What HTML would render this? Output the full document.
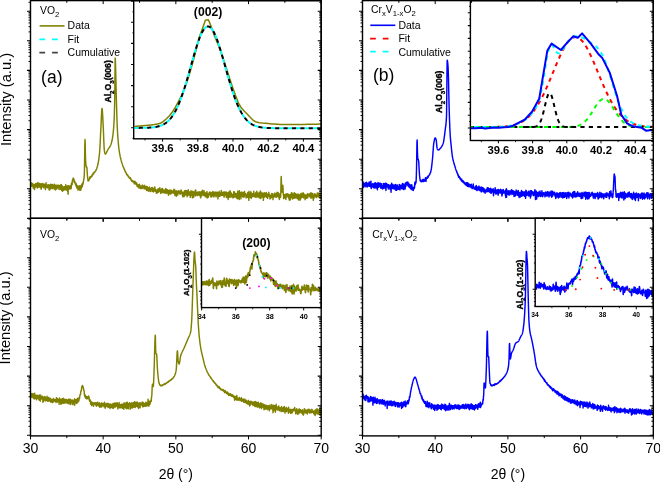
<!DOCTYPE html>
<html><head><meta charset="utf-8"><style>
html,body{margin:0;padding:0;background:#fff;width:660px;height:482px;overflow:hidden}
svg{display:block;will-change:transform;font-family:"Liberation Sans", sans-serif}
</style></head><body>
<svg width="660" height="482" viewBox="0 0 660 482">
<rect width="660" height="482" fill="#fff"/>
<path d="M30.60 184.50L30.75 184.07L30.90 184.96L31.05 185.99L31.20 185.29L31.35 186.20L31.50 184.52L31.65 182.72L31.80 185.42L31.95 185.65L32.10 183.95L32.25 184.16L32.40 184.55L32.55 186.25L32.70 184.79L32.85 183.74L33.00 187.04L33.15 185.52L33.30 188.15L33.45 187.00L33.60 188.07L33.75 185.24L33.90 187.01L34.05 184.49L34.20 184.68L34.35 185.23L34.50 189.60L34.65 185.83L34.80 185.06L34.95 184.82L35.10 187.65L35.25 185.80L35.40 186.67L35.55 186.39L35.70 183.53L35.85 186.42L36.00 185.16L36.15 183.82L36.30 186.09L36.45 185.33L36.60 185.00L36.75 185.09L36.90 187.28L37.05 185.10L37.20 183.27L37.35 187.93L37.50 183.98L37.65 185.09L37.80 186.34L37.95 182.50L38.10 184.18L38.25 187.37L38.40 185.24L38.55 184.49L38.70 185.68L38.85 184.36L39.00 185.51L39.15 184.41L39.30 183.35L39.45 186.56L39.60 185.15L39.75 186.23L39.90 185.29L40.05 187.53L40.20 186.46L40.35 185.84L40.50 184.20L40.65 183.87L40.80 187.85L40.95 186.90L41.10 184.61L41.25 189.21L41.40 186.37L41.55 185.79L41.70 183.80L41.85 184.61L42.00 186.19L42.15 186.27L42.30 186.09L42.45 183.49L42.60 186.41L42.75 186.21L42.90 185.19L43.05 185.94L43.20 186.07L43.35 187.67L43.50 185.80L43.65 186.51L43.80 184.08L43.95 184.82L44.10 185.86L44.25 184.82L44.40 186.40L44.55 184.29L44.70 185.88L44.85 184.99L45.00 188.11L45.15 185.36L45.30 188.90L45.45 189.63L45.60 186.42L45.75 187.45L45.90 185.70L46.05 182.83L46.20 187.36L46.35 187.01L46.50 185.67L46.65 185.25L46.80 186.30L46.95 186.36L47.10 184.97L47.25 185.25L47.40 187.81L47.55 186.19L47.70 186.02L47.85 187.88L48.00 185.69L48.15 187.54L48.30 184.67L48.45 185.83L48.60 186.00L48.75 187.12L48.90 186.35L49.05 189.80L49.20 188.11L49.35 185.63L49.50 190.11L49.65 184.94L49.80 189.34L49.95 185.10L50.10 187.66L50.25 185.09L50.40 186.07L50.55 188.98L50.70 184.46L50.85 184.21L51.00 186.42L51.15 186.77L51.30 186.60L51.45 188.00L51.60 184.74L51.75 187.27L51.90 186.47L52.05 187.73L52.20 187.45L52.35 188.63L52.50 184.59L52.65 186.70L52.80 185.02L52.95 186.46L53.10 187.65L53.25 187.04L53.40 187.45L53.55 186.52L53.70 187.16L53.85 187.05L54.00 188.99L54.15 187.95L54.30 184.21L54.45 187.74L54.60 188.44L54.75 186.13L54.90 184.60L55.05 189.24L55.20 187.04L55.35 187.77L55.50 189.91L55.65 185.62L55.80 186.80L55.95 186.66L56.10 188.06L56.25 186.10L56.40 187.72L56.55 187.07L56.70 188.76L56.85 188.98L57.00 184.90L57.15 187.74L57.30 186.45L57.45 186.98L57.60 187.67L57.75 187.80L57.90 186.00L58.05 187.48L58.20 187.24L58.35 186.98L58.50 185.26L58.65 185.99L58.80 186.45L58.95 188.01L59.10 189.52L59.25 185.65L59.40 185.64L59.55 187.35L59.70 186.29L59.85 185.95L60.00 185.89L60.15 185.77L60.30 187.94L60.45 184.97L60.60 189.38L60.75 185.90L60.90 186.46L61.05 185.91L61.20 184.54L61.35 185.07L61.50 189.26L61.65 190.33L61.80 186.04L61.95 189.04L62.10 187.33L62.25 186.03L62.40 190.28L62.55 191.27L62.70 186.93L62.85 187.28L63.00 187.76L63.15 187.31L63.30 188.84L63.45 190.08L63.60 187.66L63.75 189.07L63.90 190.37L64.05 186.63L64.20 187.53L64.35 186.80L64.50 189.14L64.65 188.56L64.80 189.18L64.95 188.98L65.10 187.17L65.25 188.81L65.40 186.93L65.55 186.97L65.70 184.61L65.85 189.98L66.00 186.17L66.15 187.68L66.30 187.56L66.45 190.11L66.60 188.31L66.75 186.41L66.90 187.69L67.05 187.44L67.20 188.04L67.35 185.85L67.50 187.61L67.65 191.69L67.80 188.74L67.95 191.19L68.10 194.23L68.25 188.47L68.40 185.63L68.55 187.52L68.70 189.61L68.85 189.19L69.00 185.92L69.15 187.35L69.30 187.50L69.45 187.63L69.60 187.45L69.75 186.26L69.90 186.57L70.05 187.00L70.20 188.94L70.35 186.41L70.50 188.13L70.65 185.44L70.80 188.86L70.95 186.94L71.10 186.59L71.25 188.19L71.40 183.67L71.55 183.44L71.70 184.94L71.85 182.83L72.00 182.45L72.15 184.60L72.30 181.01L72.45 180.54L72.60 179.80L72.75 180.12L72.90 179.17L73.05 178.93L73.20 178.07L73.35 178.75L73.50 179.21L73.65 178.49L73.80 180.31L73.95 180.62L74.10 182.28L74.25 179.98L74.40 180.85L74.55 181.26L74.70 181.80L74.85 182.62L75.00 182.85L75.15 183.66L75.30 183.97L75.45 184.04L75.60 182.85L75.75 184.13L75.90 185.13L76.05 186.06L76.20 186.41L76.35 183.93L76.50 185.36L76.65 186.07L76.80 186.79L76.95 188.07L77.10 186.73L77.25 185.63L77.40 187.51L77.55 187.42L77.70 187.55L77.85 187.21L78.00 190.10L78.15 187.98L78.30 189.10L78.45 186.57L78.60 189.20L78.75 187.19L78.90 185.96L79.05 188.73L79.20 189.28L79.35 188.05L79.50 188.41L79.65 190.15L79.80 187.76L79.95 185.61L80.10 188.92L80.25 188.81L80.40 190.19L80.55 187.81L80.70 190.25L80.85 189.79L81.00 186.00L81.15 188.94L81.30 185.85L81.45 185.09L81.60 186.42L81.75 185.78L81.90 183.92L82.05 186.15L82.20 186.31L82.35 186.88L82.50 184.76L82.65 182.88L82.80 182.94L82.95 184.27L83.10 183.56L83.25 182.57L83.40 181.24L83.55 180.91L83.70 179.87L83.85 178.99L84.00 178.29L84.15 176.78L84.30 174.91L84.45 169.56L84.60 159.56L84.75 148.81L84.90 141.01L85.05 139.55L85.20 143.89L85.35 150.76L85.50 157.46L85.65 160.96L85.80 162.94L85.95 164.75L86.10 166.11L86.25 166.93L86.40 166.88L86.55 167.07L86.70 166.99L86.85 167.05L87.00 168.88L87.15 171.37L87.30 173.97L87.45 175.55L87.60 176.92L87.75 178.74L87.90 179.14L88.05 180.94L88.20 179.90L88.35 180.04L88.50 179.91L88.65 180.77L88.80 179.75L88.95 179.79L89.10 179.51L89.25 179.03L89.40 179.18L89.55 178.86L89.70 177.32L89.85 177.65L90.00 177.28L90.15 176.76L90.30 178.06L90.45 177.45L90.60 176.87L90.75 176.66L90.90 176.93L91.05 176.15L91.20 176.40L91.35 176.93L91.50 176.63L91.65 175.66L91.80 175.64L91.95 176.51L92.10 174.91L92.25 175.02L92.40 174.53L92.55 175.02L92.70 174.77L92.85 174.88L93.00 173.30L93.15 174.07L93.30 173.23L93.45 173.80L93.60 173.30L93.75 173.72L93.90 173.06L94.05 172.42L94.20 172.94L94.35 172.01L94.50 172.05L94.65 172.29L94.80 171.93L94.95 171.73L95.10 171.41L95.25 171.35L95.40 171.21L95.55 170.84L95.70 170.79L95.85 170.60L96.00 170.01L96.15 169.50L96.30 169.76L96.45 169.07L96.60 168.86L96.75 168.55L96.90 167.78L97.05 167.62L97.20 166.79L97.35 166.71L97.50 165.99L97.65 165.53L97.80 165.01L97.95 164.16L98.10 163.54L98.25 162.65L98.40 161.88L98.55 161.05L98.70 159.95L98.85 158.85L99.00 157.63L99.15 156.51L99.30 155.13L99.45 153.79L99.60 152.17L99.75 150.41L99.90 148.11L100.05 145.37L100.20 142.39L100.35 139.29L100.50 136.08L100.65 132.91L100.80 129.89L100.95 127.05L101.10 123.86L101.25 120.35L101.40 116.82L101.55 113.58L101.70 110.90L101.85 109.07L102.00 108.40L102.15 108.85L102.30 110.09L102.45 111.98L102.60 114.38L102.75 117.14L102.90 120.12L103.05 123.16L103.20 126.13L103.35 128.96L103.50 132.39L103.65 136.34L103.80 140.43L103.95 144.22L104.10 147.40L104.25 149.61L104.40 150.71L104.55 151.59L104.70 152.32L104.85 153.18L105.00 153.54L105.15 153.94L105.30 153.95L105.45 154.03L105.60 153.91L105.75 153.84L105.90 153.64L106.05 153.32L106.20 153.10L106.35 152.89L106.50 152.61L106.65 152.34L106.80 151.95L106.95 151.60L107.10 151.26L107.25 150.93L107.40 150.63L107.55 150.27L107.70 149.96L107.85 149.62L108.00 149.34L108.15 149.16L108.30 148.95L108.45 148.70L108.60 148.50L108.75 148.29L108.90 148.07L109.05 147.89L109.20 147.63L109.35 147.44L109.50 147.21L109.65 147.00L109.80 146.78L109.95 146.54L110.10 146.26L110.25 145.99L110.40 145.68L110.55 145.37L110.70 145.07L110.85 144.67L111.00 144.30L111.15 143.85L111.30 143.37L111.45 142.88L111.60 142.28L111.75 141.66L111.90 141.01L112.05 140.31L112.20 139.56L112.35 138.76L112.50 137.90L112.65 136.99L112.80 135.99L112.95 134.89L113.10 133.64L113.25 132.24L113.40 130.68L113.55 128.94L113.70 126.98L113.85 124.82L114.00 122.40L114.15 119.39L114.30 115.42L114.45 110.47L114.60 104.52L114.75 96.90L114.90 81.83L115.05 65.65L115.20 58.10L115.35 59.80L115.50 64.03L115.65 69.52L115.80 75.00L115.95 80.73L116.10 87.32L116.25 94.00L116.40 100.00L116.55 105.45L116.70 110.85L116.85 116.01L117.00 120.73L117.15 124.79L117.30 128.00L117.45 130.63L117.60 133.11L117.75 135.41L117.90 137.58L118.05 139.63L118.20 141.51L118.35 143.28L118.50 144.90L118.65 146.37L118.80 147.74L118.95 149.00L119.10 150.11L119.25 151.21L119.40 152.12L119.55 152.99L119.70 153.84L119.85 154.63L120.00 155.43L120.15 156.21L120.30 156.87L120.45 157.63L120.60 158.32L120.75 158.77L120.90 159.41L121.05 159.95L121.20 160.66L121.35 161.07L121.50 161.61L121.65 162.13L121.80 162.77L121.95 163.04L122.10 163.37L122.25 163.89L122.40 164.47L122.55 164.85L122.70 165.20L122.85 166.14L123.00 166.19L123.15 166.50L123.30 166.88L123.45 167.10L123.60 167.57L123.75 168.08L123.90 168.44L124.05 168.70L124.20 169.30L124.35 169.54L124.50 169.67L124.65 169.76L124.80 170.54L124.95 170.82L125.10 171.07L125.25 171.09L125.40 171.72L125.55 171.63L125.70 172.55L125.85 172.62L126.00 172.90L126.15 172.88L126.30 173.07L126.45 174.09L126.60 174.16L126.75 174.01L126.90 174.56L127.05 175.09L127.20 174.45L127.35 174.85L127.50 175.06L127.65 175.61L127.80 175.28L127.95 175.95L128.10 175.65L128.25 176.62L128.40 176.81L128.55 176.58L128.70 177.15L128.85 176.77L129.00 177.13L129.15 177.83L129.30 177.58L129.45 177.95L129.60 177.56L129.75 178.45L129.90 178.53L130.05 177.94L130.20 177.63L130.35 177.89L130.50 178.97L130.65 179.06L130.80 178.56L130.95 179.55L131.10 180.17L131.25 179.74L131.40 179.71L131.55 180.57L131.70 181.21L131.85 181.24L132.00 180.16L132.15 181.13L132.30 180.90L132.45 180.83L132.60 180.72L132.75 181.43L132.90 181.05L133.05 182.06L133.20 181.85L133.35 182.43L133.50 181.17L133.65 182.03L133.80 182.65L133.95 182.51L134.10 182.55L134.25 182.05L134.40 183.82L134.55 183.53L134.70 183.18L134.85 181.31L135.00 182.47L135.15 183.35L135.30 182.87L135.45 182.04L135.60 183.80L135.75 184.02L135.90 182.94L136.05 183.58L136.20 183.55L136.35 184.59L136.50 182.81L136.65 183.06L136.80 184.04L136.95 184.04L137.10 186.53L137.25 184.26L137.40 185.06L137.55 184.62L137.70 184.50L137.85 185.47L138.00 186.84L138.15 185.02L138.30 186.11L138.45 185.80L138.60 186.14L138.75 185.97L138.90 188.06L139.05 184.72L139.20 185.64L139.35 184.93L139.50 184.26L139.65 186.04L139.80 187.97L139.95 187.07L140.10 187.46L140.25 186.79L140.40 186.28L140.55 188.53L140.70 186.13L140.85 188.10L141.00 186.28L141.15 186.73L141.30 186.99L141.45 186.80L141.60 187.33L141.75 187.46L141.90 188.70L142.05 186.95L142.20 185.20L142.35 185.12L142.50 185.76L142.65 186.39L142.80 187.87L142.95 185.77L143.10 187.29L143.25 187.35L143.40 187.63L143.55 187.26L143.70 187.87L143.85 187.53L144.00 188.69L144.15 187.92L144.30 185.32L144.45 187.67L144.60 187.89L144.75 187.11L144.90 186.96L145.05 189.02L145.20 188.01L145.35 186.85L145.50 187.56L145.65 187.76L145.80 186.32L145.95 188.73L146.10 187.90L146.25 188.62L146.40 186.50L146.55 190.49L146.70 188.91L146.85 188.78L147.00 187.48L147.15 187.57L147.30 186.78L147.45 190.23L147.60 187.51L147.75 188.71L147.90 189.19L148.05 187.84L148.20 189.58L148.35 191.16L148.50 188.98L148.65 190.45L148.80 189.39L148.95 188.22L149.10 188.32L149.25 186.98L149.40 188.99L149.55 190.73L149.70 189.74L149.85 189.99L150.00 190.42L150.15 188.41L150.30 189.74L150.45 191.60L150.60 188.21L150.75 189.18L150.90 188.66L151.05 188.99L151.20 188.40L151.35 189.13L151.50 187.78L151.65 188.73L151.80 188.80L151.95 188.81L152.10 191.27L152.25 189.57L152.40 189.72L152.55 189.17L152.70 191.27L152.85 187.60L153.00 189.39L153.15 191.17L153.30 191.93L153.45 189.97L153.60 189.76L153.75 190.61L153.90 189.59L154.05 190.57L154.20 189.08L154.35 190.75L154.50 189.87L154.65 188.65L154.80 186.93L154.95 191.27L155.10 190.55L155.25 191.09L155.40 189.01L155.55 191.60L155.70 190.69L155.85 190.11L156.00 191.44L156.15 191.44L156.30 190.79L156.45 193.29L156.60 192.26L156.75 190.79L156.90 190.06L157.05 190.53L157.20 192.91L157.35 190.96L157.50 189.33L157.65 189.66L157.80 190.51L157.95 191.68L158.10 189.63L158.25 191.28L158.40 192.18L158.55 191.65L158.70 188.72L158.85 190.27L159.00 189.10L159.15 191.28L159.30 189.42L159.45 191.50L159.60 190.89L159.75 187.68L159.90 189.71L160.05 191.45L160.20 190.88L160.35 190.34L160.50 189.23L160.65 191.51L160.80 193.50L160.95 191.25L161.10 190.86L161.25 190.75L161.40 189.21L161.55 190.50L161.70 189.87L161.85 192.61L162.00 189.83L162.15 188.37L162.30 189.99L162.45 190.70L162.60 190.85L162.75 188.79L162.90 192.48L163.05 191.27L163.20 190.50L163.35 190.14L163.50 191.80L163.65 190.76L163.80 191.60L163.95 191.05L164.10 191.43L164.25 192.99L164.40 191.30L164.55 190.10L164.70 192.76L164.85 191.67L165.00 190.42L165.15 192.98L165.30 191.11L165.45 193.00L165.60 189.87L165.75 188.46L165.90 188.81L166.05 191.77L166.20 190.44L166.35 191.31L166.50 191.35L166.65 189.45L166.80 193.59L166.95 190.10L167.10 191.63L167.25 189.67L167.40 191.32L167.55 192.62L167.70 191.22L167.85 190.60L168.00 191.59L168.15 190.97L168.30 192.46L168.45 195.26L168.60 190.45L168.75 190.73L168.90 191.51L169.05 191.64L169.20 190.32L169.35 192.46L169.50 192.87L169.65 192.08L169.80 190.17L169.95 194.05L170.10 190.19L170.25 192.83L170.40 193.60L170.55 190.14L170.70 192.04L170.85 193.99L171.00 192.46L171.15 190.62L171.30 190.29L171.45 192.61L171.60 191.38L171.75 190.96L171.90 192.99L172.05 191.49L172.20 192.07L172.35 192.86L172.50 192.80L172.65 191.96L172.80 192.03L172.95 192.96L173.10 192.75L173.25 190.54L173.40 191.81L173.55 190.87L173.70 190.46L173.85 191.30L174.00 189.15L174.15 193.49L174.30 191.03L174.45 192.70L174.60 189.69L174.75 189.90L174.90 195.59L175.05 193.81L175.20 191.30L175.35 191.14L175.50 191.22L175.65 192.41L175.80 191.64L175.95 191.37L176.10 192.46L176.25 190.88L176.40 196.35L176.55 191.45L176.70 194.06L176.85 191.02L177.00 192.76L177.15 193.85L177.30 191.88L177.45 193.92L177.60 193.93L177.75 195.11L177.90 192.52L178.05 191.75L178.20 191.03L178.35 192.73L178.50 191.01L178.65 192.51L178.80 192.69L178.95 191.71L179.10 191.04L179.25 193.12L179.40 192.97L179.55 192.85L179.70 192.49L179.85 194.09L180.00 191.15L180.15 193.28L180.30 191.97L180.45 194.01L180.60 192.14L180.75 192.10L180.90 193.37L181.05 189.92L181.20 192.17L181.35 190.25L181.50 191.34L181.65 193.83L181.80 193.38L181.95 192.12L182.10 192.70L182.25 192.72L182.40 193.26L182.55 195.99L182.70 193.19L182.85 196.86L183.00 192.29L183.15 194.05L183.30 194.04L183.45 193.23L183.60 192.48L183.75 195.36L183.90 195.98L184.05 194.70L184.20 196.60L184.35 194.55L184.50 190.68L184.65 194.73L184.80 191.99L184.95 195.33L185.10 192.53L185.25 193.51L185.40 193.10L185.55 192.16L185.70 190.53L185.85 192.74L186.00 192.85L186.15 194.68L186.30 192.18L186.45 193.47L186.60 191.84L186.75 193.16L186.90 190.62L187.05 196.68L187.20 193.59L187.35 191.81L187.50 193.70L187.65 194.45L187.80 193.58L187.95 195.54L188.10 192.98L188.25 189.81L188.40 191.49L188.55 195.07L188.70 194.66L188.85 193.86L189.00 191.72L189.15 194.59L189.30 194.37L189.45 191.91L189.60 191.95L189.75 193.86L189.90 195.16L190.05 195.98L190.20 194.43L190.35 197.40L190.50 192.15L190.65 194.33L190.80 192.56L190.95 190.65L191.10 191.58L191.25 195.28L191.40 192.02L191.55 191.62L191.70 194.58L191.85 194.95L192.00 193.53L192.15 196.18L192.30 191.22L192.45 197.88L192.60 195.26L192.75 193.81L192.90 193.75L193.05 193.13L193.20 192.98L193.35 193.75L193.50 191.73L193.65 197.34L193.80 193.42L193.95 194.61L194.10 193.22L194.25 193.09L194.40 194.97L194.55 194.50L194.70 192.26L194.85 192.92L195.00 194.59L195.15 190.59L195.30 190.26L195.45 196.03L195.60 193.01L195.75 190.03L195.90 192.31L196.05 193.15L196.20 193.84L196.35 194.39L196.50 193.85L196.65 194.42L196.80 192.40L196.95 194.17L197.10 194.25L197.25 195.59L197.40 193.62L197.55 195.04L197.70 193.84L197.85 192.01L198.00 192.99L198.15 192.79L198.30 193.02L198.45 193.48L198.60 193.78L198.75 194.08L198.90 192.44L199.05 195.43L199.20 191.64L199.35 193.55L199.50 194.85L199.65 194.41L199.80 194.73L199.95 193.37L200.10 194.81L200.25 191.94L200.40 194.93L200.55 197.85L200.70 194.85L200.85 197.29L201.00 193.71L201.15 192.08L201.30 192.67L201.45 195.97L201.60 194.93L201.75 191.13L201.90 193.18L202.05 193.67L202.20 192.11L202.35 190.30L202.50 191.79L202.65 193.48L202.80 193.15L202.95 192.77L203.10 194.72L203.25 195.51L203.40 193.64L203.55 195.32L203.70 193.83L203.85 193.58L204.00 190.48L204.15 195.17L204.30 193.94L204.45 194.02L204.60 193.08L204.75 192.20L204.90 194.57L205.05 195.15L205.20 196.69L205.35 195.35L205.50 192.96L205.65 193.72L205.80 195.52L205.95 194.41L206.10 193.76L206.25 193.03L206.40 194.80L206.55 194.23L206.70 197.11L206.85 195.81L207.00 191.49L207.15 197.91L207.30 194.40L207.45 193.51L207.60 194.47L207.75 195.22L207.90 193.97L208.05 193.88L208.20 194.01L208.35 197.30L208.50 194.13L208.65 195.34L208.80 194.80L208.95 193.55L209.10 192.92L209.25 192.56L209.40 194.74L209.55 192.53L209.70 192.18L209.85 192.23L210.00 191.89L210.15 194.18L210.30 194.23L210.45 192.70L210.60 196.36L210.75 193.63L210.90 194.85L211.05 194.58L211.20 197.13L211.35 195.50L211.50 194.02L211.65 192.64L211.80 192.50L211.95 194.14L212.10 194.32L212.25 195.42L212.40 193.39L212.55 194.43L212.70 193.09L212.85 191.49L213.00 194.09L213.15 196.71L213.30 195.51L213.45 196.64L213.60 196.14L213.75 192.12L213.90 193.71L214.05 196.78L214.20 193.07L214.35 192.20L214.50 194.68L214.65 195.22L214.80 194.65L214.95 193.65L215.10 193.11L215.25 192.34L215.40 192.30L215.55 192.34L215.70 192.10L215.85 193.10L216.00 196.86L216.15 194.34L216.30 193.64L216.45 194.77L216.60 192.76L216.75 194.74L216.90 195.73L217.05 192.02L217.20 193.13L217.35 193.82L217.50 192.76L217.65 192.57L217.80 193.64L217.95 198.90L218.10 195.32L218.25 194.94L218.40 195.88L218.55 193.88L218.70 192.42L218.85 195.01L219.00 196.18L219.15 191.31L219.30 194.96L219.45 196.37L219.60 193.85L219.75 193.56L219.90 195.42L220.05 193.03L220.20 195.05L220.35 195.82L220.50 193.97L220.65 193.07L220.80 195.32L220.95 193.74L221.10 194.42L221.25 190.38L221.40 195.46L221.55 192.22L221.70 194.36L221.85 194.49L222.00 193.18L222.15 192.93L222.30 192.41L222.45 193.78L222.60 195.31L222.75 195.20L222.90 193.52L223.05 193.41L223.20 192.25L223.35 193.67L223.50 192.73L223.65 192.10L223.80 194.07L223.95 196.98L224.10 196.39L224.25 196.89L224.40 192.02L224.55 195.79L224.70 192.51L224.85 193.45L225.00 191.87L225.15 192.85L225.30 194.54L225.45 194.70L225.60 194.24L225.75 194.10L225.90 195.27L226.05 194.44L226.20 192.04L226.35 197.47L226.50 193.99L226.65 195.95L226.80 194.11L226.95 193.13L227.10 194.51L227.25 193.23L227.40 197.27L227.55 192.76L227.70 195.43L227.85 193.47L228.00 194.14L228.15 199.46L228.30 195.72L228.45 194.10L228.60 192.17L228.75 194.00L228.90 194.05L229.05 196.96L229.20 192.35L229.35 191.85L229.50 194.42L229.65 194.83L229.80 197.38L229.95 193.13L230.10 190.74L230.25 193.38L230.40 192.60L230.55 193.65L230.70 196.19L230.85 192.51L231.00 196.66L231.15 194.85L231.30 194.07L231.45 193.17L231.60 193.87L231.75 193.91L231.90 195.81L232.05 196.79L232.20 194.43L232.35 195.73L232.50 196.83L232.65 196.76L232.80 195.36L232.95 197.93L233.10 196.92L233.25 197.49L233.40 194.27L233.55 193.92L233.70 191.69L233.85 197.23L234.00 195.71L234.15 193.19L234.30 194.93L234.45 195.12L234.60 192.09L234.75 195.14L234.90 196.60L235.05 196.91L235.20 194.07L235.35 194.12L235.50 197.02L235.65 196.30L235.80 193.78L235.95 193.72L236.10 195.69L236.25 193.66L236.40 193.73L236.55 197.87L236.70 195.14L236.85 193.98L237.00 195.59L237.15 198.64L237.30 195.10L237.45 193.49L237.60 192.33L237.75 198.76L237.90 191.02L238.05 196.61L238.20 193.21L238.35 192.82L238.50 193.18L238.65 194.43L238.80 196.69L238.95 193.71L239.10 195.88L239.25 199.55L239.40 190.79L239.55 193.60L239.70 192.06L239.85 196.25L240.00 192.53L240.15 192.37L240.30 192.42L240.45 194.74L240.60 196.80L240.75 195.00L240.90 198.86L241.05 197.80L241.20 194.58L241.35 196.43L241.50 195.00L241.65 194.91L241.80 191.96L241.95 192.81L242.10 194.81L242.25 192.94L242.40 196.07L242.55 195.30L242.70 193.37L242.85 196.92L243.00 195.22L243.15 197.08L243.30 194.58L243.45 192.38L243.60 196.04L243.75 194.42L243.90 196.31L244.05 196.78L244.20 196.94L244.35 192.64L244.50 191.46L244.65 194.04L244.80 196.00L244.95 193.71L245.10 195.35L245.25 193.58L245.40 194.35L245.55 194.37L245.70 193.87L245.85 195.78L246.00 195.49L246.15 197.94L246.30 195.56L246.45 197.35L246.60 195.07L246.75 196.47L246.90 194.68L247.05 194.13L247.20 197.36L247.35 196.23L247.50 196.46L247.65 193.71L247.80 192.37L247.95 193.56L248.10 195.44L248.25 192.71L248.40 197.57L248.55 192.67L248.70 195.98L248.85 200.37L249.00 191.21L249.15 192.57L249.30 196.67L249.45 194.63L249.60 195.25L249.75 194.74L249.90 197.54L250.05 196.05L250.20 194.18L250.35 194.56L250.50 193.12L250.65 194.79L250.80 191.62L250.95 196.13L251.10 194.52L251.25 198.46L251.40 197.13L251.55 192.97L251.70 196.56L251.85 194.12L252.00 195.05L252.15 196.76L252.30 195.53L252.45 195.82L252.60 195.77L252.75 193.81L252.90 193.97L253.05 195.94L253.20 196.53L253.35 194.54L253.50 195.15L253.65 193.44L253.80 191.31L253.95 193.71L254.10 195.06L254.25 195.28L254.40 196.46L254.55 196.56L254.70 196.74L254.85 195.67L255.00 195.73L255.15 193.88L255.30 195.69L255.45 195.35L255.60 197.16L255.75 192.64L255.90 194.25L256.05 192.45L256.20 193.83L256.35 192.86L256.50 195.46L256.65 193.96L256.80 191.32L256.95 197.20L257.10 193.31L257.25 192.60L257.40 194.42L257.55 193.91L257.70 193.18L257.85 196.21L258.00 194.44L258.15 196.61L258.30 196.26L258.45 196.16L258.60 195.34L258.75 194.87L258.90 194.39L259.05 197.69L259.20 192.22L259.35 193.35L259.50 193.98L259.65 195.73L259.80 195.28L259.95 194.26L260.10 194.48L260.25 198.26L260.40 193.98L260.55 191.07L260.70 198.62L260.85 193.61L261.00 194.57L261.15 195.35L261.30 193.08L261.45 197.28L261.60 194.91L261.75 192.96L261.90 195.51L262.05 195.89L262.20 195.00L262.35 195.94L262.50 192.86L262.65 196.79L262.80 193.83L262.95 197.45L263.10 194.14L263.25 195.38L263.40 200.39L263.55 195.22L263.70 197.11L263.85 195.97L264.00 192.90L264.15 197.22L264.30 197.11L264.45 193.05L264.60 195.04L264.75 192.91L264.90 194.72L265.05 196.79L265.20 195.36L265.35 193.36L265.50 193.78L265.65 195.25L265.80 195.18L265.95 195.45L266.10 196.26L266.25 192.41L266.40 195.26L266.55 197.29L266.70 196.09L266.85 194.13L267.00 194.26L267.15 195.51L267.30 196.44L267.45 195.25L267.60 198.40L267.75 197.65L267.90 194.04L268.05 196.11L268.20 194.69L268.35 193.43L268.50 194.27L268.65 195.27L268.80 192.20L268.95 194.25L269.10 195.91L269.25 194.16L269.40 194.66L269.55 196.82L269.70 195.20L269.85 195.60L270.00 199.07L270.15 195.62L270.30 195.81L270.45 196.08L270.60 198.39L270.75 195.94L270.90 195.40L271.05 195.17L271.20 197.37L271.35 194.34L271.50 197.53L271.65 195.72L271.80 193.36L271.95 196.55L272.10 196.23L272.25 193.69L272.40 196.01L272.55 195.86L272.70 195.00L272.85 193.74L273.00 199.64L273.15 196.81L273.30 197.15L273.45 197.30L273.60 196.86L273.75 196.84L273.90 194.89L274.05 196.93L274.20 195.18L274.35 194.73L274.50 196.64L274.65 195.17L274.80 192.93L274.95 194.86L275.10 196.48L275.25 195.49L275.40 196.99L275.55 194.95L275.70 194.04L275.85 196.81L276.00 195.74L276.15 193.68L276.30 196.24L276.45 195.09L276.60 197.19L276.75 196.81L276.90 196.26L277.05 192.30L277.20 196.07L277.35 196.28L277.50 196.33L277.65 195.67L277.80 194.38L277.95 195.10L278.10 192.46L278.25 195.06L278.40 193.26L278.55 194.96L278.70 194.46L278.85 197.96L279.00 195.61L279.15 195.51L279.30 195.80L279.45 199.43L279.60 194.06L279.75 196.02L279.90 196.09L280.05 195.75L280.20 195.65L280.35 194.58L280.50 197.33L280.65 196.59L280.80 192.61L280.95 185.36L281.10 178.08L281.25 176.57L281.40 181.63L281.55 187.81L281.70 189.81L281.85 192.09L282.00 189.24L282.15 189.59L282.30 190.44L282.45 187.85L282.60 186.96L282.75 185.13L282.90 185.78L283.05 189.18L283.20 193.19L283.35 194.90L283.50 194.36L283.65 198.60L283.80 194.32L283.95 197.78L284.10 196.54L284.25 196.21L284.40 197.59L284.55 198.02L284.70 197.34L284.85 195.64L285.00 194.71L285.15 194.76L285.30 197.35L285.45 196.99L285.60 197.23L285.75 194.96L285.90 199.45L286.05 193.82L286.20 196.48L286.35 197.01L286.50 195.16L286.65 194.14L286.80 195.16L286.95 194.12L287.10 195.50L287.25 193.88L287.40 193.87L287.55 195.89L287.70 193.61L287.85 195.48L288.00 195.61L288.15 197.32L288.30 196.23L288.45 194.57L288.60 198.07L288.75 194.76L288.90 195.22L289.05 195.34L289.20 199.93L289.35 195.95L289.50 194.78L289.65 197.08L289.80 195.65L289.95 200.33L290.10 194.76L290.25 196.91L290.40 194.48L290.55 199.17L290.70 194.74L290.85 196.20L291.00 194.58L291.15 197.40L291.30 196.86L291.45 192.65L291.60 197.24L291.75 197.02L291.90 196.28L292.05 197.59L292.20 194.05L292.35 193.33L292.50 197.02L292.65 198.97L292.80 194.09L292.95 194.18L293.10 194.59L293.25 194.11L293.40 197.33L293.55 196.13L293.70 198.30L293.85 198.36L294.00 194.37L294.15 196.99L294.30 192.64L294.45 195.74L294.60 196.94L294.75 194.64L294.90 193.25L295.05 195.11L295.20 197.99L295.35 195.29L295.50 193.83L295.65 196.69L295.80 197.18L295.95 194.34L296.10 195.65L296.25 197.78L296.40 196.50L296.55 197.15L296.70 195.41L296.85 195.70L297.00 194.15L297.15 194.79L297.30 198.68L297.45 195.24L297.60 194.52L297.75 195.17L297.90 194.33L298.05 196.80L298.20 197.51L298.35 194.47L298.50 197.73L298.65 199.94L298.80 194.34L298.95 197.11L299.10 196.39L299.25 198.36L299.40 198.22L299.55 197.90L299.70 196.49L299.85 195.32L300.00 200.25L300.15 194.75L300.30 197.96L300.45 197.74L300.60 194.86L300.75 196.03L300.90 198.65L301.05 193.24L301.20 197.37L301.35 195.52L301.50 195.59L301.65 193.82L301.80 196.67L301.95 194.39L302.10 197.17L302.25 194.23L302.40 197.21L302.55 196.52L302.70 193.19L302.85 195.42L303.00 195.75L303.15 192.75L303.30 195.36L303.45 197.31L303.60 194.80L303.75 197.98L303.90 194.23L304.05 194.13L304.20 196.89L304.35 196.98L304.50 195.65L304.65 195.91L304.80 197.61L304.95 195.05L305.10 199.73L305.25 196.65L305.40 196.61L305.55 196.39L305.70 195.46L305.85 198.08L306.00 195.03L306.15 196.24L306.30 197.04L306.45 198.36L306.60 198.00L306.75 195.38L306.90 197.60L307.05 195.85L307.20 194.35L307.35 194.39L307.50 193.66L307.65 196.44L307.80 197.83L307.95 194.41L308.10 195.47L308.25 194.27L308.40 195.94L308.55 194.17L308.70 194.67L308.85 194.86L309.00 195.18L309.15 195.34L309.30 195.59L309.45 195.61L309.60 194.47L309.75 196.82L309.90 193.44L310.05 196.14L310.20 194.48L310.35 196.12L310.50 196.37L310.65 193.06L310.80 196.48L310.95 198.21L311.10 197.18L311.25 196.49L311.40 192.91L311.55 195.65L311.70 194.56L311.85 197.70L312.00 195.42L312.15 194.94L312.30 193.37L312.45 197.15L312.60 195.05L312.75 195.50L312.90 197.74L313.05 196.01L313.20 196.41L313.35 200.40L313.50 195.06L313.65 195.14L313.80 196.71L313.95 198.34L314.10 193.80L314.25 195.57L314.40 194.45L314.55 193.90L314.70 196.85L314.85 194.75L315.00 196.38L315.15 196.09L315.30 196.13L315.45 195.99L315.60 194.32L315.75 195.79L315.90 196.24L316.05 196.44L316.20 195.46L316.35 197.52L316.50 196.83L316.65 196.08L316.80 196.94L316.95 196.19L317.10 197.02L317.25 193.12L317.40 194.02L317.55 195.29L317.70 196.08L317.85 192.89L318.00 195.49L318.15 196.14L318.30 195.52L318.45 195.52L318.60 193.91L318.75 196.03L318.90 193.00L319.05 197.50L319.20 194.93L319.35 197.72L319.50 193.37L319.65 196.54L319.80 196.09L319.95 194.59L320.10 194.13L320.25 197.92L320.40 196.57L320.55 198.46L320.70 195.78L320.85 196.16L321.00 196.57L321.15 197.15" stroke="#808000" stroke-width="1.45" fill="none" stroke-linejoin="round" />
<path d="M362.70 184.71L362.85 185.31L363.00 183.33L363.15 181.99L363.30 187.50L363.45 184.32L363.60 184.81L363.75 183.43L363.90 185.72L364.05 184.41L364.20 185.89L364.35 183.17L364.50 184.06L364.65 184.47L364.80 183.67L364.95 184.62L365.10 186.88L365.25 183.38L365.40 183.83L365.55 184.52L365.70 182.86L365.85 182.56L366.00 186.10L366.15 185.57L366.30 182.16L366.45 182.34L366.60 185.53L366.75 186.31L366.90 185.39L367.05 185.17L367.20 187.08L367.35 184.36L367.50 186.54L367.65 186.43L367.80 183.11L367.95 185.54L368.10 184.57L368.25 183.55L368.40 183.30L368.55 185.03L368.70 184.44L368.85 185.85L369.00 182.11L369.15 183.59L369.30 186.37L369.45 184.57L369.60 183.54L369.75 183.88L369.90 182.08L370.05 182.68L370.20 185.49L370.35 184.78L370.50 186.79L370.65 184.30L370.80 184.46L370.95 181.11L371.10 184.56L371.25 188.41L371.40 185.81L371.55 184.58L371.70 186.85L371.85 186.18L372.00 185.36L372.15 184.29L372.30 185.07L372.45 186.27L372.60 183.69L372.75 185.72L372.90 185.67L373.05 187.20L373.20 186.17L373.35 183.96L373.50 187.70L373.65 185.06L373.80 183.91L373.95 185.58L374.10 184.64L374.25 186.87L374.40 183.16L374.55 183.46L374.70 184.71L374.85 188.13L375.00 186.83L375.15 183.70L375.30 182.74L375.45 184.71L375.60 183.38L375.75 186.18L375.90 185.52L376.05 185.23L376.20 184.62L376.35 187.90L376.50 183.91L376.65 183.40L376.80 187.26L376.95 187.66L377.10 184.83L377.25 186.45L377.40 189.77L377.55 184.22L377.70 185.20L377.85 186.23L378.00 182.54L378.15 185.29L378.30 186.76L378.45 185.38L378.60 187.30L378.75 186.83L378.90 185.00L379.05 186.51L379.20 186.36L379.35 183.26L379.50 184.38L379.65 184.48L379.80 184.89L379.95 184.98L380.10 183.62L380.25 185.78L380.40 183.13L380.55 187.39L380.70 186.21L380.85 188.21L381.00 186.39L381.15 185.06L381.30 183.75L381.45 186.98L381.60 185.89L381.75 186.50L381.90 187.16L382.05 187.98L382.20 185.86L382.35 189.06L382.50 185.81L382.65 185.96L382.80 187.10L382.95 187.74L383.10 188.45L383.25 183.37L383.40 188.39L383.55 183.81L383.70 185.17L383.85 186.69L384.00 188.10L384.15 184.57L384.30 183.65L384.45 187.73L384.60 186.65L384.75 184.61L384.90 185.67L385.05 183.36L385.20 187.16L385.35 185.40L385.50 188.41L385.65 183.29L385.80 187.49L385.95 190.40L386.10 186.50L386.25 186.54L386.40 183.59L386.55 186.89L386.70 186.38L386.85 185.46L387.00 184.07L387.15 186.50L387.30 184.85L387.45 185.62L387.60 186.92L387.75 186.33L387.90 186.42L388.05 188.03L388.20 184.68L388.35 188.93L388.50 184.77L388.65 185.09L388.80 186.69L388.95 187.84L389.10 186.93L389.25 185.84L389.40 185.45L389.55 186.15L389.70 185.12L389.85 187.55L390.00 186.27L390.15 189.44L390.30 185.50L390.45 186.43L390.60 187.37L390.75 184.96L390.90 185.65L391.05 192.25L391.20 186.66L391.35 189.30L391.50 185.15L391.65 183.30L391.80 187.63L391.95 186.66L392.10 187.20L392.25 186.25L392.40 185.82L392.55 184.91L392.70 188.51L392.85 184.55L393.00 188.42L393.15 186.42L393.30 185.14L393.45 185.78L393.60 188.47L393.75 188.05L393.90 187.65L394.05 186.98L394.20 185.20L394.35 189.15L394.50 186.20L394.65 186.00L394.80 186.08L394.95 186.22L395.10 184.74L395.25 186.20L395.40 185.67L395.55 186.10L395.70 184.41L395.85 190.38L396.00 185.10L396.15 187.40L396.30 187.43L396.45 188.61L396.60 190.32L396.75 187.60L396.90 188.12L397.05 186.24L397.20 189.54L397.35 184.93L397.50 186.58L397.65 187.39L397.80 188.16L397.95 188.29L398.10 188.89L398.25 187.87L398.40 186.99L398.55 187.27L398.70 189.39L398.85 187.41L399.00 188.45L399.15 186.74L399.30 184.39L399.45 186.05L399.60 187.46L399.75 189.73L399.90 189.33L400.05 189.83L400.20 185.89L400.35 188.16L400.50 186.84L400.65 187.90L400.80 186.78L400.95 184.95L401.10 187.97L401.25 187.40L401.40 188.14L401.55 185.61L401.70 188.47L401.85 188.63L402.00 189.06L402.15 189.07L402.30 186.10L402.45 183.45L402.60 188.29L402.75 185.41L402.90 186.35L403.05 188.40L403.20 187.07L403.35 186.98L403.50 187.65L403.65 184.09L403.80 189.63L403.95 186.01L404.10 186.06L404.25 187.34L404.40 186.25L404.55 185.26L404.70 186.19L404.85 185.77L405.00 185.29L405.15 189.07L405.30 183.98L405.45 182.90L405.60 184.08L405.75 183.79L405.90 186.44L406.05 184.54L406.20 184.98L406.35 184.29L406.50 182.29L406.65 183.66L406.80 182.69L406.95 184.32L407.10 182.59L407.25 182.57L407.40 183.70L407.55 184.15L407.70 181.95L407.85 185.61L408.00 185.75L408.15 185.70L408.30 183.61L408.45 182.86L408.60 184.97L408.75 186.48L408.90 186.27L409.05 184.57L409.20 187.24L409.35 184.34L409.50 184.47L409.65 186.22L409.80 185.56L409.95 185.51L410.10 184.61L410.25 188.16L410.40 185.18L410.55 187.31L410.70 187.96L410.85 186.76L411.00 187.28L411.15 188.52L411.30 189.61L411.45 188.61L411.60 185.32L411.75 184.78L411.90 186.52L412.05 185.90L412.20 188.45L412.35 187.92L412.50 187.53L412.65 189.92L412.80 189.94L412.95 188.28L413.10 189.09L413.25 190.51L413.40 188.15L413.55 189.23L413.70 187.23L413.85 188.66L414.00 188.93L414.15 187.95L414.30 188.04L414.45 188.25L414.60 186.35L414.75 183.38L414.90 182.60L415.05 181.89L415.20 184.62L415.35 183.26L415.50 183.23L415.65 182.64L415.80 183.13L415.95 183.03L416.10 181.02L416.25 178.13L416.40 173.83L416.55 167.72L416.70 159.08L416.85 149.04L417.00 141.38L417.15 140.02L417.30 144.79L417.45 151.62L417.60 156.05L417.75 157.53L417.90 158.66L418.05 159.31L418.20 159.73L418.35 159.98L418.50 160.28L418.65 161.17L418.80 162.61L418.95 165.78L419.10 168.54L419.25 170.98L419.40 173.15L419.55 175.22L419.70 176.79L419.85 178.13L420.00 179.35L420.15 180.08L420.30 180.98L420.45 179.97L420.60 181.21L420.75 180.66L420.90 181.60L421.05 181.34L421.20 181.51L421.35 181.00L421.50 180.71L421.65 181.12L421.80 181.80L421.95 181.85L422.10 179.98L422.25 181.36L422.40 181.32L422.55 179.98L422.70 180.19L422.85 180.53L423.00 181.15L423.15 179.17L423.30 180.43L423.45 180.25L423.60 180.69L423.75 181.53L423.90 181.39L424.05 180.05L424.20 179.98L424.35 180.33L424.50 180.90L424.65 181.01L424.80 180.13L424.95 180.83L425.10 179.16L425.25 178.92L425.40 177.84L425.55 178.89L425.70 179.70L425.85 179.75L426.00 181.38L426.15 179.29L426.30 178.89L426.45 178.08L426.60 178.14L426.75 177.99L426.90 178.04L427.05 177.63L427.20 177.05L427.35 178.21L427.50 177.69L427.65 177.99L427.80 176.28L427.95 176.25L428.10 176.31L428.25 177.05L428.40 176.18L428.55 176.16L428.70 175.81L428.85 175.72L429.00 175.20L429.15 175.36L429.30 174.61L429.45 174.61L429.60 174.55L429.75 174.20L429.90 174.01L430.05 173.25L430.20 173.27L430.35 172.71L430.50 172.53L430.65 172.42L430.80 171.24L430.95 171.22L431.10 170.03L431.25 169.22L431.40 168.68L431.55 167.39L431.70 166.10L431.85 164.87L432.00 163.59L432.15 162.00L432.30 160.74L432.45 159.29L432.60 157.72L432.75 155.77L432.90 153.78L433.05 151.62L433.20 149.50L433.35 147.54L433.50 145.77L433.65 144.31L433.80 143.20L433.95 142.34L434.10 141.52L434.25 140.73L434.40 139.98L434.55 139.31L434.70 138.79L434.85 138.35L435.00 138.05L435.15 137.94L435.30 137.92L435.45 138.06L435.60 138.27L435.75 138.60L435.90 138.99L436.05 139.42L436.20 139.90L436.35 140.81L436.50 142.31L436.65 144.13L436.80 145.90L436.95 147.34L437.10 148.14L437.25 148.59L437.40 148.97L437.55 149.27L437.70 149.54L437.85 149.73L438.00 149.89L438.15 150.00L438.30 149.99L438.45 149.96L438.60 149.91L438.75 149.84L438.90 149.79L439.05 149.73L439.20 149.56L439.35 149.47L439.50 149.26L439.65 149.11L439.80 149.00L439.95 148.76L440.10 148.58L440.25 148.43L440.40 148.20L440.55 148.02L440.70 147.93L440.85 147.69L441.00 147.53L441.15 147.33L441.30 147.12L441.45 146.95L441.60 146.72L441.75 146.48L441.90 146.23L442.05 145.94L442.20 145.69L442.35 145.37L442.50 145.01L442.65 144.68L442.80 144.30L442.95 143.95L443.10 143.51L443.25 143.05L443.40 142.49L443.55 141.83L443.70 141.03L443.85 140.18L444.00 139.23L444.15 138.20L444.30 137.11L444.45 135.98L444.60 134.79L444.75 133.59L444.90 132.37L445.05 131.13L445.20 129.90L445.35 128.75L445.50 127.69L445.65 126.65L445.80 125.52L445.95 124.23L446.10 122.68L446.25 120.78L446.40 118.45L446.55 114.93L446.70 103.39L446.85 86.63L447.00 70.50L447.15 60.86L447.30 60.22L447.45 60.83L447.60 61.86L447.75 63.22L447.90 64.83L448.05 66.71L448.20 69.94L448.35 74.07L448.50 79.55L448.65 86.14L448.80 93.24L448.95 100.23L449.10 106.51L449.25 111.56L449.40 116.13L449.55 120.46L449.70 124.51L449.85 128.18L450.00 131.45L450.15 134.21L450.30 136.45L450.45 138.40L450.60 140.14L450.75 141.68L450.90 143.16L451.05 144.60L451.20 145.95L451.35 147.49L451.50 148.99L451.65 150.43L451.80 151.92L451.95 153.26L452.10 154.47L452.25 155.58L452.40 156.50L452.55 157.26L452.70 158.14L452.85 158.80L453.00 159.48L453.15 160.27L453.30 160.77L453.45 161.47L453.60 161.82L453.75 162.42L453.90 162.99L454.05 163.67L454.20 163.99L454.35 164.60L454.50 164.90L454.65 165.52L454.80 166.12L454.95 166.34L455.10 166.86L455.25 167.58L455.40 167.74L455.55 168.48L455.70 168.96L455.85 169.33L456.00 169.98L456.15 170.37L456.30 170.74L456.45 170.75L456.60 171.16L456.75 172.04L456.90 171.91L457.05 172.77L457.20 173.02L457.35 173.22L457.50 173.76L457.65 173.40L457.80 174.43L457.95 175.27L458.10 174.65L458.25 175.57L458.40 175.80L458.55 177.20L458.70 175.79L458.85 176.10L459.00 176.34L459.15 176.49L459.30 176.41L459.45 177.39L459.60 177.16L459.75 178.17L459.90 178.19L460.05 177.70L460.20 178.22L460.35 179.32L460.50 178.61L460.65 179.09L460.80 179.62L460.95 179.11L461.10 179.75L461.25 180.62L461.40 180.52L461.55 179.02L461.70 181.13L461.85 180.21L462.00 180.13L462.15 180.26L462.30 181.61L462.45 181.16L462.60 181.01L462.75 180.72L462.90 181.83L463.05 182.34L463.20 180.99L463.35 181.06L463.50 181.68L463.65 182.52L463.80 181.92L463.95 182.26L464.10 181.86L464.25 183.57L464.40 182.63L464.55 182.96L464.70 183.85L464.85 182.91L465.00 183.17L465.15 183.64L465.30 183.10L465.45 184.75L465.60 183.68L465.75 183.38L465.90 183.60L466.05 183.05L466.20 185.11L466.35 185.50L466.50 184.01L466.65 183.91L466.80 182.64L466.95 183.93L467.10 185.36L467.25 183.92L467.40 185.51L467.55 186.23L467.70 182.65L467.85 184.64L468.00 184.36L468.15 184.56L468.30 183.54L468.45 184.96L468.60 184.18L468.75 186.41L468.90 186.87L469.05 184.18L469.20 184.20L469.35 185.14L469.50 185.48L469.65 185.61L469.80 186.55L469.95 184.42L470.10 185.30L470.25 185.51L470.40 185.70L470.55 185.10L470.70 185.69L470.85 185.50L471.00 187.61L471.15 185.85L471.30 184.29L471.45 187.05L471.60 186.68L471.75 185.67L471.90 185.65L472.05 186.04L472.20 188.65L472.35 186.26L472.50 188.23L472.65 187.85L472.80 186.36L472.95 187.33L473.10 186.17L473.25 183.96L473.40 186.29L473.55 186.39L473.70 188.30L473.85 188.03L474.00 188.60L474.15 187.99L474.30 188.74L474.45 188.24L474.60 187.74L474.75 188.76L474.90 189.36L475.05 189.32L475.20 187.13L475.35 187.62L475.50 186.57L475.65 186.58L475.80 188.22L475.95 187.07L476.10 189.75L476.25 185.43L476.40 186.59L476.55 188.27L476.70 189.54L476.85 187.62L477.00 190.64L477.15 189.15L477.30 187.30L477.45 188.13L477.60 188.89L477.75 187.16L477.90 189.70L478.05 188.02L478.20 189.05L478.35 189.55L478.50 187.90L478.65 189.83L478.80 186.33L478.95 189.35L479.10 186.29L479.25 190.13L479.40 187.93L479.55 190.36L479.70 190.61L479.85 188.58L480.00 187.96L480.15 190.62L480.30 187.42L480.45 190.00L480.60 188.77L480.75 188.49L480.90 188.25L481.05 191.67L481.20 187.09L481.35 188.38L481.50 189.71L481.65 190.61L481.80 191.69L481.95 191.19L482.10 188.54L482.25 189.75L482.40 190.94L482.55 190.08L482.70 187.41L482.85 189.86L483.00 190.25L483.15 187.74L483.30 188.87L483.45 189.46L483.60 190.41L483.75 191.91L483.90 191.33L484.05 190.31L484.20 189.96L484.35 189.20L484.50 188.97L484.65 189.43L484.80 189.46L484.95 191.28L485.10 193.25L485.25 190.60L485.40 191.29L485.55 190.85L485.70 190.31L485.85 191.84L486.00 191.65L486.15 190.14L486.30 189.86L486.45 191.02L486.60 189.38L486.75 190.41L486.90 191.67L487.05 190.09L487.20 187.72L487.35 191.20L487.50 188.64L487.65 188.39L487.80 188.26L487.95 191.53L488.10 187.68L488.25 190.16L488.40 190.73L488.55 190.71L488.70 189.55L488.85 190.34L489.00 190.70L489.15 188.71L489.30 191.59L489.45 192.13L489.60 189.41L489.75 189.55L489.90 189.05L490.05 192.27L490.20 189.10L490.35 189.93L490.50 188.27L490.65 192.66L490.80 190.37L490.95 191.12L491.10 193.34L491.25 191.85L491.40 189.18L491.55 191.50L491.70 191.93L491.85 189.58L492.00 189.44L492.15 189.46L492.30 192.12L492.45 190.98L492.60 189.45L492.75 191.95L492.90 192.13L493.05 189.77L493.20 188.82L493.35 192.87L493.50 195.70L493.65 193.44L493.80 192.69L493.95 191.28L494.10 190.18L494.25 191.33L494.40 192.23L494.55 190.91L494.70 192.71L494.85 191.24L495.00 192.21L495.15 187.65L495.30 190.03L495.45 192.59L495.60 192.88L495.75 191.96L495.90 194.10L496.05 192.48L496.20 192.51L496.35 190.04L496.50 192.03L496.65 192.65L496.80 193.64L496.95 193.36L497.10 191.52L497.25 191.77L497.40 189.80L497.55 192.48L497.70 189.93L497.85 191.10L498.00 191.52L498.15 195.10L498.30 193.72L498.45 190.45L498.60 189.56L498.75 191.27L498.90 190.46L499.05 192.27L499.20 192.23L499.35 192.73L499.50 190.22L499.65 191.15L499.80 192.06L499.95 192.23L500.10 190.87L500.25 191.24L500.40 193.13L500.55 189.31L500.70 191.38L500.85 191.77L501.00 189.66L501.15 190.30L501.30 191.97L501.45 191.03L501.60 193.68L501.75 192.93L501.90 196.08L502.05 190.10L502.20 195.35L502.35 190.89L502.50 193.33L502.65 193.61L502.80 192.28L502.95 191.57L503.10 191.06L503.25 189.46L503.40 191.46L503.55 190.70L503.70 193.04L503.85 190.97L504.00 191.83L504.15 192.85L504.30 192.26L504.45 192.21L504.60 191.82L504.75 191.51L504.90 192.99L505.05 193.41L505.20 191.03L505.35 195.25L505.50 193.23L505.65 189.93L505.80 197.54L505.95 193.40L506.10 191.19L506.25 195.23L506.40 188.66L506.55 197.31L506.70 190.18L506.85 190.02L507.00 190.93L507.15 192.70L507.30 191.78L507.45 193.89L507.60 191.13L507.75 194.32L507.90 192.84L508.05 190.90L508.20 194.34L508.35 193.03L508.50 192.18L508.65 194.81L508.80 190.71L508.95 191.94L509.10 195.18L509.25 192.57L509.40 193.82L509.55 193.62L509.70 192.41L509.85 193.73L510.00 191.09L510.15 193.75L510.30 191.08L510.45 192.65L510.60 191.29L510.75 193.50L510.90 193.45L511.05 194.63L511.20 191.74L511.35 191.22L511.50 189.64L511.65 190.75L511.80 192.28L511.95 193.03L512.10 192.09L512.25 192.75L512.40 190.56L512.55 191.30L512.70 194.16L512.85 193.91L513.00 190.73L513.15 192.28L513.30 193.16L513.45 191.01L513.60 193.44L513.75 193.27L513.90 193.58L514.05 196.45L514.20 191.52L514.35 194.96L514.50 193.81L514.65 194.12L514.80 191.76L514.95 193.00L515.10 192.87L515.25 195.94L515.40 193.06L515.55 195.55L515.70 192.45L515.85 192.37L516.00 192.98L516.15 190.04L516.30 192.15L516.45 192.06L516.60 192.77L516.75 193.32L516.90 191.55L517.05 191.36L517.20 195.31L517.35 191.45L517.50 192.25L517.65 191.60L517.80 192.34L517.95 195.25L518.10 195.12L518.25 190.45L518.40 192.70L518.55 195.62L518.70 192.57L518.85 193.73L519.00 196.51L519.15 197.48L519.30 196.03L519.45 192.74L519.60 193.25L519.75 193.59L519.90 192.74L520.05 192.27L520.20 197.13L520.35 193.71L520.50 194.63L520.65 195.39L520.80 194.15L520.95 193.45L521.10 193.69L521.25 195.85L521.40 194.08L521.55 190.40L521.70 195.11L521.85 196.35L522.00 192.87L522.15 192.39L522.30 192.60L522.45 195.27L522.60 191.83L522.75 194.68L522.90 195.32L523.05 194.38L523.20 193.55L523.35 192.28L523.50 192.42L523.65 193.43L523.80 191.99L523.95 193.28L524.10 192.06L524.25 195.91L524.40 196.25L524.55 192.26L524.70 195.91L524.85 193.95L525.00 193.63L525.15 194.28L525.30 194.23L525.45 191.43L525.60 198.38L525.75 192.16L525.90 190.27L526.05 193.48L526.20 193.56L526.35 192.42L526.50 190.90L526.65 195.62L526.80 193.42L526.95 193.87L527.10 192.70L527.25 193.33L527.40 192.57L527.55 194.29L527.70 193.52L527.85 194.73L528.00 194.73L528.15 193.85L528.30 193.86L528.45 195.68L528.60 191.34L528.75 193.87L528.90 196.10L529.05 192.01L529.20 194.94L529.35 192.89L529.50 193.71L529.65 193.30L529.80 193.43L529.95 194.67L530.10 193.65L530.25 190.81L530.40 197.95L530.55 193.63L530.70 193.06L530.85 195.56L531.00 196.17L531.15 190.69L531.30 194.38L531.45 190.81L531.60 192.95L531.75 193.67L531.90 193.05L532.05 192.82L532.20 192.04L532.35 193.13L532.50 193.59L532.65 193.55L532.80 191.83L532.95 192.59L533.10 195.57L533.25 194.92L533.40 193.34L533.55 194.91L533.70 194.50L533.85 195.52L534.00 194.32L534.15 193.23L534.30 192.39L534.45 193.89L534.60 190.95L534.75 194.04L534.90 189.61L535.05 192.42L535.20 193.16L535.35 194.77L535.50 199.55L535.65 194.21L535.80 193.68L535.95 191.20L536.10 196.41L536.25 191.24L536.40 194.40L536.55 192.88L536.70 198.91L536.85 193.79L537.00 194.58L537.15 192.97L537.30 193.88L537.45 196.01L537.60 192.60L537.75 192.97L537.90 193.13L538.05 192.53L538.20 192.40L538.35 194.10L538.50 196.47L538.65 196.52L538.80 192.08L538.95 193.00L539.10 193.94L539.25 194.82L539.40 194.06L539.55 194.08L539.70 194.67L539.85 195.30L540.00 191.06L540.15 193.78L540.30 195.16L540.45 196.44L540.60 195.38L540.75 193.06L540.90 193.00L541.05 194.53L541.20 194.10L541.35 194.69L541.50 196.11L541.65 192.26L541.80 193.62L541.95 190.74L542.10 195.49L542.25 194.44L542.40 192.88L542.55 194.63L542.70 196.69L542.85 195.87L543.00 194.09L543.15 193.72L543.30 194.42L543.45 192.75L543.60 192.77L543.75 193.77L543.90 194.25L544.05 194.71L544.20 193.44L544.35 192.91L544.50 194.22L544.65 193.62L544.80 194.86L544.95 196.83L545.10 196.06L545.25 193.17L545.40 193.65L545.55 192.03L545.70 194.27L545.85 193.05L546.00 192.41L546.15 192.88L546.30 195.41L546.45 194.70L546.60 194.20L546.75 196.10L546.90 193.67L547.05 192.87L547.20 195.22L547.35 191.60L547.50 194.92L547.65 194.78L547.80 194.84L547.95 195.65L548.10 193.81L548.25 194.44L548.40 192.05L548.55 193.54L548.70 193.65L548.85 194.86L549.00 197.00L549.15 194.65L549.30 195.96L549.45 193.08L549.60 194.58L549.75 192.10L549.90 193.41L550.05 193.27L550.20 194.19L550.35 194.23L550.50 193.55L550.65 193.17L550.80 195.77L550.95 193.81L551.10 190.94L551.25 194.74L551.40 195.01L551.55 195.77L551.70 197.18L551.85 192.83L552.00 194.52L552.15 194.15L552.30 191.96L552.45 191.13L552.60 196.15L552.75 193.05L552.90 193.69L553.05 194.03L553.20 193.91L553.35 194.70L553.50 192.34L553.65 193.72L553.80 194.13L553.95 192.82L554.10 193.32L554.25 193.97L554.40 194.18L554.55 192.15L554.70 193.91L554.85 194.85L555.00 196.17L555.15 195.28L555.30 196.53L555.45 194.55L555.60 194.32L555.75 198.54L555.90 194.70L556.05 193.73L556.20 194.48L556.35 196.38L556.50 192.86L556.65 195.92L556.80 196.90L556.95 196.62L557.10 194.78L557.25 193.27L557.40 193.02L557.55 194.44L557.70 196.85L557.85 195.87L558.00 196.31L558.15 195.07L558.30 198.00L558.45 194.61L558.60 193.79L558.75 195.03L558.90 194.07L559.05 196.39L559.20 197.37L559.35 195.86L559.50 193.06L559.65 193.24L559.80 195.55L559.95 193.00L560.10 195.33L560.25 192.58L560.40 194.05L560.55 195.55L560.70 193.58L560.85 196.11L561.00 196.40L561.15 197.38L561.30 194.40L561.45 194.89L561.60 194.93L561.75 195.48L561.90 192.69L562.05 195.51L562.20 196.03L562.35 192.95L562.50 192.71L562.65 194.28L562.80 197.96L562.95 195.81L563.10 193.87L563.25 194.79L563.40 192.54L563.55 197.22L563.70 193.77L563.85 195.86L564.00 192.86L564.15 194.94L564.30 193.27L564.45 195.90L564.60 197.30L564.75 196.74L564.90 195.83L565.05 196.58L565.20 193.03L565.35 192.84L565.50 194.39L565.65 196.60L565.80 195.02L565.95 195.97L566.10 192.69L566.25 194.33L566.40 194.07L566.55 195.48L566.70 198.53L566.85 196.13L567.00 196.75L567.15 194.25L567.30 194.68L567.45 196.18L567.60 195.47L567.75 192.54L567.90 196.46L568.05 196.39L568.20 195.20L568.35 196.00L568.50 195.54L568.65 194.01L568.80 192.33L568.95 198.05L569.10 194.86L569.25 194.77L569.40 194.97L569.55 195.14L569.70 195.39L569.85 193.33L570.00 195.60L570.15 195.04L570.30 194.84L570.45 194.67L570.60 195.11L570.75 193.34L570.90 194.85L571.05 194.56L571.20 194.92L571.35 196.55L571.50 196.24L571.65 196.63L571.80 194.54L571.95 196.03L572.10 196.65L572.25 194.47L572.40 194.03L572.55 198.01L572.70 192.40L572.85 194.79L573.00 195.01L573.15 193.25L573.30 194.73L573.45 195.84L573.60 191.76L573.75 196.68L573.90 195.00L574.05 193.56L574.20 196.67L574.35 195.01L574.50 194.25L574.65 191.50L574.80 196.35L574.95 194.92L575.10 193.84L575.25 194.72L575.40 196.92L575.55 194.22L575.70 194.68L575.85 194.16L576.00 193.17L576.15 193.33L576.30 194.22L576.45 194.37L576.60 196.72L576.75 195.07L576.90 194.51L577.05 195.50L577.20 194.70L577.35 196.23L577.50 192.62L577.65 191.83L577.80 195.48L577.95 194.23L578.10 195.23L578.25 192.99L578.40 194.18L578.55 194.73L578.70 195.21L578.85 194.66L579.00 196.54L579.15 193.83L579.30 196.04L579.45 194.03L579.60 194.65L579.75 193.23L579.90 194.88L580.05 193.33L580.20 196.40L580.35 193.93L580.50 195.22L580.65 194.55L580.80 194.74L580.95 193.46L581.10 198.53L581.25 194.36L581.40 197.47L581.55 193.08L581.70 198.43L581.85 196.55L582.00 197.82L582.15 192.50L582.30 197.07L582.45 194.68L582.60 195.73L582.75 198.07L582.90 195.40L583.05 193.85L583.20 195.15L583.35 193.46L583.50 195.44L583.65 194.85L583.80 195.48L583.95 194.33L584.10 192.17L584.25 194.30L584.40 194.56L584.55 195.87L584.70 196.11L584.85 192.74L585.00 196.75L585.15 196.39L585.30 195.02L585.45 195.55L585.60 192.10L585.75 199.26L585.90 194.31L586.05 193.79L586.20 196.76L586.35 195.92L586.50 194.20L586.65 192.53L586.80 196.40L586.95 197.62L587.10 193.42L587.25 192.67L587.40 195.40L587.55 198.92L587.70 192.77L587.85 195.18L588.00 193.21L588.15 194.94L588.30 195.47L588.45 195.60L588.60 192.74L588.75 192.79L588.90 198.76L589.05 196.43L589.20 192.35L589.35 195.46L589.50 197.20L589.65 194.86L589.80 195.04L589.95 195.02L590.10 195.65L590.25 195.37L590.40 195.61L590.55 194.36L590.70 196.21L590.85 195.33L591.00 195.10L591.15 192.97L591.30 194.30L591.45 195.05L591.60 194.06L591.75 194.25L591.90 193.28L592.05 194.11L592.20 192.34L592.35 192.93L592.50 194.94L592.65 195.54L592.80 193.57L592.95 194.09L593.10 195.03L593.25 197.42L593.40 198.12L593.55 194.35L593.70 193.73L593.85 193.68L594.00 197.07L594.15 193.35L594.30 195.74L594.45 194.29L594.60 194.25L594.75 196.20L594.90 195.84L595.05 198.61L595.20 196.40L595.35 198.06L595.50 194.22L595.65 194.79L595.80 193.53L595.95 194.34L596.10 195.92L596.25 194.36L596.40 195.51L596.55 193.97L596.70 194.41L596.85 196.53L597.00 194.89L597.15 194.80L597.30 195.38L597.45 193.57L597.60 192.46L597.75 195.48L597.90 195.45L598.05 198.98L598.20 195.10L598.35 195.59L598.50 198.80L598.65 194.45L598.80 194.01L598.95 196.09L599.10 195.49L599.25 196.50L599.40 193.76L599.55 197.51L599.70 195.40L599.85 192.17L600.00 194.82L600.15 194.19L600.30 195.13L600.45 196.87L600.60 194.95L600.75 194.29L600.90 196.60L601.05 194.38L601.20 193.10L601.35 193.34L601.50 197.64L601.65 196.52L601.80 197.70L601.95 193.35L602.10 194.00L602.25 193.87L602.40 196.36L602.55 196.87L602.70 194.80L602.85 194.76L603.00 196.32L603.15 194.70L603.30 193.96L603.45 194.58L603.60 196.65L603.75 198.72L603.90 195.34L604.05 194.68L604.20 195.34L604.35 195.62L604.50 196.06L604.65 193.87L604.80 195.02L604.95 194.75L605.10 196.55L605.25 195.95L605.40 194.69L605.55 196.61L605.70 197.07L605.85 195.47L606.00 193.21L606.15 194.66L606.30 192.87L606.45 195.16L606.60 195.45L606.75 197.33L606.90 195.89L607.05 192.91L607.20 194.47L607.35 193.87L607.50 193.92L607.65 194.98L607.80 195.29L607.95 194.79L608.10 193.97L608.25 194.28L608.40 194.23L608.55 194.74L608.70 196.24L608.85 195.39L609.00 196.54L609.15 193.51L609.30 198.75L609.45 195.33L609.60 191.73L609.75 195.53L609.90 196.89L610.05 195.02L610.20 193.13L610.35 195.24L610.50 194.07L610.65 194.84L610.80 195.59L610.95 190.85L611.10 194.89L611.25 195.86L611.40 195.78L611.55 194.42L611.70 194.38L611.85 193.85L612.00 194.78L612.15 197.44L612.30 194.20L612.45 195.49L612.60 195.45L612.75 197.53L612.90 195.57L613.05 194.20L613.20 191.01L613.35 189.66L613.50 185.97L613.65 183.19L613.80 180.33L613.95 176.97L614.10 174.86L614.25 174.03L614.40 174.93L614.55 174.85L614.70 175.73L614.85 176.20L615.00 176.77L615.15 180.17L615.30 184.87L615.45 189.99L615.60 189.16L615.75 191.43L615.90 192.24L616.05 196.72L616.20 196.94L616.35 193.60L616.50 195.51L616.65 195.62L616.80 194.69L616.95 197.36L617.10 194.05L617.25 195.19L617.40 194.49L617.55 196.33L617.70 194.44L617.85 196.39L618.00 193.81L618.15 193.56L618.30 193.87L618.45 194.45L618.60 194.27L618.75 200.42L618.90 193.99L619.05 195.68L619.20 195.09L619.35 195.70L619.50 197.65L619.65 196.13L619.80 194.25L619.95 193.19L620.10 196.27L620.25 196.76L620.40 193.15L620.55 196.73L620.70 192.34L620.85 195.18L621.00 196.73L621.15 193.79L621.30 192.83L621.45 197.75L621.60 193.01L621.75 195.71L621.90 193.11L622.05 195.88L622.20 198.02L622.35 194.50L622.50 193.88L622.65 192.33L622.80 192.80L622.95 194.22L623.10 195.65L623.25 196.11L623.40 195.74L623.55 196.65L623.70 195.71L623.85 200.07L624.00 194.99L624.15 195.32L624.30 191.76L624.45 194.13L624.60 196.05L624.75 194.41L624.90 197.36L625.05 196.26L625.20 198.61L625.35 193.19L625.50 194.37L625.65 197.27L625.80 195.37L625.95 193.86L626.10 194.52L626.25 194.69L626.40 196.70L626.55 196.32L626.70 195.13L626.85 193.91L627.00 196.65L627.15 197.17L627.30 193.60L627.45 196.83L627.60 193.69L627.75 194.91L627.90 193.97L628.05 192.80L628.20 194.25L628.35 194.12L628.50 196.81L628.65 196.43L628.80 194.32L628.95 193.09L629.10 193.28L629.25 192.09L629.40 194.82L629.55 194.98L629.70 193.81L629.85 195.27L630.00 195.40L630.15 197.06L630.30 193.84L630.45 197.11L630.60 194.53L630.75 197.75L630.90 193.70L631.05 197.04L631.20 194.05L631.35 198.09L631.50 196.03L631.65 193.59L631.80 196.65L631.95 195.22L632.10 196.10L632.25 199.58L632.40 194.85L632.55 194.67L632.70 197.20L632.85 194.46L633.00 196.65L633.15 197.02L633.30 195.33L633.45 196.46L633.60 192.17L633.75 198.05L633.90 194.24L634.05 193.89L634.20 198.91L634.35 198.41L634.50 194.50L634.65 196.14L634.80 194.77L634.95 193.69L635.10 195.97L635.25 197.16L635.40 200.59L635.55 195.06L635.70 196.93L635.85 194.90L636.00 195.02L636.15 197.77L636.30 192.93L636.45 193.79L636.60 194.13L636.75 197.41L636.90 196.06L637.05 196.29L637.20 196.07L637.35 197.31L637.50 194.74L637.65 195.06L637.80 194.85L637.95 196.24L638.10 193.54L638.25 195.13L638.40 200.67L638.55 196.48L638.70 195.52L638.85 194.00L639.00 195.92L639.15 195.84L639.30 196.53L639.45 194.44L639.60 196.18L639.75 196.44L639.90 196.68L640.05 194.61L640.20 196.33L640.35 198.42L640.50 194.52L640.65 196.63L640.80 194.93L640.95 194.90L641.10 193.71L641.25 193.94L641.40 196.43L641.55 195.76L641.70 197.71L641.85 193.09L642.00 194.82L642.15 193.47L642.30 196.02L642.45 199.24L642.60 193.30L642.75 195.37L642.90 195.31L643.05 195.44L643.20 194.55L643.35 194.72L643.50 198.34L643.65 193.93L643.80 196.41L643.95 196.31L644.10 193.07L644.25 194.18L644.40 196.11L644.55 198.90L644.70 195.31L644.85 194.74L645.00 195.70L645.15 197.72L645.30 196.90L645.45 197.75L645.60 195.25L645.75 194.36L645.90 194.07L646.05 196.82L646.20 195.24L646.35 194.76L646.50 196.45L646.65 195.86L646.80 192.62L646.95 195.30L647.10 194.30L647.25 196.34L647.40 195.57L647.55 198.71L647.70 195.69L647.85 193.88L648.00 192.68L648.15 193.88L648.30 194.61L648.45 195.58L648.60 196.66L648.75 195.93L648.90 194.74L649.05 197.00L649.20 194.28L649.35 197.37L649.50 198.91L649.65 197.43L649.80 198.69L649.95 198.11L650.10 194.02L650.25 196.04L650.40 195.38L650.55 194.00L650.70 193.86L650.85 196.57L651.00 193.77L651.15 195.14L651.30 195.74L651.45 195.06L651.60 198.27L651.75 197.09L651.90 195.94L652.05 194.83L652.20 196.39L652.35 195.99L652.50 194.32L652.65 193.70L652.80 194.62L652.95 193.91" stroke="#0000ff" stroke-width="1.45" fill="none" stroke-linejoin="round" />
<path d="M30.60 396.18L30.75 396.07L30.90 395.23L31.05 396.13L31.20 396.47L31.35 393.62L31.50 396.09L31.65 397.28L31.80 395.20L31.95 393.54L32.10 395.82L32.25 394.34L32.40 396.64L32.55 396.75L32.70 397.09L32.85 396.31L33.00 393.77L33.15 397.92L33.30 394.08L33.45 397.75L33.60 396.61L33.75 395.18L33.90 395.48L34.05 395.98L34.20 398.98L34.35 395.94L34.50 398.01L34.65 393.30L34.80 396.84L34.95 396.31L35.10 398.34L35.25 397.33L35.40 398.64L35.55 395.38L35.70 397.11L35.85 395.99L36.00 397.80L36.15 397.56L36.30 395.16L36.45 398.35L36.60 399.77L36.75 396.40L36.90 398.72L37.05 397.66L37.20 395.83L37.35 398.30L37.50 395.93L37.65 398.15L37.80 395.23L37.95 395.47L38.10 397.93L38.25 397.58L38.40 398.54L38.55 397.06L38.70 395.84L38.85 399.63L39.00 396.20L39.15 399.49L39.30 398.77L39.45 400.34L39.60 394.88L39.75 397.51L39.90 397.28L40.05 398.65L40.20 396.26L40.35 401.10L40.50 397.71L40.65 394.98L40.80 398.36L40.95 397.82L41.10 396.96L41.25 399.11L41.40 397.90L41.55 396.68L41.70 397.73L41.85 397.52L42.00 398.57L42.15 397.66L42.30 398.05L42.45 396.25L42.60 397.21L42.75 398.58L42.90 402.29L43.05 397.32L43.20 397.30L43.35 399.72L43.50 401.58L43.65 400.15L43.80 397.21L43.95 400.09L44.10 399.18L44.25 398.24L44.40 396.96L44.55 398.64L44.70 398.79L44.85 399.48L45.00 396.59L45.15 397.31L45.30 398.91L45.45 400.95L45.60 400.00L45.75 398.07L45.90 399.96L46.05 397.72L46.20 398.46L46.35 398.58L46.50 398.13L46.65 398.36L46.80 400.35L46.95 399.58L47.10 396.19L47.25 401.00L47.40 399.88L47.55 397.80L47.70 399.48L47.85 400.48L48.00 401.33L48.15 398.60L48.30 398.00L48.45 397.55L48.60 399.35L48.75 398.05L48.90 401.03L49.05 399.27L49.20 400.52L49.35 399.31L49.50 398.56L49.65 398.17L49.80 401.11L49.95 397.98L50.10 400.37L50.25 401.24L50.40 399.97L50.55 402.00L50.70 399.76L50.85 399.39L51.00 400.10L51.15 399.10L51.30 400.31L51.45 399.87L51.60 402.12L51.75 399.86L51.90 401.20L52.05 400.61L52.20 400.12L52.35 399.74L52.50 402.59L52.65 402.47L52.80 400.50L52.95 399.43L53.10 399.61L53.25 398.92L53.40 398.43L53.55 399.49L53.70 400.22L53.85 401.76L54.00 401.65L54.15 400.93L54.30 399.90L54.45 399.99L54.60 400.31L54.75 400.56L54.90 399.50L55.05 400.09L55.20 399.99L55.35 399.99L55.50 401.24L55.65 402.01L55.80 399.81L55.95 399.93L56.10 400.84L56.25 401.15L56.40 397.69L56.55 401.71L56.70 400.92L56.85 400.26L57.00 402.40L57.15 400.50L57.30 398.37L57.45 399.45L57.60 399.87L57.75 399.94L57.90 400.61L58.05 399.50L58.20 401.03L58.35 401.44L58.50 400.70L58.65 399.64L58.80 400.42L58.95 399.98L59.10 404.16L59.25 399.35L59.40 398.01L59.55 399.21L59.70 401.45L59.85 402.27L60.00 400.64L60.15 402.52L60.30 400.07L60.45 401.84L60.60 399.80L60.75 399.31L60.90 404.38L61.05 400.73L61.20 402.18L61.35 403.34L61.50 402.09L61.65 401.51L61.80 399.83L61.95 403.58L62.10 399.83L62.25 398.68L62.40 400.45L62.55 400.53L62.70 401.31L62.85 403.08L63.00 400.58L63.15 400.80L63.30 400.34L63.45 398.15L63.60 400.37L63.75 400.78L63.90 399.34L64.05 403.45L64.20 403.13L64.35 401.95L64.50 402.38L64.65 400.48L64.80 401.89L64.95 399.19L65.10 399.46L65.25 400.41L65.40 402.02L65.55 400.62L65.70 400.37L65.85 403.08L66.00 401.00L66.15 400.52L66.30 401.18L66.45 399.44L66.60 399.88L66.75 402.72L66.90 401.32L67.05 402.74L67.20 400.71L67.35 402.79L67.50 400.26L67.65 400.96L67.80 400.20L67.95 401.71L68.10 403.74L68.25 399.22L68.40 401.75L68.55 399.69L68.70 400.90L68.85 400.58L69.00 399.14L69.15 401.02L69.30 399.65L69.45 403.79L69.60 400.32L69.75 401.84L69.90 401.68L70.05 401.48L70.20 401.01L70.35 399.34L70.50 404.42L70.65 401.42L70.80 402.54L70.95 399.93L71.10 402.09L71.25 400.85L71.40 402.05L71.55 400.56L71.70 400.11L71.85 402.05L72.00 401.40L72.15 403.65L72.30 401.04L72.45 400.30L72.60 402.27L72.75 399.96L72.90 404.78L73.05 404.38L73.20 403.58L73.35 402.15L73.50 401.41L73.65 401.55L73.80 401.53L73.95 400.44L74.10 402.11L74.25 403.34L74.40 403.31L74.55 398.72L74.70 405.26L74.85 401.65L75.00 399.48L75.15 400.73L75.30 402.61L75.45 401.38L75.60 400.22L75.75 399.78L75.90 402.69L76.05 400.34L76.20 401.00L76.35 399.89L76.50 399.54L76.65 401.82L76.80 403.51L76.95 400.78L77.10 399.06L77.25 400.39L77.40 400.97L77.55 398.29L77.70 402.60L77.85 399.81L78.00 401.55L78.15 400.50L78.30 400.21L78.45 398.33L78.60 400.93L78.75 400.10L78.90 401.06L79.05 398.31L79.20 398.99L79.35 397.70L79.50 398.72L79.65 397.43L79.80 395.63L79.95 395.99L80.10 394.72L80.25 394.14L80.40 394.08L80.55 394.21L80.70 392.01L80.85 391.77L81.00 390.61L81.15 391.26L81.30 390.20L81.45 389.54L81.60 388.22L81.75 386.84L81.90 386.41L82.05 386.12L82.20 385.74L82.35 385.39L82.50 385.73L82.65 385.72L82.80 386.13L82.95 387.36L83.10 387.30L83.25 387.27L83.40 388.54L83.55 389.07L83.70 389.89L83.85 390.41L84.00 390.30L84.15 391.70L84.30 392.93L84.45 395.16L84.60 394.24L84.75 395.99L84.90 396.51L85.05 394.91L85.20 395.22L85.35 397.65L85.50 395.56L85.65 396.08L85.80 397.35L85.95 396.23L86.10 398.55L86.25 398.31L86.40 398.69L86.55 398.48L86.70 396.71L86.85 398.87L87.00 398.72L87.15 398.52L87.30 397.38L87.45 397.80L87.60 396.64L87.75 397.97L87.90 398.46L88.05 397.66L88.20 397.19L88.35 398.17L88.50 397.20L88.65 396.07L88.80 398.49L88.95 398.17L89.10 397.25L89.25 399.61L89.40 400.25L89.55 400.98L89.70 399.62L89.85 399.85L90.00 401.04L90.15 401.15L90.30 399.92L90.45 400.69L90.60 404.26L90.75 402.33L90.90 402.32L91.05 401.57L91.20 402.95L91.35 403.65L91.50 403.44L91.65 405.65L91.80 402.95L91.95 403.85L92.10 402.40L92.25 404.65L92.40 403.80L92.55 404.69L92.70 404.89L92.85 402.38L93.00 404.07L93.15 402.83L93.30 405.19L93.45 403.41L93.60 406.24L93.75 404.33L93.90 404.42L94.05 402.92L94.20 403.51L94.35 404.06L94.50 402.71L94.65 403.62L94.80 403.18L94.95 402.91L95.10 404.09L95.25 404.45L95.40 403.60L95.55 404.69L95.70 403.58L95.85 402.66L96.00 403.02L96.15 404.76L96.30 406.19L96.45 404.33L96.60 404.46L96.75 402.82L96.90 404.88L97.05 404.65L97.20 403.36L97.35 405.08L97.50 404.64L97.65 402.20L97.80 402.49L97.95 403.60L98.10 404.11L98.25 405.95L98.40 403.75L98.55 404.45L98.70 404.24L98.85 405.32L99.00 404.59L99.15 404.86L99.30 404.17L99.45 402.74L99.60 404.13L99.75 407.25L99.90 406.12L100.05 407.15L100.20 405.87L100.35 403.94L100.50 404.17L100.65 405.62L100.80 404.38L100.95 405.89L101.10 406.97L101.25 406.96L101.40 406.09L101.55 402.95L101.70 406.89L101.85 403.20L102.00 403.10L102.15 405.14L102.30 404.96L102.45 405.80L102.60 404.95L102.75 404.03L102.90 404.93L103.05 403.61L103.20 403.39L103.35 404.50L103.50 404.54L103.65 405.09L103.80 404.54L103.95 406.72L104.10 404.48L104.25 404.77L104.40 406.35L104.55 402.34L104.70 406.55L104.85 406.40L105.00 404.72L105.15 408.22L105.30 406.31L105.45 407.51L105.60 406.61L105.75 405.36L105.90 404.73L106.05 403.71L106.20 404.10L106.35 403.63L106.50 404.41L106.65 405.91L106.80 403.75L106.95 405.96L107.10 406.16L107.25 403.26L107.40 404.20L107.55 404.98L107.70 404.27L107.85 404.11L108.00 407.41L108.15 405.46L108.30 407.13L108.45 405.17L108.60 406.34L108.75 403.56L108.90 404.65L109.05 406.58L109.20 405.41L109.35 407.24L109.50 405.34L109.65 404.65L109.80 405.04L109.95 408.50L110.10 405.91L110.25 404.73L110.40 405.01L110.55 403.90L110.70 407.42L110.85 404.73L111.00 406.43L111.15 405.20L111.30 404.91L111.45 404.54L111.60 406.34L111.75 405.23L111.90 407.28L112.05 407.69L112.20 404.74L112.35 405.59L112.50 408.06L112.65 406.79L112.80 405.50L112.95 403.49L113.10 404.13L113.25 404.45L113.40 408.37L113.55 405.69L113.70 404.89L113.85 405.01L114.00 404.98L114.15 405.90L114.30 403.28L114.45 403.62L114.60 405.70L114.75 407.05L114.90 402.94L115.05 406.38L115.20 403.98L115.35 403.11L115.50 407.00L115.65 405.17L115.80 406.08L115.95 404.87L116.10 405.13L116.25 403.08L116.40 404.77L116.55 405.60L116.70 404.07L116.85 405.98L117.00 406.11L117.15 402.74L117.30 406.81L117.45 406.29L117.60 405.52L117.75 407.18L117.90 408.99L118.05 404.15L118.20 406.74L118.35 406.36L118.50 406.11L118.65 407.04L118.80 407.19L118.95 405.33L119.10 402.53L119.25 404.54L119.40 404.52L119.55 407.89L119.70 405.57L119.85 407.34L120.00 404.47L120.15 405.85L120.30 405.47L120.45 405.64L120.60 406.37L120.75 407.88L120.90 404.70L121.05 407.63L121.20 407.29L121.35 405.91L121.50 406.52L121.65 405.10L121.80 404.10L121.95 405.11L122.10 405.17L122.25 405.41L122.40 404.27L122.55 408.37L122.70 404.91L122.85 406.82L123.00 407.29L123.15 405.39L123.30 405.95L123.45 404.58L123.60 403.90L123.75 409.20L123.90 405.46L124.05 402.83L124.20 404.16L124.35 403.43L124.50 405.18L124.65 407.54L124.80 407.02L124.95 404.33L125.10 403.99L125.25 406.37L125.40 405.66L125.55 404.90L125.70 408.02L125.85 405.75L126.00 403.12L126.15 402.44L126.30 405.37L126.45 402.83L126.60 405.97L126.75 406.40L126.90 408.84L127.05 403.87L127.20 405.70L127.35 402.19L127.50 404.68L127.65 404.86L127.80 407.99L127.95 403.13L128.10 405.63L128.25 405.32L128.40 408.68L128.55 403.81L128.70 403.72L128.85 405.94L129.00 404.91L129.15 404.48L129.30 403.72L129.45 404.86L129.60 402.75L129.75 405.34L129.90 405.87L130.05 405.65L130.20 409.19L130.35 406.15L130.50 403.58L130.65 404.55L130.80 406.14L130.95 404.42L131.10 408.14L131.25 405.29L131.40 404.15L131.55 403.91L131.70 406.00L131.85 403.61L132.00 402.41L132.15 405.44L132.30 403.80L132.45 407.23L132.60 407.94L132.75 403.94L132.90 404.71L133.05 404.48L133.20 405.61L133.35 405.17L133.50 403.63L133.65 402.49L133.80 405.03L133.95 407.30L134.10 403.00L134.25 403.86L134.40 403.74L134.55 404.41L134.70 401.72L134.85 404.54L135.00 403.93L135.15 407.58L135.30 405.48L135.45 405.63L135.60 404.65L135.75 404.12L135.90 405.71L136.05 402.33L136.20 406.19L136.35 405.23L136.50 404.23L136.65 406.47L136.80 403.76L136.95 403.67L137.10 404.96L137.25 402.07L137.40 404.41L137.55 404.12L137.70 405.96L137.85 407.14L138.00 405.43L138.15 404.96L138.30 405.16L138.45 403.44L138.60 408.42L138.75 406.20L138.90 407.38L139.05 402.69L139.20 405.29L139.35 405.21L139.50 406.13L139.65 403.23L139.80 405.05L139.95 404.13L140.10 407.72L140.25 402.87L140.40 403.88L140.55 403.66L140.70 402.77L140.85 404.69L141.00 404.65L141.15 403.42L141.30 403.81L141.45 404.75L141.60 404.33L141.75 405.13L141.90 403.41L142.05 403.11L142.20 404.37L142.35 401.94L142.50 406.77L142.65 404.70L142.80 402.12L142.95 404.96L143.10 406.85L143.25 402.49L143.40 403.57L143.55 406.15L143.70 403.26L143.85 405.86L144.00 406.37L144.15 404.51L144.30 404.99L144.45 405.95L144.60 404.80L144.75 405.78L144.90 404.17L145.05 404.28L145.20 403.22L145.35 404.89L145.50 406.27L145.65 406.24L145.80 404.55L145.95 402.16L146.10 403.02L146.25 405.11L146.40 402.87L146.55 405.90L146.70 402.75L146.85 404.67L147.00 403.04L147.15 403.22L147.30 404.47L147.45 403.59L147.60 405.65L147.75 404.12L147.90 402.54L148.05 399.18L148.20 403.00L148.35 403.81L148.50 405.40L148.65 402.42L148.80 406.26L148.95 404.78L149.10 403.03L149.25 405.08L149.40 401.32L149.55 401.69L149.70 403.58L149.85 403.35L150.00 404.13L150.15 403.97L150.30 401.44L150.45 401.00L150.60 401.04L150.75 400.86L150.90 401.44L151.05 400.09L151.20 401.46L151.35 399.33L151.50 397.41L151.65 396.66L151.80 395.84L151.95 392.70L152.10 388.80L152.25 385.90L152.40 384.76L152.55 384.13L152.70 384.33L152.85 384.71L153.00 385.86L153.15 386.03L153.30 386.49L153.45 384.87L153.60 382.76L153.75 379.23L153.90 375.12L154.05 370.98L154.20 367.08L154.35 362.18L154.50 356.52L154.65 350.72L154.80 345.19L154.95 340.43L155.10 336.92L155.25 335.13L155.40 336.86L155.55 343.95L155.70 351.15L155.85 353.31L156.00 353.54L156.15 353.64L156.30 353.76L156.45 353.89L156.60 354.09L156.75 355.23L156.90 357.66L157.05 360.88L157.20 364.36L157.35 367.49L157.50 369.77L157.65 371.58L157.80 373.28L157.95 374.97L158.10 376.51L158.25 377.73L158.40 379.08L158.55 380.50L158.70 381.52L158.85 382.28L159.00 382.70L159.15 383.48L159.30 383.63L159.45 384.42L159.60 384.55L159.75 384.45L159.90 384.60L160.05 385.34L160.20 385.44L160.35 385.20L160.50 385.62L160.65 385.73L160.80 385.48L160.95 385.56L161.10 385.31L161.25 385.37L161.40 385.71L161.55 385.56L161.70 385.51L161.85 385.81L162.00 385.66L162.15 385.10L162.30 385.72L162.45 384.98L162.60 385.10L162.75 385.14L162.90 384.90L163.05 384.85L163.20 384.59L163.35 384.92L163.50 384.80L163.65 384.72L163.80 384.13L163.95 384.28L164.10 384.65L164.25 384.42L164.40 384.44L164.55 384.18L164.70 384.06L164.85 383.51L165.00 384.39L165.15 383.65L165.30 383.70L165.45 383.89L165.60 383.68L165.75 383.67L165.90 383.46L166.05 383.16L166.20 383.63L166.35 382.91L166.50 383.19L166.65 382.69L166.80 382.82L166.95 382.55L167.10 382.59L167.25 382.38L167.40 382.49L167.55 382.57L167.70 382.16L167.85 382.04L168.00 381.66L168.15 382.37L168.30 381.89L168.45 381.54L168.60 381.87L168.75 381.56L168.90 381.00L169.05 381.02L169.20 381.33L169.35 380.79L169.50 380.71L169.65 380.67L169.80 380.62L169.95 380.52L170.10 380.60L170.25 380.42L170.40 380.09L170.55 380.08L170.70 379.68L170.85 379.93L171.00 380.16L171.15 379.70L171.30 379.49L171.45 379.36L171.60 379.29L171.75 379.31L171.90 378.82L172.05 379.02L172.20 378.68L172.35 378.69L172.50 378.68L172.65 378.15L172.80 378.57L172.95 378.16L173.10 377.81L173.25 377.74L173.40 377.40L173.55 377.32L173.70 377.16L173.85 376.61L174.00 376.69L174.15 376.44L174.30 376.30L174.45 375.98L174.60 375.52L174.75 375.21L174.90 374.91L175.05 374.58L175.20 374.00L175.35 373.75L175.50 373.08L175.65 372.49L175.80 371.89L175.95 371.11L176.10 370.40L176.25 369.50L176.40 367.50L176.55 364.85L176.70 361.62L176.85 358.29L177.00 355.13L177.15 352.60L177.30 351.02L177.45 350.78L177.60 352.22L177.75 354.69L177.90 357.54L178.05 360.13L178.20 361.54L178.35 362.17L178.50 362.75L178.65 363.30L178.80 363.62L178.95 363.86L179.10 364.02L179.25 363.78L179.40 363.32L179.55 362.69L179.70 361.87L179.85 360.82L180.00 359.81L180.15 358.76L180.30 357.74L180.45 356.84L180.60 356.06L180.75 355.52L180.90 355.04L181.05 354.61L181.20 354.20L181.35 353.79L181.50 353.40L181.65 353.05L181.80 352.66L181.95 352.37L182.10 352.06L182.25 351.73L182.40 351.43L182.55 351.14L182.70 350.85L182.85 350.56L183.00 350.26L183.15 349.97L183.30 349.69L183.45 349.38L183.60 349.07L183.75 348.75L183.90 348.46L184.05 348.09L184.20 347.74L184.35 347.39L184.50 347.05L184.65 346.70L184.80 346.35L184.95 346.01L185.10 345.67L185.25 345.31L185.40 344.98L185.55 344.63L185.70 344.28L185.85 343.94L186.00 343.60L186.15 343.24L186.30 342.90L186.45 342.54L186.60 342.18L186.75 341.83L186.90 341.48L187.05 341.12L187.20 340.76L187.35 340.40L187.50 340.03L187.65 339.67L187.80 339.30L187.95 338.93L188.10 338.55L188.25 338.18L188.40 337.83L188.55 337.49L188.70 337.18L188.85 336.87L189.00 336.57L189.15 336.27L189.30 335.96L189.45 335.64L189.60 335.30L189.75 334.93L189.90 334.53L190.05 334.09L190.20 333.61L190.35 333.08L190.50 332.48L190.65 331.83L190.80 331.04L190.95 329.91L191.10 328.47L191.25 326.76L191.40 324.84L191.55 322.73L191.70 320.35L191.85 317.26L192.00 313.57L192.15 309.42L192.30 304.95L192.45 300.30L192.60 295.61L192.75 291.02L192.90 286.68L193.05 282.71L193.20 279.03L193.35 275.03L193.50 270.83L193.65 266.63L193.80 262.61L193.95 258.98L194.10 255.92L194.25 253.62L194.40 252.27L194.55 252.14L194.70 253.86L194.85 256.70L195.00 259.59L195.15 261.50L195.30 262.68L195.45 263.69L195.60 264.90L195.75 266.76L195.90 270.26L196.05 274.80L196.20 279.40L196.35 283.12L196.50 286.25L196.65 289.14L196.80 291.98L196.95 294.95L197.10 298.21L197.25 301.70L197.40 305.28L197.55 308.77L197.70 312.00L197.85 315.05L198.00 318.08L198.15 321.01L198.30 323.80L198.45 326.36L198.60 328.66L198.75 330.62L198.90 332.44L199.05 334.15L199.20 335.76L199.35 337.30L199.50 338.74L199.65 340.11L199.80 341.39L199.95 342.60L200.10 343.74L200.25 344.80L200.40 345.80L200.55 346.74L200.70 347.64L200.85 348.51L201.00 349.33L201.15 350.11L201.30 350.90L201.45 351.62L201.60 352.33L201.75 353.00L201.90 353.67L202.05 354.31L202.20 354.96L202.35 355.56L202.50 356.18L202.65 356.84L202.80 357.42L202.95 358.06L203.10 358.61L203.25 359.30L203.40 359.94L203.55 360.57L203.70 361.22L203.85 361.85L204.00 362.42L204.15 363.09L204.30 363.66L204.45 364.23L204.60 364.89L204.75 365.29L204.90 365.84L205.05 366.30L205.20 366.86L205.35 367.20L205.50 367.65L205.65 368.13L205.80 368.34L205.95 368.86L206.10 369.30L206.25 369.64L206.40 369.95L206.55 370.28L206.70 370.67L206.85 370.95L207.00 371.25L207.15 371.81L207.30 372.05L207.45 372.39L207.60 372.58L207.75 372.72L207.90 373.08L208.05 373.54L208.20 373.73L208.35 373.84L208.50 374.28L208.65 374.48L208.80 374.68L208.95 375.20L209.10 375.11L209.25 375.40L209.40 375.60L209.55 376.04L209.70 376.24L209.85 376.45L210.00 376.54L210.15 376.79L210.30 377.00L210.45 376.95L210.60 377.23L210.75 377.77L210.90 377.96L211.05 377.77L211.20 378.32L211.35 378.23L211.50 378.39L211.65 378.97L211.80 379.12L211.95 379.25L212.10 379.63L212.25 379.86L212.40 379.94L212.55 379.89L212.70 380.35L212.85 380.50L213.00 380.75L213.15 381.15L213.30 380.72L213.45 381.78L213.60 381.59L213.75 381.50L213.90 382.16L214.05 381.87L214.20 381.90L214.35 382.62L214.50 382.54L214.65 383.07L214.80 382.83L214.95 383.13L215.10 383.27L215.25 383.14L215.40 383.57L215.55 383.50L215.70 383.87L215.85 384.59L216.00 384.33L216.15 384.43L216.30 385.21L216.45 384.51L216.60 385.07L216.75 385.14L216.90 385.72L217.05 385.55L217.20 385.64L217.35 386.01L217.50 386.02L217.65 386.97L217.80 385.87L217.95 386.91L218.10 387.47L218.25 387.15L218.40 387.24L218.55 386.85L218.70 387.55L218.85 387.21L219.00 387.84L219.15 386.73L219.30 387.49L219.45 387.06L219.60 388.38L219.75 387.80L219.90 388.60L220.05 388.06L220.20 388.13L220.35 389.25L220.50 389.16L220.65 389.29L220.80 389.56L220.95 389.31L221.10 389.53L221.25 389.87L221.40 389.25L221.55 389.15L221.70 390.14L221.85 389.87L222.00 389.71L222.15 389.92L222.30 390.26L222.45 389.62L222.60 389.70L222.75 389.87L222.90 390.41L223.05 389.43L223.20 389.64L223.35 390.81L223.50 390.76L223.65 390.18L223.80 391.32L223.95 390.77L224.10 391.05L224.25 391.56L224.40 391.40L224.55 392.27L224.70 391.77L224.85 392.73L225.00 390.43L225.15 390.92L225.30 391.17L225.45 391.78L225.60 391.47L225.75 391.41L225.90 391.65L226.05 391.79L226.20 392.99L226.35 392.26L226.50 392.95L226.65 393.46L226.80 393.53L226.95 392.63L227.10 392.34L227.25 393.98L227.40 392.09L227.55 392.34L227.70 393.60L227.85 393.75L228.00 393.58L228.15 392.98L228.30 393.97L228.45 394.57L228.60 393.66L228.75 395.48L228.90 393.97L229.05 393.37L229.20 394.03L229.35 393.78L229.50 394.06L229.65 393.98L229.80 394.48L229.95 395.28L230.10 394.92L230.25 394.89L230.40 394.02L230.55 393.84L230.70 394.77L230.85 395.75L231.00 395.81L231.15 395.47L231.30 394.38L231.45 395.23L231.60 395.61L231.75 396.26L231.90 395.05L232.05 395.58L232.20 395.93L232.35 395.88L232.50 394.75L232.65 396.25L232.80 394.89L232.95 395.29L233.10 396.31L233.25 395.71L233.40 396.61L233.55 397.30L233.70 396.89L233.85 397.53L234.00 396.38L234.15 396.87L234.30 396.48L234.45 396.33L234.60 400.18L234.75 396.91L234.90 398.96L235.05 397.18L235.20 398.21L235.35 397.37L235.50 396.36L235.65 399.26L235.80 397.51L235.95 397.82L236.10 399.70L236.25 397.30L236.40 397.92L236.55 398.51L236.70 398.79L236.85 395.43L237.00 398.60L237.15 400.14L237.30 399.28L237.45 398.78L237.60 398.86L237.75 398.63L237.90 399.68L238.05 398.16L238.20 399.23L238.35 400.23L238.50 399.71L238.65 399.33L238.80 398.17L238.95 398.58L239.10 399.47L239.25 399.17L239.40 399.03L239.55 397.37L239.70 400.03L239.85 398.96L240.00 398.76L240.15 400.59L240.30 399.42L240.45 399.50L240.60 400.24L240.75 399.20L240.90 398.80L241.05 398.75L241.20 400.17L241.35 399.82L241.50 397.76L241.65 401.39L241.80 399.95L241.95 399.31L242.10 400.13L242.25 399.65L242.40 400.21L242.55 399.65L242.70 399.15L242.85 400.81L243.00 400.39L243.15 400.72L243.30 401.17L243.45 400.78L243.60 402.15L243.75 400.03L243.90 399.08L244.05 399.12L244.20 399.59L244.35 402.18L244.50 399.42L244.65 401.96L244.80 401.21L244.95 399.21L245.10 402.54L245.25 400.32L245.40 400.98L245.55 401.53L245.70 402.46L245.85 400.94L246.00 402.02L246.15 400.32L246.30 400.16L246.45 403.32L246.60 402.22L246.75 402.03L246.90 403.17L247.05 403.13L247.20 401.65L247.35 402.04L247.50 403.98L247.65 402.53L247.80 401.29L247.95 403.48L248.10 403.14L248.25 400.22L248.40 400.54L248.55 404.22L248.70 403.88L248.85 401.70L249.00 403.74L249.15 402.54L249.30 402.84L249.45 401.64L249.60 405.92L249.75 405.44L249.90 404.04L250.05 401.27L250.20 402.70L250.35 404.87L250.50 401.99L250.65 401.77L250.80 402.98L250.95 403.13L251.10 402.21L251.25 401.35L251.40 402.64L251.55 402.21L251.70 402.98L251.85 403.45L252.00 404.23L252.15 402.72L252.30 403.47L252.45 403.44L252.60 402.02L252.75 402.59L252.90 402.17L253.05 405.52L253.20 402.62L253.35 404.17L253.50 404.52L253.65 404.62L253.80 402.00L253.95 402.49L254.10 404.56L254.25 405.22L254.40 403.64L254.55 404.33L254.70 401.70L254.85 405.90L255.00 406.55L255.15 404.22L255.30 403.90L255.45 403.77L255.60 403.01L255.75 401.49L255.90 404.55L256.05 404.88L256.20 406.81L256.35 403.87L256.50 403.12L256.65 404.64L256.80 402.79L256.95 404.32L257.10 402.46L257.25 403.99L257.40 406.05L257.55 405.45L257.70 406.92L257.85 407.32L258.00 404.29L258.15 403.53L258.30 402.25L258.45 404.87L258.60 405.17L258.75 406.55L258.90 403.59L259.05 404.42L259.20 405.87L259.35 404.10L259.50 404.31L259.65 408.08L259.80 404.16L259.95 405.01L260.10 405.81L260.25 405.89L260.40 403.06L260.55 403.36L260.70 403.05L260.85 407.18L261.00 406.44L261.15 404.29L261.30 407.39L261.45 406.65L261.60 408.47L261.75 403.27L261.90 404.27L262.05 405.09L262.20 405.45L262.35 406.39L262.50 406.40L262.65 405.01L262.80 406.93L262.95 404.28L263.10 406.66L263.25 407.27L263.40 404.29L263.55 406.24L263.70 405.30L263.85 406.69L264.00 409.77L264.15 405.39L264.30 408.24L264.45 404.76L264.60 408.63L264.75 409.21L264.90 405.86L265.05 405.72L265.20 406.19L265.35 408.21L265.50 405.19L265.65 408.68L265.80 407.12L265.95 407.64L266.10 407.04L266.25 405.37L266.40 407.48L266.55 405.80L266.70 405.65L266.85 409.30L267.00 408.41L267.15 407.23L267.30 407.56L267.45 406.29L267.60 409.82L267.75 405.79L267.90 405.78L268.05 407.06L268.20 408.96L268.35 406.86L268.50 407.67L268.65 406.13L268.80 407.06L268.95 405.97L269.10 407.61L269.25 405.11L269.40 410.79L269.55 408.57L269.70 406.40L269.85 409.43L270.00 406.12L270.15 408.99L270.30 407.03L270.45 408.55L270.60 407.85L270.75 406.99L270.90 407.40L271.05 407.83L271.20 404.57L271.35 407.31L271.50 408.79L271.65 406.12L271.80 406.28L271.95 405.79L272.10 405.12L272.25 408.85L272.40 406.06L272.55 405.98L272.70 407.52L272.85 407.20L273.00 412.72L273.15 408.42L273.30 405.30L273.45 410.44L273.60 408.43L273.75 407.27L273.90 406.91L274.05 405.60L274.20 410.51L274.35 407.70L274.50 406.62L274.65 409.82L274.80 407.89L274.95 405.43L275.10 406.14L275.25 407.16L275.40 412.28L275.55 408.13L275.70 407.43L275.85 408.44L276.00 408.11L276.15 404.28L276.30 408.37L276.45 409.54L276.60 407.77L276.75 408.59L276.90 408.60L277.05 408.30L277.20 407.15L277.35 407.90L277.50 410.07L277.65 408.46L277.80 407.64L277.95 409.00L278.10 406.82L278.25 407.32L278.40 409.88L278.55 407.97L278.70 405.90L278.85 406.43L279.00 408.57L279.15 407.30L279.30 409.53L279.45 410.79L279.60 407.82L279.75 408.26L279.90 407.93L280.05 408.69L280.20 408.23L280.35 409.45L280.50 408.08L280.65 407.62L280.80 408.86L280.95 407.70L281.10 411.61L281.25 410.01L281.40 406.97L281.55 406.62L281.70 408.57L281.85 409.09L282.00 410.90L282.15 408.48L282.30 407.95L282.45 411.32L282.60 408.29L282.75 408.40L282.90 408.49L283.05 410.83L283.20 408.41L283.35 411.49L283.50 407.25L283.65 409.03L283.80 411.00L283.95 407.49L284.10 407.75L284.25 410.26L284.40 406.54L284.55 410.86L284.70 408.94L284.85 407.82L285.00 413.11L285.15 408.10L285.30 409.55L285.45 409.50L285.60 411.12L285.75 409.06L285.90 411.22L286.05 411.02L286.20 410.24L286.35 411.47L286.50 407.58L286.65 411.68L286.80 410.79L286.95 410.15L287.10 409.71L287.25 408.66L287.40 408.64L287.55 410.21L287.70 410.35L287.85 409.76L288.00 408.72L288.15 408.90L288.30 410.62L288.45 413.19L288.60 407.18L288.75 408.64L288.90 409.57L289.05 409.49L289.20 410.74L289.35 411.49L289.50 410.49L289.65 410.35L289.80 410.96L289.95 412.31L290.10 410.53L290.25 409.31L290.40 410.84L290.55 410.10L290.70 413.47L290.85 410.47L291.00 410.36L291.15 412.07L291.30 412.93L291.45 409.67L291.60 411.45L291.75 409.60L291.90 410.90L292.05 409.45L292.20 410.81L292.35 412.67L292.50 410.48L292.65 410.85L292.80 409.49L292.95 411.06L293.10 410.99L293.25 409.28L293.40 408.91L293.55 409.44L293.70 409.10L293.85 409.88L294.00 409.48L294.15 409.36L294.30 410.00L294.45 410.49L294.60 410.39L294.75 407.59L294.90 410.60L295.05 410.98L295.20 411.18L295.35 410.72L295.50 410.35L295.65 412.41L295.80 413.88L295.95 410.32L296.10 413.25L296.25 410.40L296.40 410.58L296.55 409.26L296.70 408.64L296.85 410.31L297.00 411.65L297.15 412.63L297.30 412.04L297.45 410.82L297.60 414.21L297.75 410.80L297.90 410.94L298.05 410.06L298.20 411.43L298.35 410.82L298.50 412.06L298.65 411.66L298.80 413.79L298.95 410.84L299.10 409.01L299.25 410.81L299.40 410.55L299.55 412.54L299.70 409.20L299.85 412.22L300.00 410.02L300.15 410.96L300.30 412.56L300.45 409.76L300.60 411.13L300.75 410.91L300.90 410.55L301.05 411.21L301.20 411.74L301.35 410.56L301.50 411.80L301.65 411.13L301.80 412.21L301.95 413.54L302.10 412.24L302.25 411.98L302.40 411.25L302.55 409.71L302.70 413.93L302.85 411.12L303.00 414.89L303.15 412.89L303.30 412.06L303.45 414.99L303.60 414.28L303.75 411.13L303.90 411.25L304.05 411.53L304.20 412.56L304.35 408.65L304.50 411.62L304.65 412.68L304.80 409.23L304.95 410.57L305.10 411.96L305.25 409.85L305.40 411.22L305.55 410.57L305.70 411.13L305.85 413.01L306.00 410.17L306.15 411.25L306.30 413.00L306.45 412.62L306.60 410.22L306.75 412.04L306.90 411.45L307.05 410.63L307.20 411.35L307.35 413.91L307.50 410.68L307.65 410.30L307.80 410.40L307.95 409.47L308.10 411.08L308.25 410.53L308.40 409.53L308.55 412.02L308.70 409.36L308.85 409.37L309.00 410.56L309.15 409.26L309.30 410.49L309.45 412.96L309.60 410.14L309.75 411.21L309.90 411.10L310.05 411.46L310.20 409.89L310.35 410.93L310.50 412.72L310.65 411.04L310.80 410.72L310.95 412.79L311.10 412.35L311.25 412.29L311.40 412.63L311.55 411.26L311.70 410.39L311.85 409.33L312.00 410.18L312.15 410.40L312.30 410.25L312.45 410.02L312.60 412.33L312.75 410.85L312.90 411.35L313.05 411.99L313.20 412.47L313.35 412.55L313.50 412.21L313.65 413.71L313.80 411.12L313.95 411.87L314.10 411.70L314.25 411.38L314.40 410.87L314.55 412.73L314.70 412.02L314.85 414.38L315.00 415.48L315.15 414.97L315.30 409.88L315.45 414.78L315.60 411.25L315.75 409.97L315.90 412.57L316.05 409.79L316.20 409.54L316.35 410.65L316.50 408.94L316.65 411.08L316.80 413.00L316.95 411.21L317.10 412.58L317.25 413.93L317.40 413.88L317.55 409.03L317.70 412.73L317.85 411.98L318.00 412.92L318.15 411.76L318.30 412.29L318.45 412.55L318.60 413.79L318.75 414.13L318.90 413.06L319.05 411.55L319.20 409.32L319.35 410.56L319.50 409.62L319.65 411.30L319.80 412.09L319.95 413.99L320.10 411.97L320.25 415.42L320.40 412.40L320.55 409.86L320.70 411.52L320.85 410.47L321.00 412.52L321.15 414.08" stroke="#808000" stroke-width="1.45" fill="none" stroke-linejoin="round" />
<path d="M362.70 397.26L362.85 397.19L363.00 395.09L363.15 394.22L363.30 397.87L363.45 397.35L363.60 397.10L363.75 397.45L363.90 398.88L364.05 396.92L364.20 396.60L364.35 396.62L364.50 399.03L364.65 397.42L364.80 400.03L364.95 396.13L365.10 398.93L365.25 397.85L365.40 398.16L365.55 398.41L365.70 399.20L365.85 400.43L366.00 395.48L366.15 397.41L366.30 397.44L366.45 395.20L366.60 398.05L366.75 397.20L366.90 397.98L367.05 396.48L367.20 397.41L367.35 397.72L367.50 398.56L367.65 397.86L367.80 396.75L367.95 401.66L368.10 398.57L368.25 399.04L368.40 398.91L368.55 401.66L368.70 397.58L368.85 399.87L369.00 398.99L369.15 399.44L369.30 401.35L369.45 399.44L369.60 401.74L369.75 400.29L369.90 399.38L370.05 398.98L370.20 398.94L370.35 399.25L370.50 396.39L370.65 398.54L370.80 401.03L370.95 400.12L371.10 400.23L371.25 399.56L371.40 400.23L371.55 400.65L371.70 397.29L371.85 399.40L372.00 399.99L372.15 399.90L372.30 399.89L372.45 397.80L372.60 399.00L372.75 398.21L372.90 405.11L373.05 399.32L373.20 398.40L373.35 397.33L373.50 399.85L373.65 402.60L373.80 399.16L373.95 400.87L374.10 402.84L374.25 400.97L374.40 398.70L374.55 398.55L374.70 399.20L374.85 401.78L375.00 397.12L375.15 402.05L375.30 400.43L375.45 402.57L375.60 398.66L375.75 399.81L375.90 399.27L376.05 400.37L376.20 400.63L376.35 400.32L376.50 403.58L376.65 399.30L376.80 399.44L376.95 401.26L377.10 400.75L377.25 400.35L377.40 398.76L377.55 400.24L377.70 400.80L377.85 401.63L378.00 403.24L378.15 401.83L378.30 400.89L378.45 401.38L378.60 400.95L378.75 400.08L378.90 400.52L379.05 400.77L379.20 400.29L379.35 400.95L379.50 401.28L379.65 400.63L379.80 404.00L379.95 399.68L380.10 403.32L380.25 400.27L380.40 401.40L380.55 399.98L380.70 401.43L380.85 402.91L381.00 400.11L381.15 401.31L381.30 401.43L381.45 401.51L381.60 400.32L381.75 400.58L381.90 401.39L382.05 404.13L382.20 402.35L382.35 401.65L382.50 399.52L382.65 401.32L382.80 402.01L382.95 400.33L383.10 402.09L383.25 402.00L383.40 401.77L383.55 404.32L383.70 400.76L383.85 401.48L384.00 402.50L384.15 403.84L384.30 401.86L384.45 400.35L384.60 403.14L384.75 403.82L384.90 401.69L385.05 404.76L385.20 405.90L385.35 402.99L385.50 403.39L385.65 402.81L385.80 403.24L385.95 402.01L386.10 402.82L386.25 403.40L386.40 403.22L386.55 401.74L386.70 401.34L386.85 401.44L387.00 401.74L387.15 408.46L387.30 404.24L387.45 403.23L387.60 402.52L387.75 405.34L387.90 401.01L388.05 402.48L388.20 403.83L388.35 402.73L388.50 403.48L388.65 404.13L388.80 402.36L388.95 403.73L389.10 405.26L389.25 404.06L389.40 403.33L389.55 404.81L389.70 401.57L389.85 404.89L390.00 401.03L390.15 402.12L390.30 404.74L390.45 403.19L390.60 401.84L390.75 403.70L390.90 405.25L391.05 403.33L391.20 400.98L391.35 405.82L391.50 402.81L391.65 403.58L391.80 403.79L391.95 404.21L392.10 404.13L392.25 402.32L392.40 402.91L392.55 405.23L392.70 401.75L392.85 405.76L393.00 402.92L393.15 403.59L393.30 402.29L393.45 403.40L393.60 402.51L393.75 403.97L393.90 402.66L394.05 403.50L394.20 401.29L394.35 405.04L394.50 402.47L394.65 403.42L394.80 403.83L394.95 404.92L395.10 403.50L395.25 406.39L395.40 406.23L395.55 403.21L395.70 406.57L395.85 402.33L396.00 404.61L396.15 403.88L396.30 404.14L396.45 403.68L396.60 404.67L396.75 404.81L396.90 404.47L397.05 402.91L397.20 402.82L397.35 402.65L397.50 403.83L397.65 404.63L397.80 406.95L397.95 403.49L398.10 403.24L398.25 404.95L398.40 403.29L398.55 402.69L398.70 404.25L398.85 402.98L399.00 403.97L399.15 407.09L399.30 405.07L399.45 404.98L399.60 403.67L399.75 405.66L399.90 405.02L400.05 405.81L400.20 404.44L400.35 404.28L400.50 403.08L400.65 403.30L400.80 404.14L400.95 404.03L401.10 404.20L401.25 404.19L401.40 402.33L401.55 408.40L401.70 404.57L401.85 403.88L402.00 402.81L402.15 405.92L402.30 403.80L402.45 403.11L402.60 404.89L402.75 407.24L402.90 404.74L403.05 406.01L403.20 403.31L403.35 405.43L403.50 401.88L403.65 403.94L403.80 405.30L403.95 404.83L404.10 405.71L404.25 403.53L404.40 402.10L404.55 404.32L404.70 402.76L404.85 405.36L405.00 403.52L405.15 401.04L405.30 406.03L405.45 402.25L405.60 402.30L405.75 406.72L405.90 405.93L406.05 405.17L406.20 402.45L406.35 404.28L406.50 403.86L406.65 402.63L406.80 403.29L406.95 403.03L407.10 403.61L407.25 401.65L407.40 403.85L407.55 400.71L407.70 402.83L407.85 403.16L408.00 401.21L408.15 401.18L408.30 403.77L408.45 400.89L408.60 402.30L408.75 401.39L408.90 399.46L409.05 400.62L409.20 398.98L409.35 399.04L409.50 396.64L409.65 397.45L409.80 397.47L409.95 396.57L410.10 395.57L410.25 394.12L410.40 393.34L410.55 392.04L410.70 391.55L410.85 390.73L411.00 389.84L411.15 389.21L411.30 388.32L411.45 387.48L411.60 386.83L411.75 386.49L411.90 386.08L412.05 385.14L412.20 384.21L412.35 384.08L412.50 383.03L412.65 382.25L412.80 381.84L412.95 381.40L413.10 380.51L413.25 380.17L413.40 380.01L413.55 379.42L413.70 379.04L413.85 378.97L414.00 378.18L414.15 378.27L414.30 377.91L414.45 377.75L414.60 377.43L414.75 377.43L414.90 377.21L415.05 377.09L415.20 377.24L415.35 377.42L415.50 377.43L415.65 377.94L415.80 378.05L415.95 378.55L416.10 378.89L416.25 379.35L416.40 379.81L416.55 380.34L416.70 380.97L416.85 381.48L417.00 381.87L417.15 382.51L417.30 383.26L417.45 383.73L417.60 384.28L417.75 384.67L417.90 385.12L418.05 385.62L418.20 386.25L418.35 386.56L418.50 387.43L418.65 388.40L418.80 388.10L418.95 389.13L419.10 389.46L419.25 390.10L419.40 390.00L419.55 391.23L419.70 391.19L419.85 392.03L420.00 392.90L420.15 393.60L420.30 393.11L420.45 393.61L420.60 393.85L420.75 393.71L420.90 394.94L421.05 395.30L421.20 395.89L421.35 396.10L421.50 396.74L421.65 397.47L421.80 395.85L421.95 398.95L422.10 397.65L422.25 397.83L422.40 398.36L422.55 399.61L422.70 399.26L422.85 399.80L423.00 400.68L423.15 400.00L423.30 400.62L423.45 401.03L423.60 400.08L423.75 402.10L423.90 400.76L424.05 402.09L424.20 401.18L424.35 401.75L424.50 401.74L424.65 403.34L424.80 403.25L424.95 403.50L425.10 402.38L425.25 401.84L425.40 401.58L425.55 403.58L425.70 402.96L425.85 405.39L426.00 406.47L426.15 404.57L426.30 404.42L426.45 405.85L426.60 406.34L426.75 403.16L426.90 405.09L427.05 406.58L427.20 401.32L427.35 404.03L427.50 404.82L427.65 403.54L427.80 405.68L427.95 402.58L428.10 407.12L428.25 406.82L428.40 405.11L428.55 406.13L428.70 403.23L428.85 407.66L429.00 406.32L429.15 404.99L429.30 404.62L429.45 404.12L429.60 405.06L429.75 402.82L429.90 406.36L430.05 405.49L430.20 404.64L430.35 406.31L430.50 406.33L430.65 406.64L430.80 406.96L430.95 407.77L431.10 406.92L431.25 408.56L431.40 405.67L431.55 408.71L431.70 403.64L431.85 404.10L432.00 404.86L432.15 406.67L432.30 407.25L432.45 404.79L432.60 406.18L432.75 405.68L432.90 407.52L433.05 405.05L433.20 407.67L433.35 406.35L433.50 409.23L433.65 407.49L433.80 405.84L433.95 407.20L434.10 407.21L434.25 405.50L434.40 406.68L434.55 404.94L434.70 410.58L434.85 405.83L435.00 405.92L435.15 409.03L435.30 408.63L435.45 405.47L435.60 408.27L435.75 407.61L435.90 405.86L436.05 407.17L436.20 406.04L436.35 408.00L436.50 406.31L436.65 405.28L436.80 406.29L436.95 410.31L437.10 405.87L437.25 406.68L437.40 408.13L437.55 404.95L437.70 409.53L437.85 404.39L438.00 407.74L438.15 404.76L438.30 406.89L438.45 408.87L438.60 406.70L438.75 406.38L438.90 406.11L439.05 405.44L439.20 408.20L439.35 406.19L439.50 405.88L439.65 407.28L439.80 408.29L439.95 408.33L440.10 405.89L440.25 405.83L440.40 408.15L440.55 408.98L440.70 405.28L440.85 409.35L441.00 406.72L441.15 408.14L441.30 409.72L441.45 406.78L441.60 407.23L441.75 405.08L441.90 404.10L442.05 407.25L442.20 405.61L442.35 405.59L442.50 407.75L442.65 408.29L442.80 404.90L442.95 407.53L443.10 407.04L443.25 407.43L443.40 407.21L443.55 407.90L443.70 406.00L443.85 405.36L444.00 407.57L444.15 409.15L444.30 406.96L444.45 409.34L444.60 407.98L444.75 405.41L444.90 404.12L445.05 406.53L445.20 408.66L445.35 406.00L445.50 410.71L445.65 408.08L445.80 405.07L445.95 406.05L446.10 409.19L446.25 409.67L446.40 405.91L446.55 407.14L446.70 407.94L446.85 406.50L447.00 407.91L447.15 410.13L447.30 405.98L447.45 408.03L447.60 408.58L447.75 409.12L447.90 406.73L448.05 408.27L448.20 406.22L448.35 407.46L448.50 405.63L448.65 407.64L448.80 408.04L448.95 410.22L449.10 408.74L449.25 406.10L449.40 403.35L449.55 408.98L449.70 408.64L449.85 406.61L450.00 406.42L450.15 408.07L450.30 406.96L450.45 409.58L450.60 407.50L450.75 405.85L450.90 404.94L451.05 407.30L451.20 407.44L451.35 406.44L451.50 405.58L451.65 406.38L451.80 408.16L451.95 406.56L452.10 405.75L452.25 408.10L452.40 409.09L452.55 406.34L452.70 406.53L452.85 405.74L453.00 406.91L453.15 407.98L453.30 407.66L453.45 408.57L453.60 408.44L453.75 407.84L453.90 407.72L454.05 405.52L454.20 408.87L454.35 407.07L454.50 407.86L454.65 405.04L454.80 406.62L454.95 407.53L455.10 405.88L455.25 406.88L455.40 407.66L455.55 404.96L455.70 406.00L455.85 404.72L456.00 405.41L456.15 405.90L456.30 406.76L456.45 408.57L456.60 405.97L456.75 406.83L456.90 406.00L457.05 406.93L457.20 407.93L457.35 408.42L457.50 405.95L457.65 405.19L457.80 407.31L457.95 406.26L458.10 405.06L458.25 408.11L458.40 407.36L458.55 408.55L458.70 405.29L458.85 406.49L459.00 407.52L459.15 409.42L459.30 407.09L459.45 405.49L459.60 407.25L459.75 407.43L459.90 405.94L460.05 408.68L460.20 406.73L460.35 405.98L460.50 407.94L460.65 408.01L460.80 406.43L460.95 406.91L461.10 407.10L461.25 406.47L461.40 406.44L461.55 408.12L461.70 407.72L461.85 406.11L462.00 405.24L462.15 404.94L462.30 407.97L462.45 405.25L462.60 405.67L462.75 406.74L462.90 406.02L463.05 405.56L463.20 404.37L463.35 408.25L463.50 405.84L463.65 406.85L463.80 406.94L463.95 405.12L464.10 405.53L464.25 408.14L464.40 407.02L464.55 406.30L464.70 408.76L464.85 405.44L465.00 406.70L465.15 406.36L465.30 406.11L465.45 404.25L465.60 406.51L465.75 407.07L465.90 404.31L466.05 407.27L466.20 407.30L466.35 408.64L466.50 405.09L466.65 406.14L466.80 405.86L466.95 406.27L467.10 406.69L467.25 407.64L467.40 407.63L467.55 405.88L467.70 406.30L467.85 404.35L468.00 407.57L468.15 407.15L468.30 407.96L468.45 404.63L468.60 408.29L468.75 405.38L468.90 404.54L469.05 406.61L469.20 405.42L469.35 409.79L469.50 406.95L469.65 408.95L469.80 406.14L469.95 406.36L470.10 407.50L470.25 405.10L470.40 405.87L470.55 407.11L470.70 407.09L470.85 408.59L471.00 406.60L471.15 403.66L471.30 407.37L471.45 405.75L471.60 407.11L471.75 405.24L471.90 405.71L472.05 406.64L472.20 409.08L472.35 407.04L472.50 404.71L472.65 406.63L472.80 405.43L472.95 406.97L473.10 409.19L473.25 405.68L473.40 405.82L473.55 407.09L473.70 406.78L473.85 405.84L474.00 407.09L474.15 405.75L474.30 406.51L474.45 410.03L474.60 406.41L474.75 407.06L474.90 407.42L475.05 405.63L475.20 406.88L475.35 405.43L475.50 404.71L475.65 405.95L475.80 408.51L475.95 407.19L476.10 404.90L476.25 406.47L476.40 407.28L476.55 406.21L476.70 405.39L476.85 405.70L477.00 405.17L477.15 407.25L477.30 406.41L477.45 406.37L477.60 406.03L477.75 409.31L477.90 406.30L478.05 407.98L478.20 404.12L478.35 403.90L478.50 403.74L478.65 404.80L478.80 406.57L478.95 404.57L479.10 406.11L479.25 404.98L479.40 407.12L479.55 406.62L479.70 405.11L479.85 403.46L480.00 405.74L480.15 402.86L480.30 402.28L480.45 407.57L480.60 405.65L480.75 406.99L480.90 405.76L481.05 406.30L481.20 405.59L481.35 404.12L481.50 404.01L481.65 404.69L481.80 404.77L481.95 404.32L482.10 403.96L482.25 403.06L482.40 403.30L482.55 402.30L482.70 403.84L482.85 401.05L483.00 399.57L483.15 400.08L483.30 400.26L483.45 396.79L483.60 396.20L483.75 393.60L483.90 387.05L484.05 383.21L484.20 383.04L484.35 383.34L484.50 384.18L484.65 385.16L484.80 386.59L484.95 387.26L485.10 387.58L485.25 387.79L485.40 388.00L485.55 386.47L485.70 383.89L485.85 381.20L486.00 377.58L486.15 373.61L486.30 369.79L486.45 364.76L486.60 357.76L486.75 349.84L486.90 342.15L487.05 335.73L487.20 331.67L487.35 331.17L487.50 335.89L487.65 343.65L487.80 351.40L487.95 356.11L488.10 356.49L488.25 356.48L488.40 356.51L488.55 356.49L488.70 357.22L488.85 360.27L489.00 364.15L489.15 367.42L489.30 370.74L489.45 374.22L489.60 377.47L489.75 380.47L489.90 382.35L490.05 383.45L490.20 383.57L490.35 383.73L490.50 384.14L490.65 384.51L490.80 385.00L490.95 385.33L491.10 385.28L491.25 385.72L491.40 385.78L491.55 385.26L491.70 385.74L491.85 385.05L492.00 385.86L492.15 385.36L492.30 385.76L492.45 385.39L492.60 385.67L492.75 385.36L492.90 385.38L493.05 385.42L493.20 385.13L493.35 384.83L493.50 385.32L493.65 384.89L493.80 385.04L493.95 385.02L494.10 384.41L494.25 385.46L494.40 385.01L494.55 385.24L494.70 384.78L494.85 384.70L495.00 383.65L495.15 384.41L495.30 383.99L495.45 384.04L495.60 384.40L495.75 384.10L495.90 383.74L496.05 384.03L496.20 383.95L496.35 383.80L496.50 384.22L496.65 383.98L496.80 383.62L496.95 383.49L497.10 383.76L497.25 383.53L497.40 383.39L497.55 383.30L497.70 383.00L497.85 383.03L498.00 382.91L498.15 383.16L498.30 382.96L498.45 382.54L498.60 382.85L498.75 382.31L498.90 382.39L499.05 382.29L499.20 381.84L499.35 382.00L499.50 381.90L499.65 381.72L499.80 381.43L499.95 380.75L500.10 381.60L500.25 381.02L500.40 380.93L500.55 380.55L500.70 380.66L500.85 380.92L501.00 380.05L501.15 380.35L501.30 380.01L501.45 380.11L501.60 379.90L501.75 379.65L501.90 379.26L502.05 379.11L502.20 379.22L502.35 378.88L502.50 378.87L502.65 378.64L502.80 378.48L502.95 378.25L503.10 378.29L503.25 378.05L503.40 377.83L503.55 377.68L503.70 377.65L503.85 377.09L504.00 377.23L504.15 376.87L504.30 376.76L504.45 376.42L504.60 376.70L504.75 375.90L504.90 376.00L505.05 375.91L505.20 375.50L505.35 375.00L505.50 374.98L505.65 374.94L505.80 374.59L505.95 374.12L506.10 374.18L506.25 373.77L506.40 373.51L506.55 372.96L506.70 372.92L506.85 372.43L507.00 372.28L507.15 371.91L507.30 371.33L507.45 370.92L507.60 370.64L507.75 369.92L507.90 369.35L508.05 368.82L508.20 368.09L508.35 367.23L508.50 366.11L508.65 364.63L508.80 362.80L508.95 360.61L509.10 357.05L509.25 350.47L509.40 344.67L509.55 343.38L509.70 345.67L509.85 349.64L510.00 353.99L510.15 357.49L510.30 358.96L510.45 358.84L510.60 358.22L510.75 357.46L510.90 356.53L511.05 355.55L511.20 354.59L511.35 353.75L511.50 353.19L511.65 352.81L511.80 352.46L511.95 352.14L512.10 351.84L512.25 351.56L512.40 351.35L512.55 351.10L512.70 350.85L512.85 350.60L513.00 350.31L513.15 350.00L513.30 349.69L513.45 349.30L513.60 348.86L513.75 348.43L513.90 347.96L514.05 347.49L514.20 347.01L514.35 346.52L514.50 346.04L514.65 345.58L514.80 345.13L514.95 344.70L515.10 344.32L515.25 343.95L515.40 343.65L515.55 343.40L515.70 343.20L515.85 343.04L516.00 342.90L516.15 342.78L516.30 342.68L516.45 342.59L516.60 342.48L516.75 342.41L516.90 342.33L517.05 342.25L517.20 342.17L517.35 342.11L517.50 342.01L517.65 341.93L517.80 341.82L517.95 341.71L518.10 341.60L518.25 341.45L518.40 341.29L518.55 341.09L518.70 340.86L518.85 340.60L519.00 340.32L519.15 340.00L519.30 339.68L519.45 339.35L519.60 339.02L519.75 338.65L519.90 338.31L520.05 337.97L520.20 337.64L520.35 337.31L520.50 337.00L520.65 336.72L520.80 336.44L520.95 336.19L521.10 335.95L521.25 335.72L521.40 335.47L521.55 335.22L521.70 334.95L521.85 334.66L522.00 334.34L522.15 333.99L522.30 333.59L522.45 333.15L522.60 332.64L522.75 331.95L522.90 331.11L523.05 330.15L523.20 329.10L523.35 327.97L523.50 326.79L523.65 325.60L523.80 324.29L523.95 322.84L524.10 321.21L524.25 319.36L524.40 317.34L524.55 315.13L524.70 312.69L524.85 309.99L525.00 307.00L525.15 303.68L525.30 300.00L525.45 294.64L525.60 287.00L525.75 278.13L525.90 269.08L526.05 260.92L526.20 254.69L526.35 251.44L526.50 251.53L526.65 252.99L526.80 255.12L526.95 257.34L527.10 259.19L527.25 260.94L527.40 263.10L527.55 266.31L527.70 272.39L527.85 279.71L528.00 286.55L528.15 293.57L528.30 300.00L528.45 305.90L528.60 311.60L528.75 316.50L528.90 320.00L529.05 322.43L529.20 324.55L529.35 326.40L529.50 328.01L529.65 329.40L529.80 330.61L529.95 331.67L530.10 332.62L530.25 333.45L530.40 334.19L530.55 334.85L530.70 335.47L530.85 336.04L531.00 336.59L531.15 337.15L531.30 337.72L531.45 338.34L531.60 338.99L531.75 339.71L531.90 340.43L532.05 341.14L532.20 341.85L532.35 342.62L532.50 343.38L532.65 344.12L532.80 344.90L532.95 345.66L533.10 346.49L533.25 347.29L533.40 348.08L533.55 348.88L533.70 349.70L533.85 350.52L534.00 351.43L534.15 352.29L534.30 353.16L534.45 354.04L534.60 354.98L534.75 356.02L534.90 357.12L535.05 358.15L535.20 359.26L535.35 360.23L535.50 361.40L535.65 362.18L535.80 363.25L535.95 364.06L536.10 364.88L536.25 365.62L536.40 366.34L536.55 366.89L536.70 367.33L536.85 367.83L537.00 368.13L537.15 368.61L537.30 368.98L537.45 369.14L537.60 369.62L537.75 369.96L537.90 370.29L538.05 370.57L538.20 370.78L538.35 371.27L538.50 371.24L538.65 371.45L538.80 371.78L538.95 372.31L539.10 372.76L539.25 372.81L539.40 372.95L539.55 373.06L539.70 373.48L539.85 373.73L540.00 373.60L540.15 374.24L540.30 374.12L540.45 374.36L540.60 375.02L540.75 374.90L540.90 375.28L541.05 375.57L541.20 375.98L541.35 376.12L541.50 375.88L541.65 376.27L541.80 376.31L541.95 376.84L542.10 376.87L542.25 377.06L542.40 377.60L542.55 377.85L542.70 377.52L542.85 377.81L543.00 378.32L543.15 378.31L543.30 378.31L543.45 378.20L543.60 379.19L543.75 378.97L543.90 378.75L544.05 379.56L544.20 379.35L544.35 380.85L544.50 379.77L544.65 380.45L544.80 381.30L544.95 380.61L545.10 380.73L545.25 380.88L545.40 381.09L545.55 381.72L545.70 382.20L545.85 382.30L546.00 382.34L546.15 382.38L546.30 382.92L546.45 382.91L546.60 382.77L546.75 383.18L546.90 382.58L547.05 382.81L547.20 384.37L547.35 384.30L547.50 384.82L547.65 384.94L547.80 384.33L547.95 385.21L548.10 385.40L548.25 385.19L548.40 384.85L548.55 385.55L548.70 385.71L548.85 385.24L549.00 385.60L549.15 385.75L549.30 385.66L549.45 386.80L549.60 386.30L549.75 386.89L549.90 386.16L550.05 386.41L550.20 387.55L550.35 386.40L550.50 387.90L550.65 386.74L550.80 387.39L550.95 388.14L551.10 388.42L551.25 388.07L551.40 388.03L551.55 388.57L551.70 387.94L551.85 389.26L552.00 388.52L552.15 388.64L552.30 389.96L552.45 388.70L552.60 389.82L552.75 390.80L552.90 389.64L553.05 389.51L553.20 388.92L553.35 389.92L553.50 388.79L553.65 388.93L553.80 389.25L553.95 389.22L554.10 389.96L554.25 390.70L554.40 389.99L554.55 389.89L554.70 390.50L554.85 390.96L555.00 392.06L555.15 390.54L555.30 390.88L555.45 392.23L555.60 391.29L555.75 390.96L555.90 391.67L556.05 391.13L556.20 391.26L556.35 393.10L556.50 392.27L556.65 391.78L556.80 391.57L556.95 391.32L557.10 394.09L557.25 392.64L557.40 392.14L557.55 391.86L557.70 391.62L557.85 393.81L558.00 393.44L558.15 394.14L558.30 392.68L558.45 394.61L558.60 392.59L558.75 392.89L558.90 393.35L559.05 395.89L559.20 394.57L559.35 393.44L559.50 395.49L559.65 394.50L559.80 394.48L559.95 393.72L560.10 394.35L560.25 394.46L560.40 395.22L560.55 394.91L560.70 395.15L560.85 394.47L561.00 395.41L561.15 394.41L561.30 397.19L561.45 394.47L561.60 395.85L561.75 394.74L561.90 395.83L562.05 395.20L562.20 394.73L562.35 396.82L562.50 396.28L562.65 396.65L562.80 396.37L562.95 398.49L563.10 396.98L563.25 397.18L563.40 397.88L563.55 397.34L563.70 399.01L563.85 395.92L564.00 396.97L564.15 395.65L564.30 398.66L564.45 399.12L564.60 397.55L564.75 399.98L564.90 397.81L565.05 398.98L565.20 398.64L565.35 398.05L565.50 398.38L565.65 396.53L565.80 397.89L565.95 400.30L566.10 397.67L566.25 400.54L566.40 398.83L566.55 400.58L566.70 400.11L566.85 397.67L567.00 399.90L567.15 400.08L567.30 400.04L567.45 399.79L567.60 397.82L567.75 401.04L567.90 401.18L568.05 398.95L568.20 401.81L568.35 400.21L568.50 398.49L568.65 399.86L568.80 400.52L568.95 400.88L569.10 401.21L569.25 400.83L569.40 399.97L569.55 398.73L569.70 399.09L569.85 401.02L570.00 401.29L570.15 399.55L570.30 402.95L570.45 401.06L570.60 400.96L570.75 402.08L570.90 401.97L571.05 400.26L571.20 403.05L571.35 402.02L571.50 401.70L571.65 400.78L571.80 402.84L571.95 399.65L572.10 401.43L572.25 401.41L572.40 401.60L572.55 402.07L572.70 402.56L572.85 399.83L573.00 401.03L573.15 401.48L573.30 400.13L573.45 402.40L573.60 400.66L573.75 401.48L573.90 402.79L574.05 400.62L574.20 403.81L574.35 400.83L574.50 402.96L574.65 401.22L574.80 400.06L574.95 401.09L575.10 402.71L575.25 401.95L575.40 402.46L575.55 403.69L575.70 403.63L575.85 402.01L576.00 401.39L576.15 404.82L576.30 402.28L576.45 401.54L576.60 402.11L576.75 403.75L576.90 400.98L577.05 404.16L577.20 401.54L577.35 400.39L577.50 405.67L577.65 402.16L577.80 402.12L577.95 402.27L578.10 403.73L578.25 403.09L578.40 404.80L578.55 402.53L578.70 402.02L578.85 403.76L579.00 404.19L579.15 403.53L579.30 402.90L579.45 402.84L579.60 403.10L579.75 402.89L579.90 405.00L580.05 407.60L580.20 402.25L580.35 401.26L580.50 405.31L580.65 404.15L580.80 402.80L580.95 401.97L581.10 402.40L581.25 401.63L581.40 403.42L581.55 402.81L581.70 402.84L581.85 404.06L582.00 401.89L582.15 402.66L582.30 402.23L582.45 404.12L582.60 402.23L582.75 405.20L582.90 403.12L583.05 408.00L583.20 405.22L583.35 402.76L583.50 404.43L583.65 403.58L583.80 406.35L583.95 401.88L584.10 403.10L584.25 403.98L584.40 403.41L584.55 403.56L584.70 402.20L584.85 403.78L585.00 406.35L585.15 404.50L585.30 402.49L585.45 403.43L585.60 404.84L585.75 403.44L585.90 404.14L586.05 403.51L586.20 406.80L586.35 405.72L586.50 403.53L586.65 404.78L586.80 404.01L586.95 402.05L587.10 405.01L587.25 404.26L587.40 405.44L587.55 405.57L587.70 404.80L587.85 406.94L588.00 408.11L588.15 403.02L588.30 404.98L588.45 403.39L588.60 404.73L588.75 404.73L588.90 404.07L589.05 404.04L589.20 406.84L589.35 403.48L589.50 406.54L589.65 404.86L589.80 402.02L589.95 405.09L590.10 403.10L590.25 405.77L590.40 404.48L590.55 405.27L590.70 404.80L590.85 406.66L591.00 406.79L591.15 405.01L591.30 407.90L591.45 406.78L591.60 404.71L591.75 406.50L591.90 406.95L592.05 407.32L592.20 405.51L592.35 406.26L592.50 405.57L592.65 406.07L592.80 403.49L592.95 406.50L593.10 408.98L593.25 405.78L593.40 405.97L593.55 405.79L593.70 408.50L593.85 404.59L594.00 406.15L594.15 406.20L594.30 408.60L594.45 405.56L594.60 406.33L594.75 404.52L594.90 406.90L595.05 408.19L595.20 406.19L595.35 407.74L595.50 405.87L595.65 408.07L595.80 406.68L595.95 406.85L596.10 406.61L596.25 407.33L596.40 407.81L596.55 406.74L596.70 407.53L596.85 406.51L597.00 407.14L597.15 410.37L597.30 406.91L597.45 405.05L597.60 406.47L597.75 406.11L597.90 406.33L598.05 407.64L598.20 409.01L598.35 405.96L598.50 405.68L598.65 406.34L598.80 406.56L598.95 406.63L599.10 407.23L599.25 406.85L599.40 407.24L599.55 406.84L599.70 408.69L599.85 408.25L600.00 406.61L600.15 407.88L600.30 411.30L600.45 407.29L600.60 411.11L600.75 405.12L600.90 406.59L601.05 406.68L601.20 408.56L601.35 409.29L601.50 407.96L601.65 407.67L601.80 408.83L601.95 407.53L602.10 406.87L602.25 407.01L602.40 409.35L602.55 411.24L602.70 407.88L602.85 408.85L603.00 407.34L603.15 405.89L603.30 405.92L603.45 407.64L603.60 406.61L603.75 406.00L603.90 408.04L604.05 407.76L604.20 407.04L604.35 408.23L604.50 408.91L604.65 409.30L604.80 408.25L604.95 409.16L605.10 407.26L605.25 408.79L605.40 406.49L605.55 406.82L605.70 410.22L605.85 407.03L606.00 409.01L606.15 406.73L606.30 407.82L606.45 408.58L606.60 407.66L606.75 409.35L606.90 408.15L607.05 408.10L607.20 408.84L607.35 408.14L607.50 410.12L607.65 407.96L607.80 410.48L607.95 407.92L608.10 408.14L608.25 407.86L608.40 409.59L608.55 405.25L608.70 409.16L608.85 408.66L609.00 409.95L609.15 407.10L609.30 409.58L609.45 407.66L609.60 410.31L609.75 408.57L609.90 409.51L610.05 407.82L610.20 409.44L610.35 410.28L610.50 408.48L610.65 410.82L610.80 410.48L610.95 408.13L611.10 411.97L611.25 408.18L611.40 409.74L611.55 410.50L611.70 408.90L611.85 408.41L612.00 410.07L612.15 409.52L612.30 408.26L612.45 408.33L612.60 409.40L612.75 410.43L612.90 410.70L613.05 410.21L613.20 408.51L613.35 408.66L613.50 409.03L613.65 407.70L613.80 409.88L613.95 410.00L614.10 410.03L614.25 407.18L614.40 412.64L614.55 409.17L614.70 408.98L614.85 409.50L615.00 406.80L615.15 408.13L615.30 408.64L615.45 410.91L615.60 409.01L615.75 410.19L615.90 409.64L616.05 409.45L616.20 410.39L616.35 408.92L616.50 407.75L616.65 408.46L616.80 409.50L616.95 412.69L617.10 408.45L617.25 408.47L617.40 410.11L617.55 410.52L617.70 409.03L617.85 411.03L618.00 408.89L618.15 411.46L618.30 411.23L618.45 409.94L618.60 412.08L618.75 409.99L618.90 409.31L619.05 411.90L619.20 408.86L619.35 410.82L619.50 409.35L619.65 409.80L619.80 410.72L619.95 410.82L620.10 412.62L620.25 411.10L620.40 411.22L620.55 408.15L620.70 408.90L620.85 412.16L621.00 409.19L621.15 409.93L621.30 410.76L621.45 409.66L621.60 409.26L621.75 411.06L621.90 410.67L622.05 410.09L622.20 411.70L622.35 410.10L622.50 410.46L622.65 411.30L622.80 411.55L622.95 410.00L623.10 409.30L623.25 409.99L623.40 411.63L623.55 409.50L623.70 410.24L623.85 409.72L624.00 409.04L624.15 411.76L624.30 410.71L624.45 411.35L624.60 411.76L624.75 408.15L624.90 409.39L625.05 413.17L625.20 410.05L625.35 411.37L625.50 409.19L625.65 410.53L625.80 410.89L625.95 410.48L626.10 410.18L626.25 410.65L626.40 411.00L626.55 410.90L626.70 410.07L626.85 412.33L627.00 410.76L627.15 410.93L627.30 411.44L627.45 409.86L627.60 412.64L627.75 411.31L627.90 412.01L628.05 410.14L628.20 411.49L628.35 410.81L628.50 410.38L628.65 413.20L628.80 410.32L628.95 411.95L629.10 411.27L629.25 411.09L629.40 409.93L629.55 410.03L629.70 408.83L629.85 410.76L630.00 411.65L630.15 411.70L630.30 410.19L630.45 409.08L630.60 410.61L630.75 411.85L630.90 410.71L631.05 410.75L631.20 411.05L631.35 412.13L631.50 415.00L631.65 411.86L631.80 409.82L631.95 410.87L632.10 414.47L632.25 411.17L632.40 413.89L632.55 408.81L632.70 410.96L632.85 412.91L633.00 410.22L633.15 412.32L633.30 410.53L633.45 411.23L633.60 412.93L633.75 410.43L633.90 413.20L634.05 409.65L634.20 411.24L634.35 412.76L634.50 413.99L634.65 409.37L634.80 409.57L634.95 413.15L635.10 409.37L635.25 411.17L635.40 411.70L635.55 411.53L635.70 411.78L635.85 409.67L636.00 411.25L636.15 414.15L636.30 408.96L636.45 410.36L636.60 413.01L636.75 411.98L636.90 412.76L637.05 411.46L637.20 411.02L637.35 411.23L637.50 412.36L637.65 412.66L637.80 410.50L637.95 411.71L638.10 408.92L638.25 412.71L638.40 410.61L638.55 411.56L638.70 412.67L638.85 409.96L639.00 411.49L639.15 412.90L639.30 412.10L639.45 410.40L639.60 413.42L639.75 410.00L639.90 410.83L640.05 412.09L640.20 410.05L640.35 409.61L640.50 410.98L640.65 411.53L640.80 409.53L640.95 409.94L641.10 413.07L641.25 412.07L641.40 412.09L641.55 412.37L641.70 413.97L641.85 410.69L642.00 411.73L642.15 411.72L642.30 410.12L642.45 412.64L642.60 411.95L642.75 411.53L642.90 412.48L643.05 412.05L643.20 410.94L643.35 411.93L643.50 410.28L643.65 412.98L643.80 411.68L643.95 414.01L644.10 412.12L644.25 412.94L644.40 410.29L644.55 411.04L644.70 411.34L644.85 409.77L645.00 410.23L645.15 411.10L645.30 412.99L645.45 414.12L645.60 412.09L645.75 412.54L645.90 412.96L646.05 412.47L646.20 414.50L646.35 410.25L646.50 413.71L646.65 413.03L646.80 411.38L646.95 414.50L647.10 410.96L647.25 410.95L647.40 412.57L647.55 413.68L647.70 412.81L647.85 414.91L648.00 410.45L648.15 412.11L648.30 413.21L648.45 413.47L648.60 411.46L648.75 410.35L648.90 414.05L649.05 413.02L649.20 414.83L649.35 411.37L649.50 412.04L649.65 409.54L649.80 412.43L649.95 412.87L650.10 413.26L650.25 411.19L650.40 414.68L650.55 411.33L650.70 411.98L650.85 413.01L651.00 413.59L651.15 410.98L651.30 410.05L651.45 412.95L651.60 411.65L651.75 410.20L651.90 413.21L652.05 412.70L652.20 414.12L652.35 412.57L652.50 412.49L652.65 412.96L652.80 413.42L652.95 414.72" stroke="#0000ff" stroke-width="1.45" fill="none" stroke-linejoin="round" />
<rect x="133.7" y="0.6" width="187.5" height="138.20000000000002" fill="#fff"/>
<path d="M134.40 126.38L134.40 126.38L134.40 126.38L134.40 126.38L134.40 126.38L134.40 126.38L134.40 126.38L136.40 126.29L139.40 126.11L142.40 125.87L145.40 125.59L148.40 125.28L151.40 124.95L154.40 124.56L157.40 124.02L160.40 123.27L163.40 121.41L166.40 118.79L169.40 115.72L172.40 112.00L175.40 107.19L178.40 101.59L181.40 95.78L184.40 88.87L187.40 80.50L190.40 70.91L193.40 60.28L196.40 48.69L199.40 36.77L202.40 28.76L205.40 20.26L208.40 19.70L211.40 27.12L214.40 35.81L217.40 42.84L220.40 50.77L223.40 59.24L226.40 68.13L229.40 77.64L232.40 86.75L235.40 95.20L238.40 102.87L241.40 108.02L244.40 111.32L247.40 114.20L250.40 117.50L253.40 120.53L256.40 122.10L259.40 122.69L262.40 123.07L265.40 123.35L268.40 123.62L271.40 123.88L274.40 124.10L277.40 124.29L280.40 124.42L283.40 124.49L286.40 124.50L289.40 124.50L292.40 124.50L295.40 124.49L298.40 124.47L301.40 124.45L304.40 124.42L307.40 124.37L310.40 124.32L313.40 124.25L316.40 124.16L319.40 124.05L321.20 123.98" stroke="#808000" stroke-width="1.5" fill="none" stroke-linejoin="round" />
<path d="M134.50 127.89L135.00 127.89L135.50 127.89L136.00 127.89L136.50 127.89L137.00 127.89L137.50 127.89L138.00 127.88L138.50 127.88L139.00 127.88L139.50 127.88L140.00 127.87L140.50 127.87L141.00 127.86L141.50 127.86L142.00 127.85L142.50 127.85L143.00 127.84L143.50 127.83L144.00 127.82L144.50 127.81L145.00 127.80L145.50 127.79L146.00 127.77L146.50 127.76L147.00 127.74L147.50 127.72L148.00 127.70L148.50 127.68L149.00 127.65L149.50 127.62L150.00 127.59L150.50 127.56L151.00 127.52L151.50 127.48L152.00 127.43L152.50 127.38L153.00 127.33L153.50 127.27L154.00 127.21L154.50 127.14L155.00 127.06L155.50 126.98L156.00 126.90L156.50 126.80L157.00 126.70L157.50 126.59L158.00 126.47L158.50 126.34L159.00 126.20L159.50 126.05L160.00 125.89L160.50 125.71L161.00 125.53L161.50 125.33L162.00 125.12L162.50 124.89L163.00 124.65L163.50 124.39L164.00 124.11L164.50 123.82L165.00 123.50L165.50 123.17L166.00 122.82L166.50 122.44L167.00 122.04L167.50 121.62L168.00 121.17L168.50 120.70L169.00 120.20L169.50 119.68L170.00 119.13L170.50 118.54L171.00 117.93L171.50 117.29L172.00 116.62L172.50 115.91L173.00 115.17L173.50 114.39L174.00 113.59L174.50 112.74L175.00 111.86L175.50 110.94L176.00 109.99L176.50 109.00L177.00 107.97L177.50 106.90L178.00 105.80L178.50 104.65L179.00 103.47L179.50 102.25L180.00 100.99L180.50 99.70L181.00 98.37L181.50 97.00L182.00 95.59L182.50 94.15L183.00 92.68L183.50 91.17L184.00 89.63L184.50 88.06L185.00 86.46L185.50 84.83L186.00 83.17L186.50 81.50L187.00 79.80L187.50 78.08L188.00 76.34L188.50 74.59L189.00 72.82L189.50 71.04L190.00 69.26L190.50 67.47L191.00 65.68L191.50 63.89L192.00 62.11L192.50 60.33L193.00 58.57L193.50 56.81L194.00 55.08L194.50 53.36L195.00 51.67L195.50 50.01L196.00 48.38L196.50 46.78L197.00 45.23L197.50 43.71L198.00 42.24L198.50 40.81L199.00 39.44L199.50 38.12L200.00 36.86L200.50 35.66L201.00 34.52L201.50 33.45L202.00 32.44L202.50 31.51L203.00 30.65L203.50 29.87L204.00 29.16L204.50 28.53L205.00 27.99L205.50 27.52L206.00 27.14L206.50 26.84L207.00 26.63L207.50 26.50L208.00 26.46L208.50 26.50L209.00 26.63L209.50 26.85L210.00 27.15L210.50 27.53L211.00 28.00L211.50 28.55L212.00 29.18L212.50 29.89L213.00 30.67L213.50 31.53L214.00 32.47L214.50 33.47L215.00 34.55L215.50 35.69L216.00 36.89L216.50 38.16L217.00 39.48L217.50 40.85L218.00 42.28L218.50 43.75L219.00 45.27L219.50 46.83L220.00 48.43L220.50 50.07L221.00 51.73L221.50 53.42L222.00 55.14L222.50 56.87L223.00 58.63L223.50 60.40L224.00 62.18L224.50 63.96L225.00 65.75L225.50 67.55L226.00 69.34L226.50 71.12L227.00 72.90L227.50 74.67L228.00 76.42L228.50 78.16L229.00 79.89L229.50 81.59L230.00 83.27L230.50 84.92L231.00 86.55L231.50 88.16L232.00 89.73L232.50 91.27L233.00 92.78L233.50 94.26L234.00 95.70L234.50 97.11L235.00 98.48L235.50 99.82L236.00 101.11L236.50 102.37L237.00 103.60L237.50 104.78L238.00 105.93L238.50 107.03L239.00 108.10L239.50 109.13L240.00 110.13L240.50 111.08L241.00 112.00L241.50 112.88L242.00 113.73L242.50 114.54L243.00 115.32L243.50 116.06L244.00 116.77L244.50 117.45L245.00 118.09L245.50 118.70L246.00 119.29L246.50 119.84L247.00 120.37L247.50 120.87L248.00 121.34L248.50 121.79L249.00 122.22L249.50 122.62L250.00 122.99L250.50 123.35L251.00 123.69L251.50 124.00L252.00 124.30L252.50 124.58L253.00 124.84L253.50 125.08L254.00 125.31L254.50 125.53L255.00 125.73L255.50 125.92L256.00 126.09L256.50 126.26L257.00 126.41L257.50 126.55L258.00 126.68L258.50 126.80L259.00 126.91L259.50 127.02L260.00 127.12L260.50 127.21L261.00 127.29L261.50 127.37L262.00 127.44L262.50 127.50L263.00 127.56L263.50 127.62L264.00 127.67L264.50 127.72L265.00 127.76L265.50 127.80L266.00 127.84L266.50 127.87L267.00 127.90L267.50 127.93L268.00 127.96L268.50 127.98L269.00 128.00L269.50 128.02L270.00 128.04L270.50 128.05L271.00 128.07L271.50 128.08L272.00 128.09L272.50 128.11L273.00 128.12L273.50 128.13L274.00 128.13L274.50 128.14L275.00 128.15L275.50 128.16L276.00 128.16L276.50 128.17L277.00 128.17L277.50 128.18L278.00 128.18L278.50 128.19L279.00 128.19L279.50 128.19L280.00 128.20L280.50 128.20L281.00 128.20L281.50 128.20L282.00 128.21L282.50 128.21L283.00 128.21L283.50 128.21L284.00 128.21L284.50 128.22L285.00 128.22L285.50 128.22L286.00 128.22L286.50 128.22L287.00 128.22L287.50 128.23L288.00 128.23L288.50 128.23L289.00 128.23L289.50 128.23L290.00 128.23L290.50 128.23L291.00 128.23L291.50 128.24L292.00 128.24L292.50 128.24L293.00 128.24L293.50 128.24L294.00 128.24L294.50 128.24L295.00 128.24L295.50 128.24L296.00 128.25L296.50 128.25L297.00 128.25L297.50 128.25L298.00 128.25L298.50 128.25L299.00 128.25L299.50 128.25L300.00 128.25L300.50 128.26L301.00 128.26L301.50 128.26L302.00 128.26L302.50 128.26L303.00 128.26L303.50 128.26L304.00 128.26L304.50 128.26L305.00 128.27L305.50 128.27L306.00 128.27L306.50 128.27L307.00 128.27L307.50 128.27L308.00 128.27L308.50 128.27L309.00 128.27L309.50 128.28L310.00 128.28L310.50 128.28L311.00 128.28L311.50 128.28L312.00 128.28L312.50 128.28L313.00 128.28L313.50 128.28L314.00 128.28L314.50 128.29L315.00 128.29L315.50 128.29L316.00 128.29L316.50 128.29L317.00 128.29L317.50 128.29L318.00 128.29L318.50 128.29L319.00 128.30L319.50 128.30L320.00 128.30L320.50 128.30L321.00 128.30" stroke="#00ffff" stroke-width="2.0" fill="none" stroke-dasharray="4.2 4.2" stroke-dashoffset="0"/>
<path d="M134.50 127.89L135.00 127.89L135.50 127.89L136.00 127.89L136.50 127.89L137.00 127.89L137.50 127.89L138.00 127.88L138.50 127.88L139.00 127.88L139.50 127.88L140.00 127.87L140.50 127.87L141.00 127.86L141.50 127.86L142.00 127.85L142.50 127.85L143.00 127.84L143.50 127.83L144.00 127.82L144.50 127.81L145.00 127.80L145.50 127.79L146.00 127.77L146.50 127.76L147.00 127.74L147.50 127.72L148.00 127.70L148.50 127.68L149.00 127.65L149.50 127.62L150.00 127.59L150.50 127.56L151.00 127.52L151.50 127.48L152.00 127.43L152.50 127.38L153.00 127.33L153.50 127.27L154.00 127.21L154.50 127.14L155.00 127.06L155.50 126.98L156.00 126.90L156.50 126.80L157.00 126.70L157.50 126.59L158.00 126.47L158.50 126.34L159.00 126.20L159.50 126.05L160.00 125.89L160.50 125.71L161.00 125.53L161.50 125.33L162.00 125.12L162.50 124.89L163.00 124.65L163.50 124.39L164.00 124.11L164.50 123.82L165.00 123.50L165.50 123.17L166.00 122.82L166.50 122.44L167.00 122.04L167.50 121.62L168.00 121.17L168.50 120.70L169.00 120.20L169.50 119.68L170.00 119.13L170.50 118.54L171.00 117.93L171.50 117.29L172.00 116.62L172.50 115.91L173.00 115.17L173.50 114.39L174.00 113.59L174.50 112.74L175.00 111.86L175.50 110.94L176.00 109.99L176.50 109.00L177.00 107.97L177.50 106.90L178.00 105.80L178.50 104.65L179.00 103.47L179.50 102.25L180.00 100.99L180.50 99.70L181.00 98.37L181.50 97.00L182.00 95.59L182.50 94.15L183.00 92.68L183.50 91.17L184.00 89.63L184.50 88.06L185.00 86.46L185.50 84.83L186.00 83.17L186.50 81.50L187.00 79.80L187.50 78.08L188.00 76.34L188.50 74.59L189.00 72.82L189.50 71.04L190.00 69.26L190.50 67.47L191.00 65.68L191.50 63.89L192.00 62.11L192.50 60.33L193.00 58.57L193.50 56.81L194.00 55.08L194.50 53.36L195.00 51.67L195.50 50.01L196.00 48.38L196.50 46.78L197.00 45.23L197.50 43.71L198.00 42.24L198.50 40.81L199.00 39.44L199.50 38.12L200.00 36.86L200.50 35.66L201.00 34.52L201.50 33.45L202.00 32.44L202.50 31.51L203.00 30.65L203.50 29.87L204.00 29.16L204.50 28.53L205.00 27.99L205.50 27.52L206.00 27.14L206.50 26.84L207.00 26.63L207.50 26.50L208.00 26.46L208.50 26.50L209.00 26.63L209.50 26.85L210.00 27.15L210.50 27.53L211.00 28.00L211.50 28.55L212.00 29.18L212.50 29.89L213.00 30.67L213.50 31.53L214.00 32.47L214.50 33.47L215.00 34.55L215.50 35.69L216.00 36.89L216.50 38.16L217.00 39.48L217.50 40.85L218.00 42.28L218.50 43.75L219.00 45.27L219.50 46.83L220.00 48.43L220.50 50.07L221.00 51.73L221.50 53.42L222.00 55.14L222.50 56.87L223.00 58.63L223.50 60.40L224.00 62.18L224.50 63.96L225.00 65.75L225.50 67.55L226.00 69.34L226.50 71.12L227.00 72.90L227.50 74.67L228.00 76.42L228.50 78.16L229.00 79.89L229.50 81.59L230.00 83.27L230.50 84.92L231.00 86.55L231.50 88.16L232.00 89.73L232.50 91.27L233.00 92.78L233.50 94.26L234.00 95.70L234.50 97.11L235.00 98.48L235.50 99.82L236.00 101.11L236.50 102.37L237.00 103.60L237.50 104.78L238.00 105.93L238.50 107.03L239.00 108.10L239.50 109.13L240.00 110.13L240.50 111.08L241.00 112.00L241.50 112.88L242.00 113.73L242.50 114.54L243.00 115.32L243.50 116.06L244.00 116.77L244.50 117.45L245.00 118.09L245.50 118.70L246.00 119.29L246.50 119.84L247.00 120.37L247.50 120.87L248.00 121.34L248.50 121.79L249.00 122.22L249.50 122.62L250.00 122.99L250.50 123.35L251.00 123.69L251.50 124.00L252.00 124.30L252.50 124.58L253.00 124.84L253.50 125.08L254.00 125.31L254.50 125.53L255.00 125.73L255.50 125.92L256.00 126.09L256.50 126.26L257.00 126.41L257.50 126.55L258.00 126.68L258.50 126.80L259.00 126.91L259.50 127.02L260.00 127.12L260.50 127.21L261.00 127.29L261.50 127.37L262.00 127.44L262.50 127.50L263.00 127.56L263.50 127.62L264.00 127.67L264.50 127.72L265.00 127.76L265.50 127.80L266.00 127.84L266.50 127.87L267.00 127.90L267.50 127.93L268.00 127.96L268.50 127.98L269.00 128.00L269.50 128.02L270.00 128.04L270.50 128.05L271.00 128.07L271.50 128.08L272.00 128.09L272.50 128.11L273.00 128.12L273.50 128.13L274.00 128.13L274.50 128.14L275.00 128.15L275.50 128.16L276.00 128.16L276.50 128.17L277.00 128.17L277.50 128.18L278.00 128.18L278.50 128.19L279.00 128.19L279.50 128.19L280.00 128.20L280.50 128.20L281.00 128.20L281.50 128.20L282.00 128.21L282.50 128.21L283.00 128.21L283.50 128.21L284.00 128.21L284.50 128.22L285.00 128.22L285.50 128.22L286.00 128.22L286.50 128.22L287.00 128.22L287.50 128.23L288.00 128.23L288.50 128.23L289.00 128.23L289.50 128.23L290.00 128.23L290.50 128.23L291.00 128.23L291.50 128.24L292.00 128.24L292.50 128.24L293.00 128.24L293.50 128.24L294.00 128.24L294.50 128.24L295.00 128.24L295.50 128.24L296.00 128.25L296.50 128.25L297.00 128.25L297.50 128.25L298.00 128.25L298.50 128.25L299.00 128.25L299.50 128.25L300.00 128.25L300.50 128.26L301.00 128.26L301.50 128.26L302.00 128.26L302.50 128.26L303.00 128.26L303.50 128.26L304.00 128.26L304.50 128.26L305.00 128.27L305.50 128.27L306.00 128.27L306.50 128.27L307.00 128.27L307.50 128.27L308.00 128.27L308.50 128.27L309.00 128.27L309.50 128.28L310.00 128.28L310.50 128.28L311.00 128.28L311.50 128.28L312.00 128.28L312.50 128.28L313.00 128.28L313.50 128.28L314.00 128.28L314.50 128.29L315.00 128.29L315.50 128.29L316.00 128.29L316.50 128.29L317.00 128.29L317.50 128.29L318.00 128.29L318.50 128.29L319.00 128.30L319.50 128.30L320.00 128.30L320.50 128.30L321.00 128.30" stroke="#000000" stroke-width="2.0" fill="none" stroke-dasharray="4.2 4.2" stroke-dashoffset="4.2"/>
<rect x="133.70" y="0.60" width="187.50" height="138.20" fill="none" stroke="#000" stroke-width="1.4"/>
<path d="M133.70 1.20L131.10 1.20M133.70 22.30L131.10 22.30M133.70 43.40L131.10 43.40M133.70 64.50L131.10 64.50M133.70 85.60L131.10 85.60M133.70 106.70L131.10 106.70M133.70 127.80L131.10 127.80" stroke="#000" stroke-width="1.1" fill="none"/>
<path d="M133.70 11.75L132.40 11.75M133.70 32.85L132.40 32.85M133.70 53.95L132.40 53.95M133.70 75.05L132.40 75.05M133.70 96.15L132.40 96.15M133.70 117.25L132.40 117.25M133.70 138.35L132.40 138.35" stroke="#000" stroke-width="0.9" fill="none"/>
<path d="M162.60 138.80L162.60 141.60M197.80 138.80L197.80 141.60M233.00 138.80L233.00 141.60M268.20 138.80L268.20 141.60M303.40 138.80L303.40 141.60" stroke="#000" stroke-width="1.0" fill="none"/>
<path d="M145.00 138.80L145.00 140.50M180.20 138.80L180.20 140.50M215.40 138.80L215.40 140.50M250.60 138.80L250.60 140.50M285.80 138.80L285.80 140.50M321.00 138.80L321.00 140.50" stroke="#000" stroke-width="0.8" fill="none"/>
<text x="162.60" y="151.90" font-size="11.3" text-anchor="middle" font-weight="bold" >39.6</text>
<text x="197.80" y="151.90" font-size="11.3" text-anchor="middle" font-weight="bold" >39.8</text>
<text x="233.00" y="151.90" font-size="11.3" text-anchor="middle" font-weight="bold" >40.0</text>
<text x="268.20" y="151.90" font-size="11.3" text-anchor="middle" font-weight="bold" >40.2</text>
<text x="303.40" y="151.90" font-size="11.3" text-anchor="middle" font-weight="bold" >40.4</text>
<text x="208.10" y="16.30" font-size="12.2" text-anchor="middle" font-weight="bold" >(002)</text>
<rect x="470.4" y="0.6" width="182.89999999999998" height="139.9" fill="#fff"/>
<path d="M471.20 127.10L471.70 127.10L472.20 127.10L472.70 127.10L473.20 127.10L473.70 127.10L474.20 127.10L474.70 127.10L475.20 127.10L475.70 127.10L476.20 127.09L476.70 127.09L477.20 127.09L477.70 127.09L478.20 127.09L478.70 127.09L479.20 127.09L479.70 127.09L480.20 127.09L480.70 127.09L481.20 127.09L481.70 127.08L482.20 127.08L482.70 127.08L483.20 127.08L483.70 127.08L484.20 127.08L484.70 127.07L485.20 127.07L485.70 127.07L486.20 127.07L486.70 127.06L487.20 127.06L487.70 127.06L488.20 127.05L488.70 127.05L489.20 127.04L489.70 127.04L490.20 127.03L490.70 127.03L491.20 127.02L491.70 127.01L492.20 127.00L492.70 127.00L493.20 126.99L493.70 126.98L494.20 126.97L494.70 126.96L495.20 126.95L495.70 126.93L496.20 126.92L496.70 126.90L497.20 126.89L497.70 126.87L498.20 126.85L498.70 126.83L499.20 126.81L499.70 126.79L500.20 126.77L500.70 126.74L501.20 126.71L501.70 126.68L502.20 126.65L502.70 126.62L503.20 126.58L503.70 126.55L504.20 126.51L504.70 126.46L505.20 126.42L505.70 126.37L506.20 126.32L506.70 126.26L507.20 126.20L507.70 126.14L508.20 126.07L508.70 126.00L509.20 125.93L509.70 125.85L510.20 125.77L510.70 125.68L511.20 125.58L511.70 125.48L512.20 125.38L512.70 125.27L513.20 125.15L513.70 125.03L514.20 124.90L514.70 124.76L515.20 124.62L515.70 124.47L516.20 124.31L516.70 124.14L517.20 123.96L517.70 123.78L518.20 123.58L518.70 123.38L519.20 123.17L519.70 122.94L520.20 122.71L520.70 122.46L521.20 122.21L521.70 121.94L522.20 121.66L522.70 121.37L523.20 121.06L523.70 120.74L524.20 120.41L524.70 120.06L525.20 119.70L525.70 119.33L526.20 118.94L526.70 118.53L527.20 118.11L527.70 117.68L528.20 117.22L528.70 116.75L529.20 116.27L529.70 115.76L530.20 115.24L530.70 114.70L531.20 114.14L531.70 113.57L532.20 112.97L532.70 112.36L533.20 111.73L533.70 111.08L534.20 110.40L534.70 109.71L535.20 109.00L535.70 108.27L536.20 107.52L536.70 106.75L537.20 105.96L537.70 105.15L538.20 104.32L538.70 103.48L539.20 102.61L539.70 101.72L540.20 100.81L540.70 99.89L541.20 98.94L541.70 97.98L542.20 97.00L542.70 96.00L543.20 94.98L543.70 93.95L544.20 92.90L544.70 91.84L545.20 90.76L545.70 89.66L546.20 88.55L546.70 87.43L547.20 86.29L547.70 85.15L548.20 83.99L548.70 82.82L549.20 81.65L549.70 80.46L550.20 79.27L550.70 78.07L551.20 76.87L551.70 75.66L552.20 74.45L552.70 73.24L553.20 72.03L553.70 70.81L554.20 69.60L554.70 68.40L555.20 67.19L555.70 65.99L556.20 64.80L556.70 63.62L557.20 62.45L557.70 61.28L558.20 60.13L558.70 58.99L559.20 57.87L559.70 56.77L560.20 55.68L560.70 54.61L561.20 53.56L561.70 52.53L562.20 51.53L562.70 50.55L563.20 49.59L563.70 48.66L564.20 47.76L564.70 46.89L565.20 46.05L565.70 45.24L566.20 44.47L566.70 43.73L567.20 43.02L567.70 42.35L568.20 41.71L568.70 41.12L569.20 40.56L569.70 40.04L570.20 39.56L570.70 39.12L571.20 38.73L571.70 38.37L572.20 38.06L572.70 37.79L573.20 37.57L573.70 37.39L574.20 37.25L574.70 37.16L575.20 37.11L575.70 37.10L576.20 37.14L576.70 37.23L577.20 37.36L577.70 37.53L578.20 37.75L578.70 38.01L579.20 38.31L579.70 38.65L580.20 39.04L580.70 39.47L581.20 39.94L581.70 40.45L582.20 41.00L582.70 41.59L583.20 42.22L583.70 42.88L584.20 43.58L584.70 44.32L585.20 45.09L585.70 45.89L586.20 46.72L586.70 47.59L587.20 48.48L587.70 49.40L588.20 50.35L588.70 51.33L589.20 52.33L589.70 53.35L590.20 54.40L590.70 55.46L591.20 56.55L591.70 57.65L592.20 58.77L592.70 59.90L593.20 61.05L593.70 62.21L594.20 63.38L594.70 64.57L595.20 65.76L595.70 66.95L596.20 68.15L596.70 69.36L597.20 70.57L597.70 71.78L598.20 73.00L598.70 74.21L599.20 75.42L599.70 76.63L600.20 77.83L600.70 79.03L601.20 80.23L601.70 81.41L602.20 82.59L602.70 83.76L603.20 84.92L603.70 86.07L604.20 87.20L604.70 88.33L605.20 89.44L605.70 90.54L606.20 91.62L606.70 92.69L607.20 93.74L607.70 94.78L608.20 95.80L608.70 96.80L609.20 97.78L609.70 98.75L610.20 99.70L610.70 100.63L611.20 101.54L611.70 102.43L612.20 103.30L612.70 104.16L613.20 104.99L613.70 105.80L614.20 106.60L614.70 107.37L615.20 108.12L615.70 108.86L616.20 109.57L616.70 110.27L617.20 110.94L617.70 111.60L618.20 112.23L618.70 112.85L619.20 113.45L619.70 114.03L620.20 114.59L620.70 115.13L621.20 115.66L621.70 116.17L622.20 116.66L622.70 117.13L623.20 117.59L623.70 118.03L624.20 118.45L624.70 118.86L625.20 119.25L625.70 119.63L626.20 119.99L626.70 120.34L627.20 120.68L627.70 121.00L628.20 121.31L628.70 121.60L629.20 121.88L629.70 122.15L630.20 122.41L630.70 122.66L631.20 122.90L631.70 123.12L632.20 123.34L632.70 123.54L633.20 123.74L633.70 123.93L634.20 124.11L634.70 124.28L635.20 124.44L635.70 124.59L636.20 124.73L636.70 124.87L637.20 125.00L637.70 125.13L638.20 125.25L638.70 125.36L639.20 125.46L639.70 125.56L640.20 125.66L640.70 125.75L641.20 125.83L641.70 125.91L642.20 125.99L642.70 126.06L643.20 126.13L643.70 126.19L644.20 126.25L644.70 126.31L645.20 126.36L645.70 126.41L646.20 126.45L646.70 126.50L647.20 126.54L647.70 126.58L648.20 126.61L648.70 126.65L649.20 126.68L649.70 126.71L650.20 126.74L650.70 126.76L651.20 126.79L651.70 126.81L652.20 126.83L652.70 126.85L653.20 126.87" stroke="#ff0000" stroke-width="2.0" fill="none" stroke-dasharray="4.2 4.2" stroke-dashoffset="0"/>
<path d="M471.20 127.10L471.70 127.10L472.20 127.10L472.70 127.10L473.20 127.10L473.70 127.10L474.20 127.10L474.70 127.10L475.20 127.10L475.70 127.10L476.20 127.10L476.70 127.10L477.20 127.10L477.70 127.10L478.20 127.10L478.70 127.10L479.20 127.10L479.70 127.10L480.20 127.10L480.70 127.10L481.20 127.10L481.70 127.10L482.20 127.10L482.70 127.10L483.20 127.10L483.70 127.10L484.20 127.10L484.70 127.10L485.20 127.10L485.70 127.10L486.20 127.10L486.70 127.10L487.20 127.10L487.70 127.10L488.20 127.10L488.70 127.10L489.20 127.10L489.70 127.10L490.20 127.10L490.70 127.10L491.20 127.10L491.70 127.10L492.20 127.10L492.70 127.10L493.20 127.10L493.70 127.10L494.20 127.10L494.70 127.10L495.20 127.10L495.70 127.10L496.20 127.10L496.70 127.10L497.20 127.10L497.70 127.10L498.20 127.10L498.70 127.10L499.20 127.10L499.70 127.10L500.20 127.10L500.70 127.10L501.20 127.10L501.70 127.10L502.20 127.10L502.70 127.10L503.20 127.10L503.70 127.10L504.20 127.10L504.70 127.10L505.20 127.10L505.70 127.10L506.20 127.10L506.70 127.10L507.20 127.10L507.70 127.10L508.20 127.10L508.70 127.10L509.20 127.10L509.70 127.10L510.20 127.10L510.70 127.10L511.20 127.10L511.70 127.10L512.20 127.10L512.70 127.10L513.20 127.10L513.70 127.10L514.20 127.10L514.70 127.10L515.20 127.10L515.70 127.10L516.20 127.10L516.70 127.10L517.20 127.10L517.70 127.10L518.20 127.10L518.70 127.10L519.20 127.10L519.70 127.10L520.20 127.10L520.70 127.10L521.20 127.10L521.70 127.10L522.20 127.10L522.70 127.10L523.20 127.10L523.70 127.10L524.20 127.10L524.70 127.10L525.20 127.10L525.70 127.10L526.20 127.10L526.70 127.10L527.20 127.10L527.70 127.10L528.20 127.10L528.70 127.10L529.20 127.10L529.70 127.10L530.20 127.10L530.70 127.10L531.20 127.10L531.70 127.10L532.20 127.10L532.70 127.10L533.20 127.10L533.70 127.10L534.20 127.10L534.70 127.10L535.20 127.10L535.70 127.10L536.20 127.10L536.70 127.10L537.20 127.10L537.70 127.10L538.20 127.10L538.70 127.10L539.20 127.10L539.70 127.10L540.20 127.10L540.70 127.10L541.20 127.10L541.70 127.10L542.20 127.10L542.70 127.10L543.20 127.10L543.70 127.10L544.20 127.10L544.70 127.10L545.20 127.10L545.70 127.10L546.20 127.10L546.70 127.10L547.20 127.10L547.70 127.10L548.20 127.10L548.70 127.10L549.20 127.10L549.70 127.10L550.20 127.10L550.70 127.10L551.20 127.10L551.70 127.10L552.20 127.10L552.70 127.10L553.20 127.10L553.70 127.10L554.20 127.10L554.70 127.10L555.20 127.10L555.70 127.10L556.20 127.10L556.70 127.10L557.20 127.10L557.70 127.10L558.20 127.10L558.70 127.10L559.20 127.10L559.70 127.10L560.20 127.10L560.70 127.10L561.20 127.10L561.70 127.10L562.20 127.10L562.70 127.10L563.20 127.10L563.70 127.10L564.20 127.10L564.70 127.10L565.20 127.10L565.70 127.10L566.20 127.10L566.70 127.10L567.20 127.10L567.70 127.10L568.20 127.10L568.70 127.10L569.20 127.10L569.70 127.10L570.20 127.10L570.70 127.10L571.20 127.10L571.70 127.10L572.20 127.10L572.70 127.10L573.20 127.10L573.70 127.10L574.20 127.10L574.70 127.10L575.20 127.10L575.70 127.10L576.20 127.10L576.70 127.10L577.20 127.10L577.70 127.10L578.20 127.10L578.70 127.10L579.20 127.10L579.70 127.10L580.20 127.10L580.70 127.10L581.20 127.10L581.70 127.10L582.20 127.10L582.70 127.10L583.20 127.10L583.70 127.10L584.20 127.10L584.70 127.10L585.20 127.10L585.70 127.10L586.20 127.10L586.70 127.10L587.20 127.10L587.70 127.10L588.20 127.10L588.70 127.10L589.20 127.10L589.70 127.10L590.20 127.10L590.70 127.10L591.20 127.10L591.70 127.10L592.20 127.10L592.70 127.10L593.20 127.10L593.70 127.10L594.20 127.10L594.70 127.10L595.20 127.10L595.70 127.10L596.20 127.10L596.70 127.10L597.20 127.10L597.70 127.10L598.20 127.10L598.70 127.10L599.20 127.10L599.70 127.10L600.20 127.10L600.70 127.10L601.20 127.10L601.70 127.10L602.20 127.10L602.70 127.10L603.20 127.10L603.70 127.10L604.20 127.10L604.70 127.10L605.20 127.10L605.70 127.10L606.20 127.10L606.70 127.10L607.20 127.10L607.70 127.10L608.20 127.10L608.70 127.10L609.20 127.10L609.70 127.10L610.20 127.10L610.70 127.10L611.20 127.10L611.70 127.10L612.20 127.10L612.70 127.10L613.20 127.10L613.70 127.10L614.20 127.10L614.70 127.10L615.20 127.10L615.70 127.10L616.20 127.10L616.70 127.10L617.20 127.10L617.70 127.10L618.20 127.10L618.70 127.10L619.20 127.10L619.70 127.10L620.20 127.10L620.70 127.10L621.20 127.10L621.70 127.10L622.20 127.10L622.70 127.10L623.20 127.10L623.70 127.10L624.20 127.10L624.70 127.10L625.20 127.10L625.70 127.10L626.20 127.10L626.70 127.10L627.20 127.10L627.70 127.10L628.20 127.10L628.70 127.10L629.20 127.10L629.70 127.10L630.20 127.10L630.70 127.10L631.20 127.10L631.70 127.10L632.20 127.10L632.70 127.10L633.20 127.10L633.70 127.10L634.20 127.10L634.70 127.10L635.20 127.10L635.70 127.10L636.20 127.10L636.70 127.10L637.20 127.10L637.70 127.10L638.20 127.10L638.70 127.10L639.20 127.10L639.70 127.10L640.20 127.10L640.70 127.10L641.20 127.10L641.70 127.10L642.20 127.10L642.70 127.10L643.20 127.10L643.70 127.10L644.20 127.10L644.70 127.10L645.20 127.10L645.70 127.10L646.20 127.10L646.70 127.10L647.20 127.10L647.70 127.10L648.20 127.10L648.70 127.10L649.20 127.10L649.70 127.10L650.20 127.10L650.70 127.10L651.20 127.10L651.70 127.10L652.20 127.10L652.70 127.10L653.20 127.10" stroke="#000000" stroke-width="2.0" fill="none" stroke-dasharray="4.2 4.2" stroke-dashoffset="0"/>
<path d="M471.20 127.10L471.70 127.10L472.20 127.10L472.70 127.10L473.20 127.10L473.70 127.10L474.20 127.10L474.70 127.10L475.20 127.10L475.70 127.10L476.20 127.10L476.70 127.10L477.20 127.10L477.70 127.10L478.20 127.10L478.70 127.10L479.20 127.10L479.70 127.10L480.20 127.10L480.70 127.10L481.20 127.10L481.70 127.10L482.20 127.10L482.70 127.10L483.20 127.10L483.70 127.10L484.20 127.10L484.70 127.10L485.20 127.10L485.70 127.10L486.20 127.10L486.70 127.10L487.20 127.10L487.70 127.10L488.20 127.10L488.70 127.10L489.20 127.10L489.70 127.10L490.20 127.10L490.70 127.10L491.20 127.10L491.70 127.10L492.20 127.10L492.70 127.10L493.20 127.10L493.70 127.10L494.20 127.10L494.70 127.10L495.20 127.10L495.70 127.10L496.20 127.10L496.70 127.10L497.20 127.10L497.70 127.10L498.20 127.10L498.70 127.10L499.20 127.10L499.70 127.10L500.20 127.10L500.70 127.10L501.20 127.10L501.70 127.10L502.20 127.10L502.70 127.10L503.20 127.10L503.70 127.10L504.20 127.10L504.70 127.10L505.20 127.10L505.70 127.10L506.20 127.10L506.70 127.10L507.20 127.10L507.70 127.10L508.20 127.10L508.70 127.10L509.20 127.10L509.70 127.10L510.20 127.10L510.70 127.10L511.20 127.10L511.70 127.10L512.20 127.10L512.70 127.10L513.20 127.10L513.70 127.10L514.20 127.10L514.70 127.10L515.20 127.10L515.70 127.10L516.20 127.10L516.70 127.10L517.20 127.10L517.70 127.10L518.20 127.10L518.70 127.10L519.20 127.10L519.70 127.10L520.20 127.10L520.70 127.10L521.20 127.10L521.70 127.10L522.20 127.10L522.70 127.10L523.20 127.10L523.70 127.10L524.20 127.10L524.70 127.10L525.20 127.10L525.70 127.10L526.20 127.10L526.70 127.10L527.20 127.10L527.70 127.10L528.20 127.10L528.70 127.10L529.20 127.10L529.70 127.10L530.20 127.10L530.70 127.10L531.20 127.10L531.70 127.10L532.20 127.10L532.70 127.10L533.20 127.10L533.70 127.10L534.20 127.10L534.70 127.10L535.20 127.10L535.70 127.10L536.20 127.10L536.70 127.10L537.20 127.10L537.70 127.10L538.20 127.10L538.70 127.10L539.20 127.10L539.70 127.10L540.20 127.10L540.70 127.10L541.20 127.10L541.70 127.10L542.20 127.10L542.70 127.10L543.20 127.10L543.70 127.10L544.20 127.10L544.70 127.10L545.20 127.10L545.70 127.10L546.20 127.10L546.70 127.10L547.20 127.10L547.70 127.10L548.20 127.10L548.70 127.10L549.20 127.10L549.70 127.10L550.20 127.10L550.70 127.10L551.20 127.10L551.70 127.10L552.20 127.10L552.70 127.10L553.20 127.10L553.70 127.10L554.20 127.10L554.70 127.10L555.20 127.10L555.70 127.10L556.20 127.10L556.70 127.10L557.20 127.10L557.70 127.10L558.20 127.10L558.70 127.10L559.20 127.10L559.70 127.10L560.20 127.10L560.70 127.09L561.20 127.09L561.70 127.09L562.20 127.09L562.70 127.09L563.20 127.08L563.70 127.08L564.20 127.08L564.70 127.07L565.20 127.07L565.70 127.06L566.20 127.06L566.70 127.05L567.20 127.04L567.70 127.03L568.20 127.01L568.70 127.00L569.20 126.98L569.70 126.96L570.20 126.94L570.70 126.91L571.20 126.88L571.70 126.84L572.20 126.80L572.70 126.76L573.20 126.71L573.70 126.65L574.20 126.58L574.70 126.51L575.20 126.43L575.70 126.33L576.20 126.23L576.70 126.12L577.20 125.99L577.70 125.85L578.20 125.69L578.70 125.52L579.20 125.33L579.70 125.12L580.20 124.89L580.70 124.64L581.20 124.38L581.70 124.08L582.20 123.77L582.70 123.43L583.20 123.06L583.70 122.67L584.20 122.25L584.70 121.80L585.20 121.33L585.70 120.82L586.20 120.29L586.70 119.73L587.20 119.14L587.70 118.52L588.20 117.88L588.70 117.21L589.20 116.52L589.70 115.80L590.20 115.06L590.70 114.30L591.20 113.53L591.70 112.74L592.20 111.94L592.70 111.13L593.20 110.32L593.70 109.51L594.20 108.70L594.70 107.89L595.20 107.09L595.70 106.31L596.20 105.55L596.70 104.81L597.20 104.09L597.70 103.41L598.20 102.76L598.70 102.15L599.20 101.59L599.70 101.07L600.20 100.60L600.70 100.18L601.20 99.82L601.70 99.51L602.20 99.27L602.70 99.08L603.20 98.96L603.70 98.91L604.20 98.91L604.70 98.98L605.20 99.12L605.70 99.31L606.20 99.57L606.70 99.89L607.20 100.26L607.70 100.69L608.20 101.17L608.70 101.70L609.20 102.27L609.70 102.89L610.20 103.55L610.70 104.23L611.20 104.95L611.70 105.70L612.20 106.47L612.70 107.25L613.20 108.05L613.70 108.86L614.20 109.67L614.70 110.48L615.20 111.30L615.70 112.10L616.20 112.90L616.70 113.69L617.20 114.46L617.70 115.21L618.20 115.94L618.70 116.66L619.20 117.35L619.70 118.01L620.20 118.65L620.70 119.26L621.20 119.84L621.70 120.40L622.20 120.92L622.70 121.42L623.20 121.89L623.70 122.33L624.20 122.75L624.70 123.14L625.20 123.50L625.70 123.83L626.20 124.14L626.70 124.43L627.20 124.70L627.70 124.94L628.20 125.16L628.70 125.37L629.20 125.55L629.70 125.72L630.20 125.88L630.70 126.01L631.20 126.14L631.70 126.25L632.20 126.35L632.70 126.44L633.20 126.53L633.70 126.60L634.20 126.66L634.70 126.72L635.20 126.77L635.70 126.81L636.20 126.85L636.70 126.89L637.20 126.92L637.70 126.94L638.20 126.96L638.70 126.98L639.20 127.00L639.70 127.02L640.20 127.03L640.70 127.04L641.20 127.05L641.70 127.06L642.20 127.06L642.70 127.07L643.20 127.07L643.70 127.08L644.20 127.08L644.70 127.09L645.20 127.09L645.70 127.09L646.20 127.09L646.70 127.09L647.20 127.09L647.70 127.10L648.20 127.10L648.70 127.10L649.20 127.10L649.70 127.10L650.20 127.10L650.70 127.10L651.20 127.10L651.70 127.10L652.20 127.10L652.70 127.10L653.20 127.10" stroke="#00ff00" stroke-width="2.0" fill="none" stroke-dasharray="4.2 4.2" stroke-dashoffset="2.8"/>
<path d="M525.20 127.10L525.70 127.10L526.20 127.10L526.70 127.10L527.20 127.10L527.70 127.10L528.20 127.10L528.70 127.10L529.20 127.10L529.70 127.09L530.20 127.09L530.70 127.09L531.20 127.08L531.70 127.07L532.20 127.05L532.70 127.03L533.20 127.00L533.70 126.96L534.20 126.90L534.70 126.83L535.20 126.72L535.70 126.59L536.20 126.41L536.70 126.18L537.20 125.89L537.70 125.53L538.20 125.07L538.70 124.52L539.20 123.85L539.70 123.05L540.20 122.10L540.70 121.01L541.20 119.75L541.70 118.32L542.20 116.74L542.70 115.00L543.20 113.12L543.70 111.13L544.20 109.04L544.70 106.91L545.20 104.76L545.70 102.66L546.20 100.64L546.70 98.77L547.20 97.10L547.70 95.66L548.20 94.52L548.70 93.69L549.20 93.22L549.70 93.11L550.20 93.36L550.70 93.98L551.20 94.94L551.70 96.20L552.20 97.74L552.70 99.50L553.20 101.44L553.70 103.49L554.20 105.62L554.70 107.77L555.20 109.88L555.70 111.94L556.20 113.89L556.70 115.71L557.20 117.39L557.70 118.91L558.20 120.27L558.70 121.46L559.20 122.50L559.70 123.38L560.20 124.13L560.70 124.75L561.20 125.27L561.70 125.68L562.20 126.02L562.70 126.28L563.20 126.49L563.70 126.65L564.20 126.77L564.70 126.86L565.20 126.93L565.70 126.98L566.20 127.01L566.70 127.04L567.20 127.06L567.70 127.07L568.20 127.08L568.70 127.09L569.20 127.09L569.70 127.09L570.20 127.10L570.70 127.10L571.20 127.10L571.70 127.10L572.20 127.10L572.70 127.10L573.20 127.10L573.70 127.10L574.20 127.10L574.70 127.10" stroke="#000000" stroke-width="2.0" fill="none" stroke-dasharray="4.2 4.2" stroke-dashoffset="0"/>
<path d="M471.20 127.10L471.70 127.10L472.20 127.10L472.70 127.10L473.20 127.10L473.70 127.10L474.20 127.10L474.70 127.10L475.20 127.10L475.70 127.10L476.20 127.09L476.70 127.09L477.20 127.09L477.70 127.09L478.20 127.09L478.70 127.09L479.20 127.09L479.70 127.09L480.20 127.09L480.70 127.09L481.20 127.09L481.70 127.08L482.20 127.08L482.70 127.08L483.20 127.08L483.70 127.08L484.20 127.08L484.70 127.07L485.20 127.07L485.70 127.07L486.20 127.07L486.70 127.06L487.20 127.06L487.70 127.06L488.20 127.05L488.70 127.05L489.20 127.04L489.70 127.04L490.20 127.03L490.70 127.03L491.20 127.02L491.70 127.01L492.20 127.00L492.70 127.00L493.20 126.99L493.70 126.98L494.20 126.97L494.70 126.96L495.20 126.95L495.70 126.93L496.20 126.92L496.70 126.90L497.20 126.89L497.70 126.87L498.20 126.85L498.70 126.83L499.20 126.81L499.70 126.79L500.20 126.77L500.70 126.74L501.20 126.71L501.70 126.68L502.20 126.65L502.70 126.62L503.20 126.58L503.70 126.55L504.20 126.51L504.70 126.46L505.20 126.42L505.70 126.37L506.20 126.32L506.70 126.26L507.20 126.20L507.70 126.14L508.20 126.07L508.70 126.00L509.20 125.93L509.70 125.85L510.20 125.77L510.70 125.68L511.20 125.58L511.70 125.48L512.20 125.38L512.70 125.27L513.20 125.15L513.70 125.03L514.20 124.90L514.70 124.76L515.20 124.62L515.70 124.47L516.20 124.31L516.70 124.14L517.20 123.96L517.70 123.78L518.20 123.58L518.70 123.38L519.20 123.17L519.70 122.94L520.20 122.71L520.70 122.46L521.20 122.21L521.70 121.94L522.20 121.66L522.70 121.37L523.20 121.06L523.70 120.74L524.20 120.41L524.70 120.06L525.20 119.70L525.70 119.33L526.20 118.94L526.70 118.53L527.20 118.11L527.70 117.68L528.20 117.22L528.70 116.75L529.20 116.26L529.70 115.76L530.20 115.23L530.70 114.69L531.20 114.12L531.70 113.54L532.20 112.93L532.70 112.29L533.20 111.63L533.70 110.93L534.20 110.21L534.70 109.44L535.20 108.62L535.70 107.76L536.20 106.83L536.70 105.83L537.20 104.75L537.70 103.58L538.20 102.30L538.70 100.89L539.20 99.36L539.70 97.67L540.20 95.82L540.70 93.79L541.20 91.59L541.70 89.20L542.20 86.64L542.70 83.90L543.20 81.00L543.70 77.98L544.20 74.84L544.70 71.64L545.20 68.42L545.70 65.22L546.20 62.10L546.70 59.10L547.20 56.29L547.70 53.71L548.20 51.41L548.70 49.42L549.20 47.77L549.70 46.47L550.20 45.54L550.70 44.95L551.20 44.71L551.70 44.77L552.20 45.09L552.70 45.64L553.20 46.36L553.70 47.21L554.20 48.12L554.70 49.06L555.20 49.98L555.70 50.83L556.20 51.59L556.70 52.23L557.20 52.74L557.70 53.09L558.20 53.30L558.70 53.36L559.20 53.27L559.70 53.05L560.20 52.70L560.70 52.26L561.20 51.72L561.70 51.10L562.20 50.43L562.70 49.71L563.20 48.96L563.70 48.19L564.20 47.41L564.70 46.63L565.20 45.85L565.70 45.08L566.20 44.34L566.70 43.61L567.20 42.92L567.70 42.25L568.20 41.61L568.70 41.00L569.20 40.43L569.70 39.90L570.20 39.40L570.70 38.93L571.20 38.51L571.70 38.12L572.20 37.77L572.70 37.45L573.20 37.18L573.70 36.94L574.20 36.73L574.70 36.57L575.20 36.44L575.70 36.34L576.20 36.27L576.70 36.24L577.20 36.24L577.70 36.28L578.20 36.34L578.70 36.42L579.20 36.54L579.70 36.67L580.20 36.83L580.70 37.02L581.20 37.22L581.70 37.44L582.20 37.67L582.70 37.92L583.20 38.18L583.70 38.45L584.20 38.73L584.70 39.02L585.20 39.31L585.70 39.61L586.20 39.91L586.70 40.22L587.20 40.52L587.70 40.83L588.20 41.13L588.70 41.44L589.20 41.74L589.70 42.05L590.20 42.36L590.70 42.67L591.20 42.98L591.70 43.29L592.20 43.61L592.70 43.94L593.20 44.27L593.70 44.62L594.20 44.98L594.70 45.35L595.20 45.75L595.70 46.16L596.20 46.60L596.70 47.07L597.20 47.57L597.70 48.10L598.20 48.66L598.70 49.26L599.20 49.91L599.70 50.60L600.20 51.33L600.70 52.11L601.20 52.94L601.70 53.82L602.20 54.76L602.70 55.74L603.20 56.78L603.70 57.87L604.20 59.02L604.70 60.21L605.20 61.45L605.70 62.75L606.20 64.09L606.70 65.47L607.20 66.90L607.70 68.36L608.20 69.87L608.70 71.40L609.20 72.96L609.70 74.54L610.20 76.14L610.70 77.76L611.20 79.39L611.70 81.03L612.20 82.67L612.70 84.31L613.20 85.94L613.70 87.56L614.20 89.17L614.70 90.75L615.20 92.32L615.70 93.86L616.20 95.37L616.70 96.85L617.20 98.30L617.70 99.71L618.20 101.08L618.70 102.41L619.20 103.70L619.70 104.94L620.20 106.14L620.70 107.29L621.20 108.40L621.70 109.47L622.20 110.48L622.70 111.45L623.20 112.38L623.70 113.26L624.20 114.10L624.70 114.90L625.20 115.65L625.70 116.36L626.20 117.04L626.70 117.67L627.20 118.27L627.70 118.84L628.20 119.37L628.70 119.87L629.20 120.34L629.70 120.78L630.20 121.19L630.70 121.58L631.20 121.94L631.70 122.28L632.20 122.59L632.70 122.89L633.20 123.17L633.70 123.43L634.20 123.67L634.70 123.89L635.20 124.10L635.70 124.30L636.20 124.49L636.70 124.66L637.20 124.82L637.70 124.97L638.20 125.11L638.70 125.24L639.20 125.36L639.70 125.48L640.20 125.59L640.70 125.69L641.20 125.78L641.70 125.87L642.20 125.95L642.70 126.03L643.20 126.10L643.70 126.17L644.20 126.23L644.70 126.29L645.20 126.35L645.70 126.40L646.20 126.45L646.70 126.49L647.20 126.53L647.70 126.57L648.20 126.61L648.70 126.64L649.20 126.68L649.70 126.71L650.20 126.73L650.70 126.76L651.20 126.79L651.70 126.81L652.20 126.83L652.70 126.85L653.20 126.87" stroke="#00ffff" stroke-width="2.0" fill="none" stroke-dasharray="4.2 4.2" stroke-dashoffset="5.6"/>
<path d="M470.40 128.20L476.00 128.30L481.00 127.70L485.00 128.40L490.00 128.10L494.00 127.60L499.00 127.80L504.00 127.30L508.70 127.00L513.00 125.80L517.40 123.40L524.70 119.70L532.00 111.80L539.20 98.80L543.60 72.60L547.30 50.80L551.60 43.60L560.90 50.00L567.60 42.10L573.40 36.30L577.80 37.80L582.10 33.40L590.80 43.60L598.10 53.70L602.40 58.10L609.70 72.60L617.00 95.80L621.30 114.70L627.10 123.40L632.90 126.30L641.70 127.80L646.00 130.70L651.80 130.10L653.00 130.00" stroke="#0000ff" stroke-width="2.0" fill="none" stroke-linejoin="round" />
<rect x="470.40" y="0.60" width="182.90" height="139.90" fill="none" stroke="#000" stroke-width="1.4"/>
<path d="M470.40 12.80L467.80 12.80M470.40 25.60L467.80 25.60M470.40 38.40L467.80 38.40M470.40 51.20L467.80 51.20M470.40 64.00L467.80 64.00M470.40 76.80L467.80 76.80M470.40 89.60L467.80 89.60M470.40 102.40L467.80 102.40M470.40 115.20L467.80 115.20M470.40 128.00L467.80 128.00" stroke="#000" stroke-width="1.1" fill="none"/>
<path d="M470.40 6.40L469.10 6.40M470.40 19.20L469.10 19.20M470.40 32.00L469.10 32.00M470.40 44.80L469.10 44.80M470.40 57.60L469.10 57.60M470.40 70.40L469.10 70.40M470.40 83.20L469.10 83.20M470.40 96.00L469.10 96.00M470.40 108.80L469.10 108.80M470.40 121.60L469.10 121.60M470.40 134.40L469.10 134.40" stroke="#000" stroke-width="0.9" fill="none"/>
<path d="M498.40 140.50L498.40 143.30M532.60 140.50L532.60 143.30M566.80 140.50L566.80 143.30M601.00 140.50L601.00 143.30M635.20 140.50L635.20 143.30" stroke="#000" stroke-width="1.0" fill="none"/>
<path d="M481.30 140.50L481.30 142.20M515.50 140.50L515.50 142.20M549.70 140.50L549.70 142.20M583.90 140.50L583.90 142.20M618.10 140.50L618.10 142.20M652.30 140.50L652.30 142.20" stroke="#000" stroke-width="0.8" fill="none"/>
<text x="498.40" y="153.60" font-size="11.3" text-anchor="middle" font-weight="bold" >39.6</text>
<text x="532.60" y="153.60" font-size="11.3" text-anchor="middle" font-weight="bold" >39.8</text>
<text x="566.80" y="153.60" font-size="11.3" text-anchor="middle" font-weight="bold" >40.0</text>
<text x="601.00" y="153.60" font-size="11.3" text-anchor="middle" font-weight="bold" >40.2</text>
<text x="635.20" y="153.60" font-size="11.3" text-anchor="middle" font-weight="bold" >40.4</text>
<rect x="201.5" y="218.3" width="119.69999999999999" height="89.30000000000001" fill="#fff"/>
<path d="M201.50 285.71L201.85 284.94L202.20 281.80L202.55 283.99L202.90 284.68L203.25 281.78L203.60 281.95L203.95 284.49L204.30 284.23L204.65 281.77L205.00 282.31L205.35 284.65L205.70 282.54L206.05 283.06L206.40 280.95L206.75 284.72L207.10 281.36L207.45 282.19L207.80 285.01L208.15 281.06L208.50 281.31L208.85 285.67L209.20 279.46L209.55 285.30L209.90 284.83L210.25 283.63L210.60 281.56L210.95 281.90L211.30 283.18L211.65 280.50L212.00 282.23L212.35 280.45L212.70 278.10L213.05 282.63L213.40 288.54L213.75 283.89L214.10 285.17L214.45 282.82L214.80 282.81L215.15 285.49L215.50 285.33L215.85 283.51L216.20 283.38L216.55 288.62L216.90 281.17L217.25 282.92L217.60 283.00L217.95 282.40L218.30 285.03L218.65 283.06L219.00 281.01L219.35 280.94L219.70 282.05L220.05 283.47L220.40 284.56L220.75 280.46L221.10 281.89L221.45 283.71L221.80 287.49L222.15 284.61L222.50 286.91L222.85 280.51L223.20 282.45L223.55 284.29L223.90 283.33L224.25 278.16L224.60 280.49L224.95 285.51L225.30 282.98L225.65 285.23L226.00 286.31L226.35 282.34L226.70 278.34L227.05 279.77L227.40 282.54L227.75 283.36L228.10 282.20L228.45 280.63L228.80 285.59L229.15 286.50L229.50 279.09L229.85 281.97L230.20 279.53L230.55 282.01L230.90 279.72L231.25 283.66L231.60 281.46L231.95 279.53L232.30 280.46L232.65 283.27L233.00 280.64L233.35 283.65L233.70 285.25L234.05 281.26L234.40 279.64L234.75 280.60L235.10 284.77L235.45 280.50L235.80 280.81L236.15 282.99L236.50 287.44L236.85 280.09L237.20 280.28L237.55 280.95L237.90 285.48L238.25 284.88L238.60 279.83L238.95 280.15L239.30 280.65L239.65 281.99L240.00 280.67L240.35 282.40L240.70 281.85L241.05 282.86L241.40 280.53L241.75 281.72L242.10 279.03L242.45 279.32L242.80 282.12L243.15 277.11L243.50 282.45L243.85 279.23L244.20 277.94L244.55 277.39L244.90 283.92L245.25 277.33L245.60 276.63L245.95 275.90L246.30 282.39L246.65 278.79L247.00 277.25L247.35 277.37L247.70 273.81L248.05 276.61L248.40 272.66L248.75 272.88L249.10 275.37L249.45 273.50L249.80 271.54L250.15 269.55L250.50 267.13L250.85 267.74L251.20 265.10L251.55 267.63L251.90 268.91L252.25 263.69L252.60 261.43L252.95 261.20L253.30 260.71L253.65 257.60L254.00 254.69L254.35 255.92L254.70 255.74L255.05 255.20L255.40 251.75L255.75 253.88L256.10 253.49L256.45 253.45L256.80 254.48L257.15 257.91L257.50 256.90L257.85 258.35L258.20 260.14L258.55 260.84L258.90 264.22L259.25 264.75L259.60 266.44L259.95 265.69L260.30 268.91L260.65 268.50L261.00 272.02L261.35 271.53L261.70 272.90L262.05 273.30L262.40 273.48L262.75 274.34L263.10 274.60L263.45 278.17L263.80 272.72L264.15 275.73L264.50 275.16L264.85 276.28L265.20 273.26L265.55 276.59L265.90 274.24L266.25 273.25L266.60 272.63L266.95 273.50L267.30 274.61L267.65 278.07L268.00 273.98L268.35 274.42L268.70 275.30L269.05 275.68L269.40 277.28L269.75 278.73L270.10 276.25L270.45 276.29L270.80 280.89L271.15 277.61L271.50 279.17L271.85 278.35L272.20 279.79L272.55 278.58L272.90 279.04L273.25 279.62L273.60 284.48L273.95 280.42L274.30 282.26L274.65 285.08L275.00 281.71L275.35 286.39L275.70 282.06L276.05 280.93L276.40 285.58L276.75 283.02L277.10 284.25L277.45 284.15L277.80 288.81L278.15 284.77L278.50 285.98L278.85 284.94L279.20 286.64L279.55 284.55L279.90 286.34L280.25 285.58L280.60 284.29L280.95 286.79L281.30 285.19L281.65 286.85L282.00 286.30L282.35 288.67L282.70 285.93L283.05 285.09L283.40 287.89L283.75 286.10L284.10 286.92L284.45 290.46L284.80 287.21L285.15 285.30L285.50 289.18L285.85 292.41L286.20 287.76L286.55 289.71L286.90 284.47L287.25 288.45L287.60 288.42L287.95 289.87L288.30 287.96L288.65 289.81L289.00 290.64L289.35 288.76L289.70 290.49L290.05 285.96L290.40 291.41L290.75 288.91L291.10 290.33L291.45 292.01L291.80 285.44L292.15 293.92L292.50 285.88L292.85 292.17L293.20 288.69L293.55 284.40L293.90 294.05L294.25 292.10L294.60 286.21L294.95 288.55L295.30 290.14L295.65 288.99L296.00 291.12L296.35 288.66L296.70 285.86L297.05 289.77L297.40 288.62L297.75 286.43L298.10 284.93L298.45 290.24L298.80 288.28L299.15 290.18L299.50 290.37L299.85 289.81L300.20 290.34L300.55 293.01L300.90 293.68L301.25 290.56L301.60 288.64L301.95 286.41L302.30 290.10L302.65 289.29L303.00 287.52L303.35 287.36L303.70 289.17L304.05 289.04L304.40 285.15L304.75 289.66L305.10 290.01L305.45 292.74L305.80 288.00L306.15 289.50L306.50 285.08L306.85 289.66L307.20 287.22L307.55 286.97L307.90 285.57L308.25 291.95L308.60 285.73L308.95 288.89L309.30 289.15L309.65 289.61L310.00 289.80L310.35 289.68L310.70 294.60L311.05 287.84L311.40 288.79L311.75 291.08L312.10 289.06L312.45 284.37L312.80 288.11L313.15 289.78L313.50 285.46L313.85 290.71L314.20 289.26L314.55 290.15L314.90 289.44L315.25 287.38L315.60 287.69L315.95 290.56L316.30 289.21L316.65 288.74L317.00 289.83L317.35 289.00L317.70 290.54L318.05 290.57L318.40 288.83L318.75 291.27L319.10 288.04L319.45 289.35L319.80 291.01L320.15 290.29L320.50 289.99" stroke="#808000" stroke-width="1.6" fill="none" stroke-linejoin="round" />
<circle cx="235.70" cy="288.10" r="0.95" fill="#000"/>
<circle cx="247.20" cy="284.90" r="0.95" fill="#000"/>
<circle cx="249.80" cy="275.10" r="0.95" fill="#000"/>
<circle cx="251.90" cy="263.90" r="0.95" fill="#000"/>
<circle cx="257.30" cy="256.80" r="0.95" fill="#000"/>
<circle cx="260.50" cy="268.00" r="0.95" fill="#000"/>
<circle cx="266.60" cy="275.80" r="0.95" fill="#000"/>
<circle cx="273.50" cy="280.50" r="0.95" fill="#000"/>
<circle cx="278.90" cy="288.10" r="0.95" fill="#000"/>
<circle cx="288.60" cy="288.10" r="0.95" fill="#000"/>
<circle cx="291.80" cy="288.10" r="0.95" fill="#000"/>
<circle cx="256.20" cy="255.70" r="0.95" fill="#00ffff"/>
<circle cx="259.50" cy="265.40" r="0.95" fill="#00ffff"/>
<circle cx="262.30" cy="276.70" r="0.95" fill="#00ffff"/>
<circle cx="265.90" cy="287.40" r="0.95" fill="#00ffff"/>
<circle cx="280.00" cy="288.10" r="0.95" fill="#00ffff"/>
<circle cx="293.30" cy="288.10" r="0.95" fill="#00ffff"/>
<circle cx="249.80" cy="288.10" r="0.95" fill="#ff00ff"/>
<circle cx="259.00" cy="286.40" r="0.95" fill="#ff00ff"/>
<circle cx="264.40" cy="278.80" r="0.95" fill="#ff00ff"/>
<circle cx="271.30" cy="278.00" r="0.95" fill="#ff00ff"/>
<circle cx="276.70" cy="285.50" r="0.95" fill="#ff00ff"/>
<circle cx="288.10" cy="288.10" r="0.95" fill="#ff00ff"/>
<rect x="201.50" y="218.30" width="119.70" height="89.30" fill="none" stroke="#000" stroke-width="1.4"/>
<path d="M201.50 234.20L198.90 234.20M201.50 291.30L198.90 291.30" stroke="#000" stroke-width="1.1" fill="none"/>
<path d="M201.50 274.11L200.20 274.11M201.50 264.06L200.20 264.06M201.50 256.92L200.20 256.92M201.50 251.39L200.20 251.39M201.50 246.87L200.20 246.87M201.50 243.04L200.20 243.04M201.50 239.73L200.20 239.73M201.50 236.81L200.20 236.81M201.50 303.97L200.20 303.97M201.50 300.14L200.20 300.14M201.50 296.83L200.20 296.83M201.50 293.91L200.20 293.91" stroke="#000" stroke-width="0.9" fill="none"/>
<path d="M201.70 307.60L201.70 310.40M235.70 307.60L235.70 310.40M269.70 307.60L269.70 310.40M303.70 307.60L303.70 310.40" stroke="#000" stroke-width="1.0" fill="none"/>
<path d="M218.70 307.60L218.70 309.30M252.70 307.60L252.70 309.30M286.70 307.60L286.70 309.30" stroke="#000" stroke-width="0.8" fill="none"/>
<text x="201.70" y="318.50" font-size="7.3" text-anchor="middle" font-weight="bold" >34</text>
<text x="235.70" y="318.50" font-size="7.3" text-anchor="middle" font-weight="bold" >36</text>
<text x="269.70" y="318.50" font-size="7.3" text-anchor="middle" font-weight="bold" >38</text>
<text x="303.70" y="318.50" font-size="7.3" text-anchor="middle" font-weight="bold" >40</text>
<text x="256.40" y="246.60" font-size="12.2" text-anchor="middle" font-weight="bold" >(200)</text>
<rect x="535.2" y="218.3" width="118.09999999999991" height="88.19999999999999" fill="#fff"/>
<path d="M535.40 287.36L535.75 286.83L536.10 287.51L536.45 288.95L536.80 284.37L537.15 285.37L537.50 286.96L537.85 285.33L538.20 286.57L538.55 287.79L538.90 287.11L539.25 282.37L539.60 285.38L539.95 285.31L540.30 288.20L540.65 286.20L541.00 283.18L541.35 286.59L541.70 285.37L542.05 285.04L542.40 286.24L542.75 284.51L543.10 287.11L543.45 286.60L543.80 288.95L544.15 282.73L544.50 287.05L544.85 287.47L545.20 285.01L545.55 288.77L545.90 287.78L546.25 289.46L546.60 287.77L546.95 288.65L547.30 286.76L547.65 288.15L548.00 289.17L548.35 288.54L548.70 288.20L549.05 289.06L549.40 286.13L549.75 286.67L550.10 287.74L550.45 290.66L550.80 287.04L551.15 290.91L551.50 287.75L551.85 288.06L552.20 289.44L552.55 289.99L552.90 289.72L553.25 284.32L553.60 288.84L553.95 288.75L554.30 286.42L554.65 287.51L555.00 286.29L555.35 291.12L555.70 290.83L556.05 282.36L556.40 288.60L556.75 289.15L557.10 288.23L557.45 286.61L557.80 291.24L558.15 288.07L558.50 288.74L558.85 287.33L559.20 288.37L559.55 289.89L559.90 290.66L560.25 294.51L560.60 286.85L560.95 292.12L561.30 289.71L561.65 285.61L562.00 289.78L562.35 287.65L562.70 289.36L563.05 287.50L563.40 288.87L563.75 290.03L564.10 286.26L564.45 289.51L564.80 291.90L565.15 289.51L565.50 287.51L565.85 290.74L566.20 286.39L566.55 286.03L566.90 283.13L567.25 287.89L567.60 284.78L567.95 289.02L568.30 285.81L568.65 284.26L569.00 283.20L569.35 283.59L569.70 283.24L570.05 283.86L570.40 283.21L570.75 281.53L571.10 280.82L571.45 280.42L571.80 279.59L572.15 279.04L572.50 284.28L572.85 281.56L573.20 280.67L573.55 281.30L573.90 278.13L574.25 278.36L574.60 279.52L574.95 278.81L575.30 276.62L575.65 278.89L576.00 278.41L576.35 275.97L576.70 276.11L577.05 273.95L577.40 274.69L577.75 273.14L578.10 274.02L578.45 273.45L578.80 270.82L579.15 273.64L579.50 267.80L579.85 265.87L580.20 265.76L580.55 264.78L580.90 261.76L581.25 261.66L581.60 259.00L581.95 256.26L582.30 256.35L582.65 254.70L583.00 253.76L583.35 252.54L583.70 250.99L584.05 249.62L584.40 247.16L584.75 248.10L585.10 245.44L585.45 243.37L585.80 243.50L586.15 241.97L586.50 241.68L586.85 240.03L587.20 238.99L587.55 237.88L587.90 237.97L588.25 238.36L588.60 237.22L588.95 236.71L589.30 235.98L589.65 238.65L590.00 236.97L590.35 239.00L590.70 237.57L591.05 238.35L591.40 238.97L591.75 239.37L592.10 240.47L592.45 242.00L592.80 241.91L593.15 242.03L593.50 244.01L593.85 244.89L594.20 247.06L594.55 246.07L594.90 248.69L595.25 250.08L595.60 250.95L595.95 252.50L596.30 252.97L596.65 252.46L597.00 253.86L597.35 254.08L597.70 254.85L598.05 258.24L598.40 257.52L598.75 257.21L599.10 257.12L599.45 262.11L599.80 262.91L600.15 261.36L600.50 263.08L600.85 264.67L601.20 263.68L601.55 265.93L601.90 268.79L602.25 266.44L602.60 267.00L602.95 267.06L603.30 267.39L603.65 269.13L604.00 270.44L604.35 271.77L604.70 274.00L605.05 272.77L605.40 271.27L605.75 272.34L606.10 270.92L606.45 274.68L606.80 277.96L607.15 274.25L607.50 274.44L607.85 278.54L608.20 279.86L608.55 277.30L608.90 276.87L609.25 280.45L609.60 279.52L609.95 280.73L610.30 281.91L610.65 282.59L611.00 280.32L611.35 281.61L611.70 282.54L612.05 286.88L612.40 279.07L612.75 284.19L613.10 283.02L613.45 285.31L613.80 282.76L614.15 286.80L614.50 283.95L614.85 284.80L615.20 283.05L615.55 287.25L615.90 286.62L616.25 286.07L616.60 282.08L616.95 289.20L617.30 285.78L617.65 287.90L618.00 286.16L618.35 285.68L618.70 286.84L619.05 286.76L619.40 286.88L619.75 288.81L620.10 288.18L620.45 291.51L620.80 288.76L621.15 289.79L621.50 288.83L621.85 286.96L622.20 287.78L622.55 287.72L622.90 286.61L623.25 294.45L623.60 288.15L623.95 289.19L624.30 289.45L624.65 292.26L625.00 288.32L625.35 287.24L625.70 287.56L626.05 289.91L626.40 288.49L626.75 288.01L627.10 286.37L627.45 287.56L627.80 289.81L628.15 289.98L628.50 289.89L628.85 289.82L629.20 291.44L629.55 288.82L629.90 291.98L630.25 292.28L630.60 289.82L630.95 291.87L631.30 291.19L631.65 295.58L632.00 289.13L632.35 290.83L632.70 291.14L633.05 289.95L633.40 290.52L633.75 292.54L634.10 287.12L634.45 292.08L634.80 289.16L635.15 287.58L635.50 292.59L635.85 291.08L636.20 293.13L636.55 289.23L636.90 292.13L637.25 293.91L637.60 288.84L637.95 289.66L638.30 293.54L638.65 289.22L639.00 291.24L639.35 286.50L639.70 288.33L640.05 292.97L640.40 292.38L640.75 293.78L641.10 291.59L641.45 291.81L641.80 290.42L642.15 291.79L642.50 295.35L642.85 293.82L643.20 289.23L643.55 289.75L643.90 292.47L644.25 292.44L644.60 292.53L644.95 292.15L645.30 296.08L645.65 290.41L646.00 293.71L646.35 291.98L646.70 298.37L647.05 291.84L647.40 289.66L647.75 297.65L648.10 289.35L648.45 291.42L648.80 294.02L649.15 296.05L649.50 290.08L649.85 291.90L650.20 291.23L650.55 293.05L650.90 294.23L651.25 290.70L651.60 294.61L651.95 290.65L652.30 296.34L652.65 294.55L653.00 295.80" stroke="#0000ff" stroke-width="1.6" fill="none" stroke-linejoin="round" />
<circle cx="572.10" cy="286.00" r="0.95" fill="#00ff00"/>
<circle cx="577.10" cy="277.40" r="0.95" fill="#00ff00"/>
<circle cx="581.80" cy="268.80" r="0.95" fill="#00ff00"/>
<circle cx="586.60" cy="260.10" r="0.95" fill="#00ff00"/>
<circle cx="593.70" cy="256.40" r="0.95" fill="#00ff00"/>
<circle cx="601.30" cy="263.80" r="0.95" fill="#00ff00"/>
<circle cx="606.00" cy="273.70" r="0.95" fill="#00ff00"/>
<circle cx="611.00" cy="282.80" r="0.95" fill="#00ff00"/>
<circle cx="617.50" cy="288.80" r="0.95" fill="#00ff00"/>
<circle cx="630.40" cy="289.90" r="0.95" fill="#00ff00"/>
<circle cx="565.60" cy="289.90" r="0.95" fill="#ff0000"/>
<circle cx="575.80" cy="289.30" r="0.95" fill="#ff0000"/>
<circle cx="580.10" cy="279.60" r="0.95" fill="#ff0000"/>
<circle cx="582.50" cy="267.20" r="0.95" fill="#ff0000"/>
<circle cx="585.10" cy="254.70" r="0.95" fill="#ff0000"/>
<circle cx="589.40" cy="246.10" r="0.95" fill="#ff0000"/>
<circle cx="593.10" cy="255.80" r="0.95" fill="#ff0000"/>
<circle cx="595.40" cy="267.70" r="0.95" fill="#ff0000"/>
<circle cx="597.40" cy="278.00" r="0.95" fill="#ff0000"/>
<circle cx="601.30" cy="288.60" r="0.95" fill="#ff0000"/>
<circle cx="614.20" cy="289.90" r="0.95" fill="#ff0000"/>
<circle cx="628.30" cy="289.90" r="0.95" fill="#ff0000"/>
<circle cx="579.70" cy="267.70" r="0.95" fill="#00ffff"/>
<circle cx="583.00" cy="255.80" r="0.95" fill="#00ffff"/>
<circle cx="590.50" cy="237.90" r="0.95" fill="#00ffff"/>
<circle cx="599.00" cy="259.00" r="0.95" fill="#00ffff"/>
<circle cx="604.50" cy="270.90" r="0.95" fill="#00ffff"/>
<rect x="535.20" y="218.30" width="118.10" height="88.20" fill="none" stroke="#000" stroke-width="1.4"/>
<path d="M535.20 234.20L532.60 234.20M535.20 289.30L532.60 289.30" stroke="#000" stroke-width="1.1" fill="none"/>
<path d="M535.20 272.71L533.90 272.71M535.20 263.01L533.90 263.01M535.20 256.13L533.90 256.13M535.20 250.79L533.90 250.79M535.20 246.42L533.90 246.42M535.20 242.74L533.90 242.74M535.20 239.54L533.90 239.54M535.20 236.72L533.90 236.72M535.20 305.89L533.90 305.89M535.20 301.52L533.90 301.52M535.20 297.84L533.90 297.84M535.20 294.64L533.90 294.64M535.20 291.82L533.90 291.82" stroke="#000" stroke-width="0.9" fill="none"/>
<path d="M568.75 306.50L568.75 309.30M602.50 306.50L602.50 309.30M636.25 306.50L636.25 309.30" stroke="#000" stroke-width="1.0" fill="none"/>
<path d="M551.88 306.50L551.88 308.20M585.62 306.50L585.62 308.20M619.38 306.50L619.38 308.20" stroke="#000" stroke-width="0.8" fill="none"/>
<text x="535.00" y="316.70" font-size="6.7" text-anchor="middle" font-weight="bold" >34</text>
<text x="568.75" y="316.70" font-size="6.7" text-anchor="middle" font-weight="bold" >36</text>
<text x="602.50" y="316.70" font-size="6.7" text-anchor="middle" font-weight="bold" >38</text>
<text x="636.25" y="316.70" font-size="6.7" text-anchor="middle" font-weight="bold" >40</text>
<text x="40.00" y="13.90" font-size="10.4" ><tspan>VO</tspan><tspan font-size="7.70" dy="3.12">2</tspan></text>
<line x1="39.60" y1="25.90" x2="64.50" y2="25.90" stroke="#808000" stroke-width="1.6" />
<text x="67.60" y="29.40" font-size="10.5" text-anchor="start" >Data</text>
<line x1="39.40" y1="39.40" x2="58.00" y2="39.40" stroke="#00ffff" stroke-width="1.8" stroke-dasharray="5.7 7"/>
<text x="67.60" y="43.00" font-size="10.5" text-anchor="start" >Fit</text>
<line x1="39.40" y1="52.70" x2="58.00" y2="52.70" stroke="#444" stroke-width="1.8" stroke-dasharray="5.7 7"/>
<text x="67.60" y="56.30" font-size="10.5" text-anchor="start" >Cumulative</text>
<text x="371.00" y="13.30" font-size="10.4" ><tspan>Cr</tspan><tspan font-size="7.70" dy="3.12">x</tspan><tspan dy="-3.12">V</tspan><tspan font-size="7.70" dy="3.12">1-x</tspan><tspan dy="-3.12">O</tspan><tspan font-size="7.70" dy="3.12">2</tspan></text>
<line x1="370.30" y1="25.30" x2="395.30" y2="25.30" stroke="#0000ff" stroke-width="1.6" />
<text x="398.40" y="29.00" font-size="10.5" text-anchor="start" >Data</text>
<line x1="370.10" y1="38.70" x2="388.70" y2="38.70" stroke="#ff0000" stroke-width="1.8" stroke-dasharray="5.7 7"/>
<text x="398.40" y="42.20" font-size="10.5" text-anchor="start" >Fit</text>
<line x1="370.10" y1="51.70" x2="388.70" y2="51.70" stroke="#00ffff" stroke-width="1.8" stroke-dasharray="5.7 7"/>
<text x="398.40" y="55.60" font-size="10.5" text-anchor="start" >Cumulative</text>
<text x="40.00" y="237.50" font-size="10.4" ><tspan>VO</tspan><tspan font-size="7.70" dy="3.12">2</tspan></text>
<text x="372.20" y="237.90" font-size="10.4" ><tspan>Cr</tspan><tspan font-size="7.70" dy="3.12">x</tspan><tspan dy="-3.12">V</tspan><tspan font-size="7.70" dy="3.12">1-x</tspan><tspan dy="-3.12">O</tspan><tspan font-size="7.70" dy="3.12">2</tspan></text>
<text x="41.10" y="82.90" font-size="17.5" text-anchor="start" >(a)</text>
<text x="373.00" y="81.20" font-size="17.5" text-anchor="start" >(b)</text>
<text x="111.20" y="102.50" font-size="8.6" font-weight="bold" transform="rotate(-90 111.20 102.50)" stroke="#000" stroke-width="0.35"><tspan>Al</tspan><tspan font-size="6.19" dy="2.58">2</tspan><tspan dy="-2.58">O</tspan><tspan font-size="6.19" dy="2.58">3</tspan><tspan dy="-2.58">(006)</tspan></text>
<text x="442.00" y="112.90" font-size="8.6" font-weight="bold" transform="rotate(-90 442.00 112.90)" stroke="#000" stroke-width="0.35"><tspan>Al</tspan><tspan font-size="6.19" dy="2.58">2</tspan><tspan dy="-2.58">O</tspan><tspan font-size="6.19" dy="2.58">3</tspan><tspan dy="-2.58">(006)</tspan></text>
<text x="189.40" y="296.00" font-size="8.0" font-weight="bold" transform="rotate(-90 189.40 296.00)" stroke="#000" stroke-width="0.35"><tspan>Al</tspan><tspan font-size="5.76" dy="2.40">2</tspan><tspan dy="-2.40">O</tspan><tspan font-size="5.76" dy="2.40">3</tspan><tspan dy="-2.40">(1-102)</tspan></text>
<text x="522.50" y="309.50" font-size="8.6" font-weight="bold" transform="rotate(-90 522.50 309.50)" stroke="#000" stroke-width="0.35"><tspan>Al</tspan><tspan font-size="6.19" dy="2.58">2</tspan><tspan dy="-2.58">O</tspan><tspan font-size="6.19" dy="2.58">3</tspan><tspan dy="-2.58">(1-102)</tspan></text>
<rect x="30.50" y="0.60" width="290.70" height="217.70" fill="none" stroke="#000" stroke-width="1.4"/>
<path d="M30.50 11.20L27.00 11.20M30.50 40.80L27.00 40.80M30.50 70.40L27.00 70.40M30.50 100.00L27.00 100.00M30.50 129.60L27.00 129.60M30.50 159.20L27.00 159.20M30.50 188.80L27.00 188.80M30.50 218.40L27.00 218.40" stroke="#000" stroke-width="1.1" fill="none"/>
<path d="M30.50 2.29L28.50 2.29M30.50 31.89L28.50 31.89M30.50 26.68L28.50 26.68M30.50 22.98L28.50 22.98M30.50 20.11L28.50 20.11M30.50 17.77L28.50 17.77M30.50 15.79L28.50 15.79M30.50 14.07L28.50 14.07M30.50 12.55L28.50 12.55M30.50 61.49L28.50 61.49M30.50 56.28L28.50 56.28M30.50 52.58L28.50 52.58M30.50 49.71L28.50 49.71M30.50 47.37L28.50 47.37M30.50 45.39L28.50 45.39M30.50 43.67L28.50 43.67M30.50 42.15L28.50 42.15M30.50 91.09L28.50 91.09M30.50 85.88L28.50 85.88M30.50 82.18L28.50 82.18M30.50 79.31L28.50 79.31M30.50 76.97L28.50 76.97M30.50 74.99L28.50 74.99M30.50 73.27L28.50 73.27M30.50 71.75L28.50 71.75M30.50 120.69L28.50 120.69M30.50 115.48L28.50 115.48M30.50 111.78L28.50 111.78M30.50 108.91L28.50 108.91M30.50 106.57L28.50 106.57M30.50 104.59L28.50 104.59M30.50 102.87L28.50 102.87M30.50 101.35L28.50 101.35M30.50 150.29L28.50 150.29M30.50 145.08L28.50 145.08M30.50 141.38L28.50 141.38M30.50 138.51L28.50 138.51M30.50 136.17L28.50 136.17M30.50 134.19L28.50 134.19M30.50 132.47L28.50 132.47M30.50 130.95L28.50 130.95M30.50 179.89L28.50 179.89M30.50 174.68L28.50 174.68M30.50 170.98L28.50 170.98M30.50 168.11L28.50 168.11M30.50 165.77L28.50 165.77M30.50 163.79L28.50 163.79M30.50 162.07L28.50 162.07M30.50 160.55L28.50 160.55M30.50 209.49L28.50 209.49M30.50 204.28L28.50 204.28M30.50 200.58L28.50 200.58M30.50 197.71L28.50 197.71M30.50 195.37L28.50 195.37M30.50 193.39L28.50 193.39M30.50 191.67L28.50 191.67M30.50 190.15L28.50 190.15" stroke="#000" stroke-width="0.95" fill="none"/>
<path d="M321.20 11.20L317.70 11.20M321.20 40.80L317.70 40.80M321.20 70.40L317.70 70.40M321.20 100.00L317.70 100.00M321.20 129.60L317.70 129.60M321.20 159.20L317.70 159.20M321.20 188.80L317.70 188.80M321.20 218.40L317.70 218.40" stroke="#000" stroke-width="1.1" fill="none"/>
<path d="M321.20 2.29L319.20 2.29M321.20 31.89L319.20 31.89M321.20 26.68L319.20 26.68M321.20 22.98L319.20 22.98M321.20 20.11L319.20 20.11M321.20 17.77L319.20 17.77M321.20 15.79L319.20 15.79M321.20 14.07L319.20 14.07M321.20 12.55L319.20 12.55M321.20 61.49L319.20 61.49M321.20 56.28L319.20 56.28M321.20 52.58L319.20 52.58M321.20 49.71L319.20 49.71M321.20 47.37L319.20 47.37M321.20 45.39L319.20 45.39M321.20 43.67L319.20 43.67M321.20 42.15L319.20 42.15M321.20 91.09L319.20 91.09M321.20 85.88L319.20 85.88M321.20 82.18L319.20 82.18M321.20 79.31L319.20 79.31M321.20 76.97L319.20 76.97M321.20 74.99L319.20 74.99M321.20 73.27L319.20 73.27M321.20 71.75L319.20 71.75M321.20 120.69L319.20 120.69M321.20 115.48L319.20 115.48M321.20 111.78L319.20 111.78M321.20 108.91L319.20 108.91M321.20 106.57L319.20 106.57M321.20 104.59L319.20 104.59M321.20 102.87L319.20 102.87M321.20 101.35L319.20 101.35M321.20 150.29L319.20 150.29M321.20 145.08L319.20 145.08M321.20 141.38L319.20 141.38M321.20 138.51L319.20 138.51M321.20 136.17L319.20 136.17M321.20 134.19L319.20 134.19M321.20 132.47L319.20 132.47M321.20 130.95L319.20 130.95M321.20 179.89L319.20 179.89M321.20 174.68L319.20 174.68M321.20 170.98L319.20 170.98M321.20 168.11L319.20 168.11M321.20 165.77L319.20 165.77M321.20 163.79L319.20 163.79M321.20 162.07L319.20 162.07M321.20 160.55L319.20 160.55M321.20 209.49L319.20 209.49M321.20 204.28L319.20 204.28M321.20 200.58L319.20 200.58M321.20 197.71L319.20 197.71M321.20 195.37L319.20 195.37M321.20 193.39L319.20 193.39M321.20 191.67L319.20 191.67M321.20 190.15L319.20 190.15" stroke="#000" stroke-width="0.95" fill="none"/>
<path d="M30.50 218.30L30.50 221.80M30.50 0.60L30.50 4.10M66.84 218.30L66.84 220.50M66.84 0.60L66.84 2.80M103.17 218.30L103.17 221.80M103.17 0.60L103.17 4.10M139.51 218.30L139.51 220.50M139.51 0.60L139.51 2.80M175.85 218.30L175.85 221.80M175.85 0.60L175.85 4.10M212.19 218.30L212.19 220.50M212.19 0.60L212.19 2.80M248.52 218.30L248.52 221.80M248.52 0.60L248.52 4.10M284.86 218.30L284.86 220.50M284.86 0.60L284.86 2.80M321.20 218.30L321.20 221.80M321.20 0.60L321.20 4.10" stroke="#000" stroke-width="1.0" fill="none"/>
<rect x="30.50" y="218.30" width="290.70" height="217.60" fill="none" stroke="#000" stroke-width="1.4"/>
<path d="M30.50 228.10L27.00 228.10M30.50 257.70L27.00 257.70M30.50 287.30L27.00 287.30M30.50 316.90L27.00 316.90M30.50 346.50L27.00 346.50M30.50 376.10L27.00 376.10M30.50 405.70L27.00 405.70M30.50 435.30L27.00 435.30" stroke="#000" stroke-width="1.1" fill="none"/>
<path d="M30.50 219.19L28.50 219.19M30.50 248.79L28.50 248.79M30.50 243.58L28.50 243.58M30.50 239.88L28.50 239.88M30.50 237.01L28.50 237.01M30.50 234.67L28.50 234.67M30.50 232.69L28.50 232.69M30.50 230.97L28.50 230.97M30.50 229.45L28.50 229.45M30.50 278.39L28.50 278.39M30.50 273.18L28.50 273.18M30.50 269.48L28.50 269.48M30.50 266.61L28.50 266.61M30.50 264.27L28.50 264.27M30.50 262.29L28.50 262.29M30.50 260.57L28.50 260.57M30.50 259.05L28.50 259.05M30.50 307.99L28.50 307.99M30.50 302.78L28.50 302.78M30.50 299.08L28.50 299.08M30.50 296.21L28.50 296.21M30.50 293.87L28.50 293.87M30.50 291.89L28.50 291.89M30.50 290.17L28.50 290.17M30.50 288.65L28.50 288.65M30.50 337.59L28.50 337.59M30.50 332.38L28.50 332.38M30.50 328.68L28.50 328.68M30.50 325.81L28.50 325.81M30.50 323.47L28.50 323.47M30.50 321.49L28.50 321.49M30.50 319.77L28.50 319.77M30.50 318.25L28.50 318.25M30.50 367.19L28.50 367.19M30.50 361.98L28.50 361.98M30.50 358.28L28.50 358.28M30.50 355.41L28.50 355.41M30.50 353.07L28.50 353.07M30.50 351.09L28.50 351.09M30.50 349.37L28.50 349.37M30.50 347.85L28.50 347.85M30.50 396.79L28.50 396.79M30.50 391.58L28.50 391.58M30.50 387.88L28.50 387.88M30.50 385.01L28.50 385.01M30.50 382.67L28.50 382.67M30.50 380.69L28.50 380.69M30.50 378.97L28.50 378.97M30.50 377.45L28.50 377.45M30.50 426.39L28.50 426.39M30.50 421.18L28.50 421.18M30.50 417.48L28.50 417.48M30.50 414.61L28.50 414.61M30.50 412.27L28.50 412.27M30.50 410.29L28.50 410.29M30.50 408.57L28.50 408.57M30.50 407.05L28.50 407.05" stroke="#000" stroke-width="0.95" fill="none"/>
<path d="M321.20 228.10L317.70 228.10M321.20 257.70L317.70 257.70M321.20 287.30L317.70 287.30M321.20 316.90L317.70 316.90M321.20 346.50L317.70 346.50M321.20 376.10L317.70 376.10M321.20 405.70L317.70 405.70M321.20 435.30L317.70 435.30" stroke="#000" stroke-width="1.1" fill="none"/>
<path d="M321.20 219.19L319.20 219.19M321.20 248.79L319.20 248.79M321.20 243.58L319.20 243.58M321.20 239.88L319.20 239.88M321.20 237.01L319.20 237.01M321.20 234.67L319.20 234.67M321.20 232.69L319.20 232.69M321.20 230.97L319.20 230.97M321.20 229.45L319.20 229.45M321.20 278.39L319.20 278.39M321.20 273.18L319.20 273.18M321.20 269.48L319.20 269.48M321.20 266.61L319.20 266.61M321.20 264.27L319.20 264.27M321.20 262.29L319.20 262.29M321.20 260.57L319.20 260.57M321.20 259.05L319.20 259.05M321.20 307.99L319.20 307.99M321.20 302.78L319.20 302.78M321.20 299.08L319.20 299.08M321.20 296.21L319.20 296.21M321.20 293.87L319.20 293.87M321.20 291.89L319.20 291.89M321.20 290.17L319.20 290.17M321.20 288.65L319.20 288.65M321.20 337.59L319.20 337.59M321.20 332.38L319.20 332.38M321.20 328.68L319.20 328.68M321.20 325.81L319.20 325.81M321.20 323.47L319.20 323.47M321.20 321.49L319.20 321.49M321.20 319.77L319.20 319.77M321.20 318.25L319.20 318.25M321.20 367.19L319.20 367.19M321.20 361.98L319.20 361.98M321.20 358.28L319.20 358.28M321.20 355.41L319.20 355.41M321.20 353.07L319.20 353.07M321.20 351.09L319.20 351.09M321.20 349.37L319.20 349.37M321.20 347.85L319.20 347.85M321.20 396.79L319.20 396.79M321.20 391.58L319.20 391.58M321.20 387.88L319.20 387.88M321.20 385.01L319.20 385.01M321.20 382.67L319.20 382.67M321.20 380.69L319.20 380.69M321.20 378.97L319.20 378.97M321.20 377.45L319.20 377.45M321.20 426.39L319.20 426.39M321.20 421.18L319.20 421.18M321.20 417.48L319.20 417.48M321.20 414.61L319.20 414.61M321.20 412.27L319.20 412.27M321.20 410.29L319.20 410.29M321.20 408.57L319.20 408.57M321.20 407.05L319.20 407.05" stroke="#000" stroke-width="0.95" fill="none"/>
<path d="M30.50 435.90L30.50 439.40M30.50 218.30L30.50 221.80M66.84 435.90L66.84 438.10M66.84 218.30L66.84 220.50M103.17 435.90L103.17 439.40M103.17 218.30L103.17 221.80M139.51 435.90L139.51 438.10M139.51 218.30L139.51 220.50M175.85 435.90L175.85 439.40M175.85 218.30L175.85 221.80M212.19 435.90L212.19 438.10M212.19 218.30L212.19 220.50M248.52 435.90L248.52 439.40M248.52 218.30L248.52 221.80M284.86 435.90L284.86 438.10M284.86 218.30L284.86 220.50M321.20 435.90L321.20 439.40M321.20 218.30L321.20 221.80" stroke="#000" stroke-width="1.0" fill="none"/>
<text x="30.50" y="453.30" font-size="14" text-anchor="middle" >30</text>
<text x="103.17" y="453.30" font-size="14" text-anchor="middle" >40</text>
<text x="175.85" y="453.30" font-size="14" text-anchor="middle" >50</text>
<text x="248.52" y="453.30" font-size="14" text-anchor="middle" >60</text>
<text x="321.20" y="453.30" font-size="14" text-anchor="middle" >70</text>
<text x="175.85" y="478.80" font-size="14" text-anchor="middle" >2θ (°)</text>
<rect x="362.50" y="0.60" width="290.80" height="217.70" fill="none" stroke="#000" stroke-width="1.4"/>
<path d="M362.50 11.20L359.00 11.20M362.50 40.80L359.00 40.80M362.50 70.40L359.00 70.40M362.50 100.00L359.00 100.00M362.50 129.60L359.00 129.60M362.50 159.20L359.00 159.20M362.50 188.80L359.00 188.80M362.50 218.40L359.00 218.40" stroke="#000" stroke-width="1.1" fill="none"/>
<path d="M362.50 2.29L360.50 2.29M362.50 31.89L360.50 31.89M362.50 26.68L360.50 26.68M362.50 22.98L360.50 22.98M362.50 20.11L360.50 20.11M362.50 17.77L360.50 17.77M362.50 15.79L360.50 15.79M362.50 14.07L360.50 14.07M362.50 12.55L360.50 12.55M362.50 61.49L360.50 61.49M362.50 56.28L360.50 56.28M362.50 52.58L360.50 52.58M362.50 49.71L360.50 49.71M362.50 47.37L360.50 47.37M362.50 45.39L360.50 45.39M362.50 43.67L360.50 43.67M362.50 42.15L360.50 42.15M362.50 91.09L360.50 91.09M362.50 85.88L360.50 85.88M362.50 82.18L360.50 82.18M362.50 79.31L360.50 79.31M362.50 76.97L360.50 76.97M362.50 74.99L360.50 74.99M362.50 73.27L360.50 73.27M362.50 71.75L360.50 71.75M362.50 120.69L360.50 120.69M362.50 115.48L360.50 115.48M362.50 111.78L360.50 111.78M362.50 108.91L360.50 108.91M362.50 106.57L360.50 106.57M362.50 104.59L360.50 104.59M362.50 102.87L360.50 102.87M362.50 101.35L360.50 101.35M362.50 150.29L360.50 150.29M362.50 145.08L360.50 145.08M362.50 141.38L360.50 141.38M362.50 138.51L360.50 138.51M362.50 136.17L360.50 136.17M362.50 134.19L360.50 134.19M362.50 132.47L360.50 132.47M362.50 130.95L360.50 130.95M362.50 179.89L360.50 179.89M362.50 174.68L360.50 174.68M362.50 170.98L360.50 170.98M362.50 168.11L360.50 168.11M362.50 165.77L360.50 165.77M362.50 163.79L360.50 163.79M362.50 162.07L360.50 162.07M362.50 160.55L360.50 160.55M362.50 209.49L360.50 209.49M362.50 204.28L360.50 204.28M362.50 200.58L360.50 200.58M362.50 197.71L360.50 197.71M362.50 195.37L360.50 195.37M362.50 193.39L360.50 193.39M362.50 191.67L360.50 191.67M362.50 190.15L360.50 190.15" stroke="#000" stroke-width="0.95" fill="none"/>
<path d="M653.30 11.20L649.80 11.20M653.30 40.80L649.80 40.80M653.30 70.40L649.80 70.40M653.30 100.00L649.80 100.00M653.30 129.60L649.80 129.60M653.30 159.20L649.80 159.20M653.30 188.80L649.80 188.80M653.30 218.40L649.80 218.40" stroke="#000" stroke-width="1.1" fill="none"/>
<path d="M653.30 2.29L651.30 2.29M653.30 31.89L651.30 31.89M653.30 26.68L651.30 26.68M653.30 22.98L651.30 22.98M653.30 20.11L651.30 20.11M653.30 17.77L651.30 17.77M653.30 15.79L651.30 15.79M653.30 14.07L651.30 14.07M653.30 12.55L651.30 12.55M653.30 61.49L651.30 61.49M653.30 56.28L651.30 56.28M653.30 52.58L651.30 52.58M653.30 49.71L651.30 49.71M653.30 47.37L651.30 47.37M653.30 45.39L651.30 45.39M653.30 43.67L651.30 43.67M653.30 42.15L651.30 42.15M653.30 91.09L651.30 91.09M653.30 85.88L651.30 85.88M653.30 82.18L651.30 82.18M653.30 79.31L651.30 79.31M653.30 76.97L651.30 76.97M653.30 74.99L651.30 74.99M653.30 73.27L651.30 73.27M653.30 71.75L651.30 71.75M653.30 120.69L651.30 120.69M653.30 115.48L651.30 115.48M653.30 111.78L651.30 111.78M653.30 108.91L651.30 108.91M653.30 106.57L651.30 106.57M653.30 104.59L651.30 104.59M653.30 102.87L651.30 102.87M653.30 101.35L651.30 101.35M653.30 150.29L651.30 150.29M653.30 145.08L651.30 145.08M653.30 141.38L651.30 141.38M653.30 138.51L651.30 138.51M653.30 136.17L651.30 136.17M653.30 134.19L651.30 134.19M653.30 132.47L651.30 132.47M653.30 130.95L651.30 130.95M653.30 179.89L651.30 179.89M653.30 174.68L651.30 174.68M653.30 170.98L651.30 170.98M653.30 168.11L651.30 168.11M653.30 165.77L651.30 165.77M653.30 163.79L651.30 163.79M653.30 162.07L651.30 162.07M653.30 160.55L651.30 160.55M653.30 209.49L651.30 209.49M653.30 204.28L651.30 204.28M653.30 200.58L651.30 200.58M653.30 197.71L651.30 197.71M653.30 195.37L651.30 195.37M653.30 193.39L651.30 193.39M653.30 191.67L651.30 191.67M653.30 190.15L651.30 190.15" stroke="#000" stroke-width="0.95" fill="none"/>
<path d="M362.50 218.30L362.50 221.80M362.50 0.60L362.50 4.10M398.85 218.30L398.85 220.50M398.85 0.60L398.85 2.80M435.20 218.30L435.20 221.80M435.20 0.60L435.20 4.10M471.55 218.30L471.55 220.50M471.55 0.60L471.55 2.80M507.90 218.30L507.90 221.80M507.90 0.60L507.90 4.10M544.25 218.30L544.25 220.50M544.25 0.60L544.25 2.80M580.60 218.30L580.60 221.80M580.60 0.60L580.60 4.10M616.95 218.30L616.95 220.50M616.95 0.60L616.95 2.80M653.30 218.30L653.30 221.80M653.30 0.60L653.30 4.10" stroke="#000" stroke-width="1.0" fill="none"/>
<rect x="362.50" y="218.30" width="290.80" height="217.60" fill="none" stroke="#000" stroke-width="1.4"/>
<path d="M362.50 228.10L359.00 228.10M362.50 257.70L359.00 257.70M362.50 287.30L359.00 287.30M362.50 316.90L359.00 316.90M362.50 346.50L359.00 346.50M362.50 376.10L359.00 376.10M362.50 405.70L359.00 405.70M362.50 435.30L359.00 435.30" stroke="#000" stroke-width="1.1" fill="none"/>
<path d="M362.50 219.19L360.50 219.19M362.50 248.79L360.50 248.79M362.50 243.58L360.50 243.58M362.50 239.88L360.50 239.88M362.50 237.01L360.50 237.01M362.50 234.67L360.50 234.67M362.50 232.69L360.50 232.69M362.50 230.97L360.50 230.97M362.50 229.45L360.50 229.45M362.50 278.39L360.50 278.39M362.50 273.18L360.50 273.18M362.50 269.48L360.50 269.48M362.50 266.61L360.50 266.61M362.50 264.27L360.50 264.27M362.50 262.29L360.50 262.29M362.50 260.57L360.50 260.57M362.50 259.05L360.50 259.05M362.50 307.99L360.50 307.99M362.50 302.78L360.50 302.78M362.50 299.08L360.50 299.08M362.50 296.21L360.50 296.21M362.50 293.87L360.50 293.87M362.50 291.89L360.50 291.89M362.50 290.17L360.50 290.17M362.50 288.65L360.50 288.65M362.50 337.59L360.50 337.59M362.50 332.38L360.50 332.38M362.50 328.68L360.50 328.68M362.50 325.81L360.50 325.81M362.50 323.47L360.50 323.47M362.50 321.49L360.50 321.49M362.50 319.77L360.50 319.77M362.50 318.25L360.50 318.25M362.50 367.19L360.50 367.19M362.50 361.98L360.50 361.98M362.50 358.28L360.50 358.28M362.50 355.41L360.50 355.41M362.50 353.07L360.50 353.07M362.50 351.09L360.50 351.09M362.50 349.37L360.50 349.37M362.50 347.85L360.50 347.85M362.50 396.79L360.50 396.79M362.50 391.58L360.50 391.58M362.50 387.88L360.50 387.88M362.50 385.01L360.50 385.01M362.50 382.67L360.50 382.67M362.50 380.69L360.50 380.69M362.50 378.97L360.50 378.97M362.50 377.45L360.50 377.45M362.50 426.39L360.50 426.39M362.50 421.18L360.50 421.18M362.50 417.48L360.50 417.48M362.50 414.61L360.50 414.61M362.50 412.27L360.50 412.27M362.50 410.29L360.50 410.29M362.50 408.57L360.50 408.57M362.50 407.05L360.50 407.05" stroke="#000" stroke-width="0.95" fill="none"/>
<path d="M653.30 228.10L649.80 228.10M653.30 257.70L649.80 257.70M653.30 287.30L649.80 287.30M653.30 316.90L649.80 316.90M653.30 346.50L649.80 346.50M653.30 376.10L649.80 376.10M653.30 405.70L649.80 405.70M653.30 435.30L649.80 435.30" stroke="#000" stroke-width="1.1" fill="none"/>
<path d="M653.30 219.19L651.30 219.19M653.30 248.79L651.30 248.79M653.30 243.58L651.30 243.58M653.30 239.88L651.30 239.88M653.30 237.01L651.30 237.01M653.30 234.67L651.30 234.67M653.30 232.69L651.30 232.69M653.30 230.97L651.30 230.97M653.30 229.45L651.30 229.45M653.30 278.39L651.30 278.39M653.30 273.18L651.30 273.18M653.30 269.48L651.30 269.48M653.30 266.61L651.30 266.61M653.30 264.27L651.30 264.27M653.30 262.29L651.30 262.29M653.30 260.57L651.30 260.57M653.30 259.05L651.30 259.05M653.30 307.99L651.30 307.99M653.30 302.78L651.30 302.78M653.30 299.08L651.30 299.08M653.30 296.21L651.30 296.21M653.30 293.87L651.30 293.87M653.30 291.89L651.30 291.89M653.30 290.17L651.30 290.17M653.30 288.65L651.30 288.65M653.30 337.59L651.30 337.59M653.30 332.38L651.30 332.38M653.30 328.68L651.30 328.68M653.30 325.81L651.30 325.81M653.30 323.47L651.30 323.47M653.30 321.49L651.30 321.49M653.30 319.77L651.30 319.77M653.30 318.25L651.30 318.25M653.30 367.19L651.30 367.19M653.30 361.98L651.30 361.98M653.30 358.28L651.30 358.28M653.30 355.41L651.30 355.41M653.30 353.07L651.30 353.07M653.30 351.09L651.30 351.09M653.30 349.37L651.30 349.37M653.30 347.85L651.30 347.85M653.30 396.79L651.30 396.79M653.30 391.58L651.30 391.58M653.30 387.88L651.30 387.88M653.30 385.01L651.30 385.01M653.30 382.67L651.30 382.67M653.30 380.69L651.30 380.69M653.30 378.97L651.30 378.97M653.30 377.45L651.30 377.45M653.30 426.39L651.30 426.39M653.30 421.18L651.30 421.18M653.30 417.48L651.30 417.48M653.30 414.61L651.30 414.61M653.30 412.27L651.30 412.27M653.30 410.29L651.30 410.29M653.30 408.57L651.30 408.57M653.30 407.05L651.30 407.05" stroke="#000" stroke-width="0.95" fill="none"/>
<path d="M362.50 435.90L362.50 439.40M362.50 218.30L362.50 221.80M398.85 435.90L398.85 438.10M398.85 218.30L398.85 220.50M435.20 435.90L435.20 439.40M435.20 218.30L435.20 221.80M471.55 435.90L471.55 438.10M471.55 218.30L471.55 220.50M507.90 435.90L507.90 439.40M507.90 218.30L507.90 221.80M544.25 435.90L544.25 438.10M544.25 218.30L544.25 220.50M580.60 435.90L580.60 439.40M580.60 218.30L580.60 221.80M616.95 435.90L616.95 438.10M616.95 218.30L616.95 220.50M653.30 435.90L653.30 439.40M653.30 218.30L653.30 221.80" stroke="#000" stroke-width="1.0" fill="none"/>
<text x="362.50" y="453.30" font-size="14" text-anchor="middle" >30</text>
<text x="435.20" y="453.30" font-size="14" text-anchor="middle" >40</text>
<text x="507.90" y="453.30" font-size="14" text-anchor="middle" >50</text>
<text x="580.60" y="453.30" font-size="14" text-anchor="middle" >60</text>
<text x="653.30" y="453.30" font-size="14" text-anchor="middle" >70</text>
<text x="507.90" y="478.80" font-size="14" text-anchor="middle" >2θ (°)</text>
<text x="10.50" y="99.50" font-size="14.7" text-anchor="middle" transform="rotate(-90 10.50 99.50)" >Intensity (a.u.)</text>
<text x="10.50" y="317.90" font-size="14.7" text-anchor="middle" transform="rotate(-90 10.50 317.90)" >Intensity (a.u.)</text>
</svg>
</body></html>
